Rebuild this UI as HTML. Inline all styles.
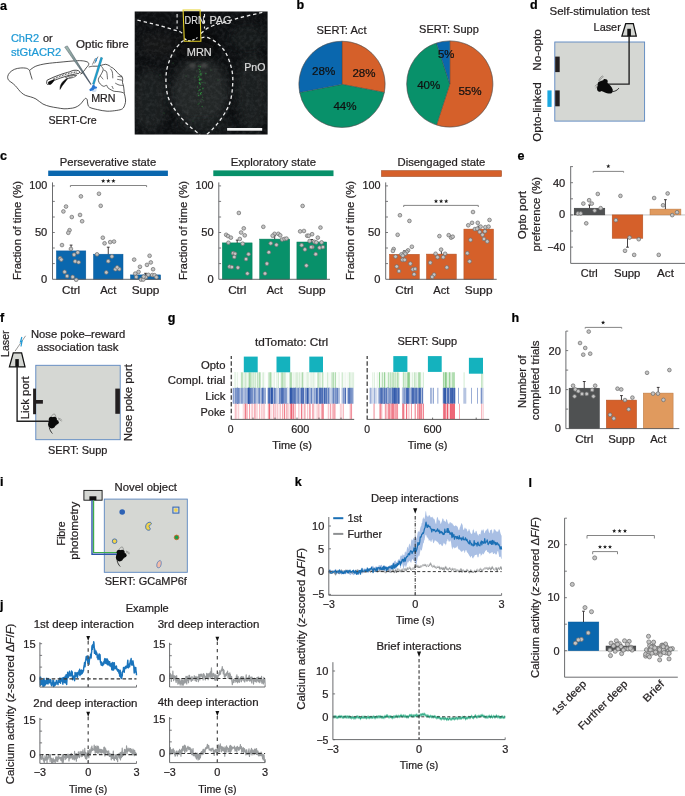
<!DOCTYPE html>
<html><head><meta charset="utf-8"><title>figure</title>
<style>html,body{margin:0;padding:0;background:#fff;overflow:hidden;}svg{display:block;}text{font-family:"Liberation Sans",sans-serif;}svg{-webkit-font-smoothing:antialiased;will-change:transform;}</style>
</head><body>
<svg width="685" height="796" viewBox="0 0 685 796">
<rect width="685" height="796" fill="#fff"/>
<text x="0.00" y="9.50" font-size="12.5" fill="#000" stroke="#000" stroke-width="0.22" font-weight="bold">a</text>
<text x="10.90" y="42.10" font-size="10.7" fill="#1f9ad6" stroke="#1f9ad6" stroke-width="0.22" textLength="28.2" lengthAdjust="spacingAndGlyphs">ChR2</text>
<text x="42.90" y="42.10" font-size="10.7" fill="#231f20" stroke="#231f20" stroke-width="0.22" textLength="9.7" lengthAdjust="spacingAndGlyphs">or</text>
<text x="10.90" y="55.70" font-size="10.7" fill="#1f9ad6" stroke="#1f9ad6" stroke-width="0.22" textLength="50.4" lengthAdjust="spacingAndGlyphs">stGtACR2</text>
<text x="76.00" y="48.40" font-size="10.7" fill="#231f20" stroke="#231f20" stroke-width="0.22" textLength="52.8" lengthAdjust="spacingAndGlyphs">Optic fibre</text>
<text x="48.40" y="124.00" font-size="10.7" fill="#231f20" stroke="#231f20" stroke-width="0.22" textLength="48.4" lengthAdjust="spacingAndGlyphs">SERT-Cre</text>
<path d="M29.60,70.30 C29.08,69.97 28.03,68.68 26.50,68.30 C24.97,67.92 22.40,67.83 20.40,68.00 C18.40,68.17 16.27,68.55 14.50,69.30 C12.73,70.05 10.93,71.30 9.80,72.50 C8.67,73.70 7.90,75.22 7.70,76.50 C7.50,77.78 7.88,79.15 8.60,80.20 C9.32,81.25 10.88,81.88 12.00,82.80 C13.12,83.72 14.22,84.58 15.30,85.70 C16.38,86.82 17.47,88.32 18.50,89.50 C19.53,90.68 20.33,91.82 21.50,92.80 C22.67,93.78 23.97,94.72 25.50,95.40 C27.03,96.08 28.95,96.30 30.70,96.90 C32.45,97.50 33.97,97.82 36.00,99.00 C38.03,100.18 40.57,102.75 42.90,104.00 C45.23,105.25 47.62,105.87 50.00,106.50 C52.38,107.13 54.87,107.42 57.20,107.80 C59.53,108.18 61.83,108.70 64.00,108.80 C66.17,108.90 68.37,108.62 70.20,108.40 C72.03,108.18 73.40,108.10 75.00,107.50 C76.60,106.90 78.47,105.88 79.80,104.80 C81.13,103.72 82.07,102.07 83.00,101.00 C83.93,99.93 84.70,98.63 85.40,98.40 C86.10,98.17 86.83,98.83 87.20,99.60 C87.57,100.37 87.22,101.73 87.60,103.00 C87.98,104.27 87.85,106.10 89.50,107.20 C91.15,108.30 94.57,108.93 97.50,109.60 C100.43,110.27 103.88,111.07 107.10,111.20 C110.32,111.33 114.25,110.80 116.80,110.40 C119.35,110.00 121.07,109.73 122.40,108.80 C123.73,107.87 124.27,106.27 124.80,104.80 C125.33,103.33 125.67,101.85 125.60,100.00 C125.53,98.15 124.68,95.55 124.40,93.70 C124.12,91.85 124.07,90.27 123.90,88.90 C123.73,87.53 123.63,86.55 123.40,85.50 C123.17,84.45 122.62,83.63 122.50,82.60 C122.38,81.57 122.78,80.33 122.70,79.30 C122.62,78.27 122.60,77.20 122.00,76.40 C121.40,75.60 120.23,75.55 119.10,74.50 C117.97,73.45 116.33,71.23 115.20,70.10 C114.07,68.97 113.02,68.18 112.30,67.70 C111.58,67.22 111.37,67.52 110.90,67.20 C110.43,66.88 110.38,66.28 109.50,65.80 C108.62,65.32 106.97,64.38 105.60,64.30 C104.23,64.22 102.65,64.98 101.30,65.30 C99.95,65.62 98.93,66.05 97.50,66.20 C96.07,66.35 94.17,66.07 92.70,66.20 C91.23,66.33 89.37,66.87 88.70,67.00" fill="none" stroke="#1a1a1a" stroke-width="0.75" />
<path d="M29.60,70.30 C30.63,69.62 33.07,67.30 35.80,66.20 C38.53,65.10 41.97,64.37 46.00,63.70 C50.03,63.03 55.12,62.68 60.00,62.20 C64.88,61.72 71.60,61.03 75.30,60.80 C79.00,60.57 80.25,60.63 82.20,60.80 C84.15,60.97 85.92,61.37 87.00,61.80 C88.08,62.23 88.48,62.80 88.70,63.40 C88.92,64.00 88.72,64.65 88.30,65.40 C87.88,66.15 86.95,66.95 86.20,67.90 C85.45,68.85 84.73,70.03 83.80,71.10 C82.87,72.17 81.13,73.77 80.60,74.30" fill="none" stroke="#1a1a1a" stroke-width="0.75" />
<path d="M29.60,70.30 C29.75,70.92 30.07,72.47 30.50,74.00 C30.93,75.53 31.92,78.58 32.20,79.50" fill="none" stroke="#1a1a1a" stroke-width="0.75" />
<path d="M101.30,66.30 C101.62,66.85 103.28,68.17 103.20,69.60 C103.12,71.03 101.52,73.53 100.80,74.90 C100.08,76.27 99.30,76.83 98.90,77.80 C98.50,78.77 98.17,79.65 98.40,80.70 C98.63,81.75 99.42,83.17 100.30,84.10 C101.18,85.03 102.65,86.10 103.70,86.30 C104.75,86.50 105.88,85.03 106.60,85.30 C107.32,85.57 107.12,87.07 108.00,87.90 C108.88,88.73 110.85,89.73 111.90,90.30 C112.95,90.87 113.27,91.08 114.30,91.30 C115.33,91.52 116.82,91.43 118.10,91.60 C119.38,91.77 121.03,92.03 122.00,92.30 C122.97,92.57 123.58,93.05 123.90,93.20" fill="none" stroke="#1a1a1a" stroke-width="0.7" />
<path d="M103.70,70.10 C104.18,70.42 105.97,70.47 106.60,72.00 C107.23,73.53 107.35,78.08 107.50,79.30" fill="none" stroke="#1a1a1a" stroke-width="0.65" />
<path d="M100.30,75.90 C100.78,76.47 102.72,78.73 103.20,79.30" fill="none" stroke="#1a1a1a" stroke-width="0.65" />
<path d="M110.40,68.70 C110.72,69.25 111.90,70.40 112.30,72.00 C112.70,73.60 112.72,77.25 112.80,78.30" fill="none" stroke="#1a1a1a" stroke-width="0.65" />
<path d="M117.60,76.40 C118.33,76.48 121.27,76.82 122.00,76.90" fill="none" stroke="#1a1a1a" stroke-width="0.65" />
<path d="M117.20,79.30 C118.00,79.45 121.20,80.05 122.00,80.20" fill="none" stroke="#1a1a1a" stroke-width="0.65" />
<path d="M115.20,83.10 C115.85,83.42 117.73,84.60 119.10,85.00 C120.47,85.40 122.68,85.42 123.40,85.50" fill="none" stroke="#1a1a1a" stroke-width="0.65" />
<path d="M111.90,86.00 C112.13,86.48 113.07,88.42 113.30,88.90" fill="none" stroke="#1a1a1a" stroke-width="0.65" />
<path d="M47.2,80.1 C52,77.8 56,76 60.4,74.6 C64,73.3 67,72.5 69.6,71.8 C71.5,71 72.8,70.4 73.9,70.3 C75.5,70.1 77.2,70.2 78.2,70.6 C79.3,71.1 79.9,71.8 79.7,72.3 C79.3,73 79,73.2 78.8,73.4 C74,74.3 70,75 66.5,76.1 C62,77.4 58,78.8 54.3,80.4 C52,81.5 50,83.2 48.1,84.4 C47.4,84.8 46.8,84.1 46.7,83 C46.6,81.8 46.8,80.6 47.2,80.1 Z" fill="#fff" stroke="#111" stroke-width="0.75" />
<path d="M53,79.2 C58,77 63,75.2 68,73.8 C71,73 73.5,72.3 77.5,71.9" fill="none" stroke="#333" stroke-width="1.3" stroke-dasharray="0.7 0.9"/>
<path d="M48.2,82 C49.5,81 52,79.9 55.2,79.2 C54,81 52.6,83 51.2,84.2 C50.2,84.9 49,84.9 48.5,84.2 C48.1,83.6 48,82.7 48.2,82 Z" fill="#0a0a0a" stroke="none" stroke-width="1" />
<path d="M60.0,89.4 C59.9,86 61.2,83.2 63.6,80.9 C65,79.6 66.6,78.6 68.2,78.0 C67.2,79.6 65.8,80.9 64.8,82.4 C63,84.4 61.4,86.8 60.0,89.4 Z" fill="#0a0a0a" stroke="#0a0a0a" stroke-width="0.5" />
<path d="M65.6,77.6 C68.5,76 72,75.3 76.6,75.5 C75.2,77 72,78 68.5,78.5 C67.2,78.6 66.1,78.3 65.6,77.6 Z" fill="#fff" stroke="#111" stroke-width="0.6" />
<path d="M68,77.3 C69.5,76.7 71.5,76.5 73.4,76.7 C71.8,77.4 70,77.8 68,77.3 Z" fill="#111" stroke="none" stroke-width="1" />
<path d="M79.7,72.3 C80.8,73.2 82,73.3 83.7,72.7" fill="none" stroke="#111" stroke-width="0.6" />
<text x="91.20" y="101.60" font-size="10.7" fill="#231f20" stroke="#231f20" stroke-width="0.22" textLength="24.4" lengthAdjust="spacingAndGlyphs">MRN</text>
<defs><linearGradient id="ng" x1="0" y1="0" x2="1" y2="1"><stop offset="0" stop-color="#a3bdb3"/><stop offset="0.55" stop-color="#6f8486"/><stop offset="1" stop-color="#2f3a50"/></linearGradient></defs>
<path d="M64.7,47.1 L67.3,45.9 L91.2,84.3 L90.7,84.5 Z" fill="url(#ng)" stroke="#3b4655" stroke-width="0.45" />
<path d="M100.8,57.3 L102.6,57.9 L94.2,84.5 L92.5,84.0 Z" fill="#1aa6d6" stroke="#0d5d80" stroke-width="0.4" />
<circle cx="94.00" cy="89.50" r="2.6" fill="#c8dcf3" stroke="none" stroke-width="0.7" opacity="0.8"/>
<path d="M89.3,89.6 L91.6,87.6 L92.6,85.0 L94.2,84.6 L95.0,86.2 L97.2,87.0 L96.6,88.6 L94.6,88.8 L93.4,90.2 L91.6,90.8 L90.0,91.2 Z" fill="#1f6fd0" stroke="none" stroke-width="1" opacity="0.95"/>
<path d="M95.5,58.2 L92.4,64.6 M98.0,56.6 L94.6,63.4" fill="none" stroke="#222" stroke-width="0.55" />
<path d="M96.9,57.8 L95.6,60.4 L96.6,60.0 L95.4,62.4" fill="none" stroke="#1e8fd6" stroke-width="0.9" />
<defs><filter id="noise" x="0" y="0" width="100%" height="100%"><feTurbulence type="fractalNoise" baseFrequency="0.28" numOctaves="3" seed="3"/><feColorMatrix type="matrix" values="0 0 0 0 0.8  0 0 0 0 0.85  0 0 0 0 0.9  0 0 0 0.75 -0.28"/></filter><filter id="blur3"><feGaussianBlur stdDeviation="4"/></filter><filter id="blur1"><feGaussianBlur stdDeviation="1.2"/></filter><clipPath id="mclip"><rect x="134.7" y="11.5" width="132.9" height="123"/></clipPath></defs>
<rect x="134.70" y="11.50" width="132.90" height="123.00" fill="#0d0f11" />
<g clip-path="url(#mclip)">
<ellipse cx="200" cy="92" rx="28" ry="34" fill="#26292a" opacity="0.9" filter="url(#blur3)"/>
<ellipse cx="150" cy="100" rx="18" ry="32" fill="#222527" opacity="0.7" filter="url(#blur3)"/>
<ellipse cx="252" cy="92" rx="16" ry="40" fill="#222527" opacity="0.7" filter="url(#blur3)"/>
<ellipse cx="160" cy="45" rx="22" ry="12" fill="#1a1d1f" opacity="0.6" filter="url(#blur3)"/>
<ellipse cx="248" cy="38" rx="18" ry="14" fill="#1d2022" opacity="0.6" filter="url(#blur3)"/>
<ellipse cx="205" cy="125" rx="30" ry="10" fill="#1f2224" opacity="0.6" filter="url(#blur3)"/>
<rect x="134.70" y="11.50" width="132.90" height="123.00" fill="#fff" filter="url(#noise)" opacity="0.22"/>
<ellipse cx="195" cy="42" rx="22" ry="9" fill="#070707" opacity="0.8" filter="url(#blur3)"/>
<ellipse cx="197" cy="50" rx="18" ry="9" fill="#080808" opacity="0.7" filter="url(#blur3)"/>
<path d="M183.2,10 L200.1,10 L200.9,41.3 L184.3,41.3 Z" fill="#030303" stroke="none" stroke-width="1" />
<ellipse cx="192" cy="65.5" rx="3.2" ry="2.6" fill="#4a4c4b" opacity="0.8" filter="url(#blur1)"/>
<ellipse cx="204" cy="65.5" rx="3.2" ry="2.6" fill="#4a4c4b" opacity="0.8" filter="url(#blur1)"/>
</g>
<circle cx="198.70" cy="68.90" r="0.5" fill="#36b046" stroke="none" stroke-width="0.7" opacity="0.48"/>
<circle cx="198.73" cy="95.47" r="0.71" fill="#36b046" stroke="none" stroke-width="0.7" opacity="0.68"/>
<circle cx="200.13" cy="74.49" r="0.46" fill="#36b046" stroke="none" stroke-width="0.7" opacity="0.70"/>
<circle cx="199.12" cy="103.19" r="0.7" fill="#36b046" stroke="none" stroke-width="0.7" opacity="0.31"/>
<circle cx="197.72" cy="86.35" r="0.48" fill="#36b046" stroke="none" stroke-width="0.7" opacity="0.66"/>
<circle cx="197.59" cy="77.41" r="0.44" fill="#36b046" stroke="none" stroke-width="0.7" opacity="0.44"/>
<circle cx="198.10" cy="104.16" r="0.72" fill="#36b046" stroke="none" stroke-width="0.7" opacity="0.34"/>
<circle cx="197.94" cy="93.40" r="0.57" fill="#36b046" stroke="none" stroke-width="0.7" opacity="0.41"/>
<circle cx="205.16" cy="82.97" r="0.61" fill="#36b046" stroke="none" stroke-width="0.7" opacity="0.35"/>
<circle cx="199.51" cy="80.57" r="0.51" fill="#36b046" stroke="none" stroke-width="0.7" opacity="0.66"/>
<circle cx="200.51" cy="86.21" r="0.41" fill="#36b046" stroke="none" stroke-width="0.7" opacity="0.62"/>
<circle cx="198.03" cy="99.83" r="0.48" fill="#36b046" stroke="none" stroke-width="0.7" opacity="0.48"/>
<circle cx="200.29" cy="71.67" r="0.48" fill="#36b046" stroke="none" stroke-width="0.7" opacity="0.74"/>
<circle cx="199.89" cy="83.75" r="0.69" fill="#36b046" stroke="none" stroke-width="0.7" opacity="0.67"/>
<circle cx="200.62" cy="70.30" r="0.39" fill="#36b046" stroke="none" stroke-width="0.7" opacity="0.69"/>
<circle cx="201.00" cy="73.64" r="0.49" fill="#36b046" stroke="none" stroke-width="0.7" opacity="0.72"/>
<circle cx="200.40" cy="89.73" r="0.48" fill="#36b046" stroke="none" stroke-width="0.7" opacity="0.66"/>
<circle cx="199.69" cy="72.71" r="0.63" fill="#36b046" stroke="none" stroke-width="0.7" opacity="0.30"/>
<circle cx="201.74" cy="82.63" r="0.44" fill="#36b046" stroke="none" stroke-width="0.7" opacity="0.57"/>
<circle cx="200.56" cy="93.23" r="0.66" fill="#36b046" stroke="none" stroke-width="0.7" opacity="0.72"/>
<circle cx="200.32" cy="66.75" r="0.7" fill="#36b046" stroke="none" stroke-width="0.7" opacity="0.53"/>
<circle cx="196.67" cy="70.98" r="0.37" fill="#36b046" stroke="none" stroke-width="0.7" opacity="0.54"/>
<circle cx="199.54" cy="69.55" r="0.59" fill="#36b046" stroke="none" stroke-width="0.7" opacity="0.63"/>
<circle cx="200.54" cy="93.76" r="0.57" fill="#36b046" stroke="none" stroke-width="0.7" opacity="0.60"/>
<circle cx="202.12" cy="99.54" r="0.53" fill="#36b046" stroke="none" stroke-width="0.7" opacity="0.42"/>
<circle cx="199.84" cy="71.35" r="0.63" fill="#36b046" stroke="none" stroke-width="0.7" opacity="0.41"/>
<circle cx="201.10" cy="73.17" r="0.53" fill="#36b046" stroke="none" stroke-width="0.7" opacity="0.42"/>
<circle cx="198.56" cy="75.99" r="0.43" fill="#36b046" stroke="none" stroke-width="0.7" opacity="0.45"/>
<circle cx="203.20" cy="82.66" r="0.37" fill="#36b046" stroke="none" stroke-width="0.7" opacity="0.40"/>
<circle cx="201.63" cy="92.59" r="0.59" fill="#36b046" stroke="none" stroke-width="0.7" opacity="0.71"/>
<circle cx="200.96" cy="94.49" r="0.6" fill="#36b046" stroke="none" stroke-width="0.7" opacity="0.53"/>
<circle cx="205.85" cy="73.48" r="0.73" fill="#36b046" stroke="none" stroke-width="0.7" opacity="0.47"/>
<circle cx="200.49" cy="101.62" r="0.46" fill="#36b046" stroke="none" stroke-width="0.7" opacity="0.40"/>
<circle cx="199.55" cy="74.87" r="0.72" fill="#36b046" stroke="none" stroke-width="0.7" opacity="0.36"/>
<circle cx="202.95" cy="88.24" r="0.72" fill="#36b046" stroke="none" stroke-width="0.7" opacity="0.61"/>
<circle cx="200.51" cy="73.48" r="0.38" fill="#36b046" stroke="none" stroke-width="0.7" opacity="0.54"/>
<circle cx="200.87" cy="79.41" r="0.48" fill="#36b046" stroke="none" stroke-width="0.7" opacity="0.49"/>
<circle cx="200.19" cy="83.78" r="0.38" fill="#36b046" stroke="none" stroke-width="0.7" opacity="0.47"/>
<circle cx="202.69" cy="97.19" r="0.67" fill="#36b046" stroke="none" stroke-width="0.7" opacity="0.42"/>
<circle cx="199.60" cy="78.22" r="0.66" fill="#36b046" stroke="none" stroke-width="0.7" opacity="0.51"/>
<circle cx="202.83" cy="82.23" r="0.49" fill="#36b046" stroke="none" stroke-width="0.7" opacity="0.67"/>
<circle cx="199.64" cy="89.87" r="0.61" fill="#36b046" stroke="none" stroke-width="0.7" opacity="0.39"/>
<circle cx="198.58" cy="90.64" r="0.69" fill="#36b046" stroke="none" stroke-width="0.7" opacity="0.41"/>
<circle cx="202.69" cy="88.88" r="0.68" fill="#36b046" stroke="none" stroke-width="0.7" opacity="0.31"/>
<circle cx="202.19" cy="106.49" r="0.74" fill="#36b046" stroke="none" stroke-width="0.7" opacity="0.46"/>
<circle cx="198.85" cy="66.10" r="0.67" fill="#36b046" stroke="none" stroke-width="0.7" opacity="0.60"/>
<circle cx="203.84" cy="100.23" r="0.38" fill="#36b046" stroke="none" stroke-width="0.7" opacity="0.56"/>
<circle cx="198.87" cy="76.85" r="0.63" fill="#36b046" stroke="none" stroke-width="0.7" opacity="0.75"/>
<circle cx="200.38" cy="84.29" r="0.63" fill="#36b046" stroke="none" stroke-width="0.7" opacity="0.53"/>
<circle cx="199.54" cy="68.07" r="0.38" fill="#36b046" stroke="none" stroke-width="0.7" opacity="0.44"/>
<circle cx="199.22" cy="79.70" r="0.67" fill="#36b046" stroke="none" stroke-width="0.7" opacity="0.73"/>
<circle cx="201.02" cy="73.91" r="0.5" fill="#36b046" stroke="none" stroke-width="0.7" opacity="0.63"/>
<circle cx="194.90" cy="77.10" r="0.7" fill="#36b046" stroke="none" stroke-width="0.7" opacity="0.36"/>
<circle cx="197.45" cy="87.55" r="0.43" fill="#36b046" stroke="none" stroke-width="0.7" opacity="0.49"/>
<circle cx="199.32" cy="82.53" r="0.61" fill="#36b046" stroke="none" stroke-width="0.7" opacity="0.56"/>
<circle cx="200.50" cy="79.50" r="1.1" fill="#36b046" stroke="none" stroke-width="0.7" opacity="0.6"/>
<circle cx="199.50" cy="83.00" r="0.8" fill="#36b046" stroke="none" stroke-width="0.7" opacity="0.6"/>
<circle cx="201.00" cy="75.00" r="0.7" fill="#36b046" stroke="none" stroke-width="0.7" opacity="0.6"/>
<circle cx="199.80" cy="90.00" r="0.7" fill="#36b046" stroke="none" stroke-width="0.7" opacity="0.6"/>
<circle cx="160.00" cy="75.00" r="0.4" fill="#3cc24e" stroke="none" stroke-width="0.7" opacity="0.7"/>
<circle cx="164.00" cy="113.00" r="0.4" fill="#3cc24e" stroke="none" stroke-width="0.7" opacity="0.7"/>
<circle cx="173.00" cy="63.00" r="0.4" fill="#3cc24e" stroke="none" stroke-width="0.7" opacity="0.7"/>
<circle cx="193.00" cy="121.00" r="0.4" fill="#3cc24e" stroke="none" stroke-width="0.7" opacity="0.7"/>
<circle cx="218.00" cy="80.00" r="0.4" fill="#3cc24e" stroke="none" stroke-width="0.7" opacity="0.7"/>
<circle cx="186.00" cy="76.00" r="0.4" fill="#3cc24e" stroke="none" stroke-width="0.7" opacity="0.7"/>
<circle cx="211.00" cy="70.00" r="0.4" fill="#3cc24e" stroke="none" stroke-width="0.7" opacity="0.7"/>
<path d="M183.80,40.60 C183.38,40.87 182.83,40.63 181.30,42.20 C179.77,43.77 176.48,47.15 174.60,50.00 C172.72,52.85 171.32,55.97 170.00,59.30 C168.68,62.63 167.37,66.00 166.70,70.00 C166.03,74.00 165.78,78.87 166.00,83.30 C166.22,87.73 166.78,92.62 168.00,96.60 C169.22,100.58 171.08,103.65 173.30,107.20 C175.52,110.75 178.42,114.57 181.30,117.90 C184.18,121.23 187.48,124.43 190.60,127.20 C193.72,129.97 198.43,133.28 200.00,134.50" fill="none" stroke="#ededed" stroke-width="1.3" stroke-dasharray="3.4 2.8" stroke-linecap="butt"/>
<path d="M201.20,37.80 C202.10,37.72 204.15,36.60 206.60,37.30 C209.05,38.00 213.02,39.88 215.90,42.00 C218.78,44.12 221.68,46.90 223.90,50.00 C226.12,53.10 227.77,56.62 229.20,60.60 C230.63,64.58 231.95,69.47 232.50,73.90 C233.05,78.33 232.83,82.75 232.50,87.20 C232.17,91.65 231.48,96.82 230.50,100.60 C229.52,104.38 228.37,106.58 226.60,109.90 C224.83,113.22 222.35,117.17 219.90,120.50 C217.45,123.83 214.12,127.57 211.90,129.90 C209.68,132.23 207.48,133.73 206.60,134.50" fill="none" stroke="#ededed" stroke-width="1.3" stroke-dasharray="3.4 2.8" stroke-linecap="butt"/>
<path d="M184.5,38.5 C186,40 188,41 190,40.8 C192.5,40.6 195,39 197.5,37.6" fill="none" stroke="#ededed" stroke-width="1.1" stroke-dasharray="2.6 1.6"/>
<path d="M137.4,20.2 C146,22 154,24 161.8,26.2 C168,28 174,30 179.7,31.5 C181.5,32.5 183,33.5 183.8,35" fill="none" stroke="#ededed" stroke-width="1.3" stroke-dasharray="3.4 2.8" stroke-linecap="butt"/>
<path d="M262.3,12.4 C254,14.5 244,16.5 235.8,18.8 C228,21 221,23 214.7,25.1 C209,27 205,29.5 202,32.5 C201,33.5 200.5,34.5 200.3,35.5" fill="none" stroke="#ededed" stroke-width="1.3" stroke-dasharray="3.4 2.8" stroke-linecap="butt"/>
<path d="M177.1,14 L177.1,29" fill="none" stroke="#ededed" stroke-width="1.1" stroke-dasharray="3.4 2.8" stroke-linecap="butt"/>
<path d="M204.5,14 L204.5,28.5" fill="none" stroke="#ededed" stroke-width="1.1" stroke-dasharray="3.4 2.8" stroke-linecap="butt"/>
<path d="M183.1,10.0 L200.1,10.0 L200.9,41.3 L184.3,41.3 Z" fill="none" stroke="#e6d22a" stroke-width="1.1" />
<text x="184.60" y="23.60" font-size="10.7" fill="#dcdcdc" stroke="#dcdcdc" stroke-width="0.22" textLength="20" lengthAdjust="spacingAndGlyphs">DRN</text>
<text x="209.40" y="23.60" font-size="10.7" fill="#dcdcdc" stroke="#dcdcdc" stroke-width="0.22" textLength="22.2" lengthAdjust="spacingAndGlyphs">PAG</text>
<text x="186.80" y="56.00" font-size="10.7" fill="#dcdcdc" stroke="#dcdcdc" stroke-width="0.22" textLength="25.0" lengthAdjust="spacingAndGlyphs">MRN</text>
<text x="244.30" y="70.60" font-size="10.7" fill="#dcdcdc" stroke="#dcdcdc" stroke-width="0.22" textLength="21.2" lengthAdjust="spacingAndGlyphs">PnO</text>
<rect x="227.10" y="128.00" width="35.10" height="2.70" fill="#f4f4f4" />
<text x="296.60" y="8.80" font-size="12.5" fill="#000" stroke="#000" stroke-width="0.22" font-weight="bold">b</text>
<path d="M342.0,84.35 L342.00,41.25 A43.1,43.1 0 0 1 384.34,92.43 Z" fill="#d5602a" stroke="#3a3a3a" stroke-width="0.35" />
<path d="M342.0,84.35 L384.34,92.43 A43.1,43.1 0 0 1 299.66,92.43 Z" fill="#08916a" stroke="#3a3a3a" stroke-width="0.35" />
<path d="M342.0,84.35 L299.66,92.43 A43.1,43.1 0 0 1 342.00,41.25 Z" fill="#0a67ae" stroke="#3a3a3a" stroke-width="0.35" />
<circle cx="342.00" cy="84.35" r="43.1" fill="none" stroke="#555" stroke-width="0.4" />
<path d="M449.8,84.0 L449.80,40.90 A43.1,43.1 0 1 1 436.48,124.99 Z" fill="#d5602a" stroke="#3a3a3a" stroke-width="0.35" />
<path d="M449.8,84.0 L436.48,124.99 A43.1,43.1 0 0 1 436.48,43.01 Z" fill="#08916a" stroke="#3a3a3a" stroke-width="0.35" />
<path d="M449.8,84.0 L436.48,43.01 A43.1,43.1 0 0 1 449.80,40.90 Z" fill="#0a67ae" stroke="#3a3a3a" stroke-width="0.35" />
<circle cx="449.80" cy="84.00" r="43.1" fill="none" stroke="#555" stroke-width="0.4" />
<text x="316.60" y="33.80" font-size="10.7" fill="#231f20" stroke="#231f20" stroke-width="0.22" textLength="49.9" lengthAdjust="spacingAndGlyphs">SERT: Act</text>
<text x="419.10" y="33.40" font-size="10.7" fill="#231f20" stroke="#231f20" stroke-width="0.22" textLength="59.7" lengthAdjust="spacingAndGlyphs">SERT: Supp</text>
<text x="312.00" y="75.30" font-size="11" fill="#111" stroke="#111" stroke-width="0.22" textLength="23.2" lengthAdjust="spacingAndGlyphs">28%</text>
<text x="352.40" y="77.10" font-size="11" fill="#111" stroke="#111" stroke-width="0.22" textLength="23.1" lengthAdjust="spacingAndGlyphs">28%</text>
<text x="333.40" y="109.50" font-size="11" fill="#111" stroke="#111" stroke-width="0.22" textLength="23.2" lengthAdjust="spacingAndGlyphs">44%</text>
<text x="438.00" y="58.40" font-size="11" fill="#111" stroke="#111" stroke-width="0.22" textLength="16.4" lengthAdjust="spacingAndGlyphs">5%</text>
<text x="417.20" y="89.20" font-size="11" fill="#111" stroke="#111" stroke-width="0.22" textLength="23.1" lengthAdjust="spacingAndGlyphs">40%</text>
<text x="458.40" y="95.30" font-size="11" fill="#111" stroke="#111" stroke-width="0.22" textLength="23.3" lengthAdjust="spacingAndGlyphs">55%</text>
<text x="529.90" y="8.50" font-size="12.5" fill="#000" stroke="#000" stroke-width="0.22" font-weight="bold">d</text>
<text x="549.50" y="14.80" font-size="10.7" fill="#231f20" stroke="#231f20" stroke-width="0.22" textLength="100.5" lengthAdjust="spacingAndGlyphs">Self-stimulation test</text>
<text x="593.60" y="30.70" font-size="10.7" fill="#231f20" stroke="#231f20" stroke-width="0.22" textLength="27.2" lengthAdjust="spacingAndGlyphs">Laser</text>
<rect x="554.80" y="42.00" width="89.80" height="79.10" fill="#d5d7d3" stroke="#5a86c0" stroke-width="0.9"/>
<rect x="555.20" y="56.60" width="4.50" height="15.50" fill="#231f20" />
<rect x="555.20" y="90.40" width="4.50" height="15.90" fill="#231f20" />
<rect x="547.40" y="90.40" width="4.20" height="16.50" fill="#1aa7e0" />
<path d="M625.7,23.7 L633.3,23.7 L636.3,36.1 L621.9,36.1 Z" fill="#d5d7d3" stroke="#111" stroke-width="1.25" />
<rect x="627.30" y="28.80" width="3.60" height="7.50" fill="#111" />
<path d="M629.1,36 L629.1,84.1 L602.8,84.1" fill="none" stroke="#222" stroke-width="1.4" />
<path d="M598.4,82 C600,81 602,80.6 603.2,80.2 C603.5,78.5 605.5,78.6 606.8,79.6 C608,80.5 607.8,82.2 607.4,83 C609.5,84.5 611.8,86.5 612.7,89.4 C613.2,91.5 612.2,93.3 610.4,93.5 C608.5,93.6 606,93.2 604.3,92.2 C603,91.6 602,91.2 601.6,91 C600.5,92.2 598.5,92 597.4,90.4 C596.8,89 597,87 597.7,85.8 C597.6,84.5 597.6,83.2 598.4,82 Z" fill="#0a0a0a" stroke="none" stroke-width="1" />
<path d="M612.3,91.6 C614.8,91.5 617.5,90.3 618.9,88.1" fill="none" stroke="#0a0a0a" stroke-width="0.8" />
<path d="M598.7,80.8 C599.3,78.5 600.8,76.6 602.8,75.8 M599.6,81 C600.4,79 601.8,77.4 603.6,76.7 M598,84.2 C596.8,84.5 595.6,85.3 594.8,86.4 M597.8,85.6 C596.9,86.3 596.2,87.3 595.9,88.4" fill="none" stroke="#333" stroke-width="0.4" />
<text x="540.60" y="70.80" font-size="10.7" fill="#231f20" stroke="#231f20" stroke-width="0.22" textLength="41.6" lengthAdjust="spacingAndGlyphs" transform="rotate(-90 540.60 70.80)">No-opto</text>
<text x="540.60" y="141.80" font-size="10.7" fill="#231f20" stroke="#231f20" stroke-width="0.22" textLength="59.4" lengthAdjust="spacingAndGlyphs" transform="rotate(-90 540.60 141.80)">Opto-linked</text>
<text x="0.00" y="159.50" font-size="12.5" fill="#000" stroke="#000" stroke-width="0.22" font-weight="bold">c</text>
<rect x="48.20" y="170.60" width="119.70" height="5.40" fill="#0a67ae" />
<text x="59.80" y="166.00" font-size="10.7" fill="#231f20" stroke="#231f20" stroke-width="0.22" textLength="96.39999999999999" lengthAdjust="spacingAndGlyphs">Perseverative state</text>
<rect x="56.40" y="250.90" width="29.40" height="28.40" fill="#0a67ae" stroke="#0a5a98" stroke-width="0.5"/>
<line x1="71.10" y1="250.90" x2="71.10" y2="245.10" stroke="#231f20" stroke-width="0.85" />
<line x1="69.70" y1="245.10" x2="72.50" y2="245.10" stroke="#231f20" stroke-width="0.85" />
<rect x="93.50" y="254.20" width="29.50" height="25.10" fill="#0a67ae" stroke="#0a5a98" stroke-width="0.5"/>
<line x1="108.25" y1="254.20" x2="108.25" y2="247.20" stroke="#231f20" stroke-width="0.85" />
<line x1="106.85" y1="247.20" x2="109.65" y2="247.20" stroke="#231f20" stroke-width="0.85" />
<rect x="130.50" y="274.90" width="30.10" height="4.40" fill="#0a67ae" stroke="#0a5a98" stroke-width="0.5"/>
<line x1="145.55" y1="274.90" x2="145.55" y2="273.30" stroke="#231f20" stroke-width="0.85" />
<line x1="144.15" y1="273.30" x2="146.95" y2="273.30" stroke="#231f20" stroke-width="0.85" />
<line x1="52.50" y1="182.40" x2="52.50" y2="279.30" stroke="#5a5b5d" stroke-width="0.9" />
<line x1="52.50" y1="185.90" x2="54.80" y2="185.90" stroke="#5a5b5d" stroke-width="0.8" />
<line x1="52.50" y1="201.40" x2="54.80" y2="201.40" stroke="#5a5b5d" stroke-width="0.8" />
<line x1="52.50" y1="217.00" x2="54.80" y2="217.00" stroke="#5a5b5d" stroke-width="0.8" />
<line x1="52.50" y1="232.50" x2="54.80" y2="232.50" stroke="#5a5b5d" stroke-width="0.8" />
<line x1="52.50" y1="248.00" x2="54.80" y2="248.00" stroke="#5a5b5d" stroke-width="0.8" />
<line x1="52.50" y1="263.60" x2="54.80" y2="263.60" stroke="#5a5b5d" stroke-width="0.8" />
<line x1="52.50" y1="279.30" x2="161.00" y2="279.30" stroke="#5a5b5d" stroke-width="0.9" />
<circle cx="80.91" cy="196.37" r="1.85" fill="#c4c4c4" stroke="#6b6b6b" stroke-width="0.7" />
<circle cx="66.02" cy="206.53" r="1.85" fill="#c4c4c4" stroke="#6b6b6b" stroke-width="0.7" />
<circle cx="63.40" cy="211.44" r="1.85" fill="#c4c4c4" stroke="#6b6b6b" stroke-width="0.7" />
<circle cx="71.80" cy="217.05" r="1.85" fill="#c4c4c4" stroke="#6b6b6b" stroke-width="0.7" />
<circle cx="80.04" cy="214.94" r="1.85" fill="#c4c4c4" stroke="#6b6b6b" stroke-width="0.7" />
<circle cx="82.14" cy="221.25" r="1.85" fill="#c4c4c4" stroke="#6b6b6b" stroke-width="0.7" />
<circle cx="69.53" cy="230.19" r="1.85" fill="#c4c4c4" stroke="#6b6b6b" stroke-width="0.7" />
<circle cx="68.30" cy="232.81" r="1.85" fill="#c4c4c4" stroke="#6b6b6b" stroke-width="0.7" />
<circle cx="61.99" cy="245.08" r="1.85" fill="#c4c4c4" stroke="#6b6b6b" stroke-width="0.7" />
<circle cx="70.93" cy="248.93" r="1.85" fill="#c4c4c4" stroke="#6b6b6b" stroke-width="0.7" />
<circle cx="77.76" cy="252.44" r="1.85" fill="#c4c4c4" stroke="#6b6b6b" stroke-width="0.7" />
<circle cx="74.08" cy="254.71" r="1.85" fill="#c4c4c4" stroke="#6b6b6b" stroke-width="0.7" />
<circle cx="60.07" cy="258.22" r="1.85" fill="#c4c4c4" stroke="#6b6b6b" stroke-width="0.7" />
<circle cx="61.29" cy="259.62" r="1.85" fill="#c4c4c4" stroke="#6b6b6b" stroke-width="0.7" />
<circle cx="75.13" cy="261.37" r="1.85" fill="#c4c4c4" stroke="#6b6b6b" stroke-width="0.7" />
<circle cx="78.64" cy="262.25" r="1.85" fill="#c4c4c4" stroke="#6b6b6b" stroke-width="0.7" />
<circle cx="64.62" cy="271.88" r="1.85" fill="#c4c4c4" stroke="#6b6b6b" stroke-width="0.7" />
<circle cx="67.07" cy="276.09" r="1.85" fill="#c4c4c4" stroke="#6b6b6b" stroke-width="0.7" />
<circle cx="72.68" cy="276.96" r="1.85" fill="#c4c4c4" stroke="#6b6b6b" stroke-width="0.7" />
<circle cx="76.18" cy="279.77" r="1.85" fill="#c4c4c4" stroke="#6b6b6b" stroke-width="0.7" />
<circle cx="98.96" cy="193.75" r="1.85" fill="#c4c4c4" stroke="#6b6b6b" stroke-width="0.7" />
<circle cx="100.71" cy="205.83" r="1.85" fill="#c4c4c4" stroke="#6b6b6b" stroke-width="0.7" />
<circle cx="102.81" cy="237.72" r="1.85" fill="#c4c4c4" stroke="#6b6b6b" stroke-width="0.7" />
<circle cx="104.57" cy="243.33" r="1.85" fill="#c4c4c4" stroke="#6b6b6b" stroke-width="0.7" />
<circle cx="110.17" cy="242.10" r="1.85" fill="#c4c4c4" stroke="#6b6b6b" stroke-width="0.7" />
<circle cx="114.03" cy="241.57" r="1.85" fill="#c4c4c4" stroke="#6b6b6b" stroke-width="0.7" />
<circle cx="97.03" cy="254.36" r="1.85" fill="#c4c4c4" stroke="#6b6b6b" stroke-width="0.7" />
<circle cx="111.92" cy="256.46" r="1.85" fill="#c4c4c4" stroke="#6b6b6b" stroke-width="0.7" />
<circle cx="108.24" cy="261.19" r="1.85" fill="#c4c4c4" stroke="#6b6b6b" stroke-width="0.7" />
<circle cx="115.43" cy="269.25" r="1.85" fill="#c4c4c4" stroke="#6b6b6b" stroke-width="0.7" />
<circle cx="119.28" cy="269.08" r="1.85" fill="#c4c4c4" stroke="#6b6b6b" stroke-width="0.7" />
<circle cx="117.18" cy="267.33" r="1.85" fill="#c4c4c4" stroke="#6b6b6b" stroke-width="0.7" />
<circle cx="106.32" cy="272.41" r="1.85" fill="#c4c4c4" stroke="#6b6b6b" stroke-width="0.7" />
<circle cx="134.17" cy="259.62" r="1.85" fill="#c4c4c4" stroke="#6b6b6b" stroke-width="0.7" />
<circle cx="149.59" cy="255.76" r="1.85" fill="#c4c4c4" stroke="#6b6b6b" stroke-width="0.7" />
<circle cx="150.82" cy="262.42" r="1.85" fill="#c4c4c4" stroke="#6b6b6b" stroke-width="0.7" />
<circle cx="146.96" cy="264.87" r="1.85" fill="#c4c4c4" stroke="#6b6b6b" stroke-width="0.7" />
<circle cx="139.95" cy="266.80" r="1.85" fill="#c4c4c4" stroke="#6b6b6b" stroke-width="0.7" />
<circle cx="153.09" cy="269.25" r="1.85" fill="#c4c4c4" stroke="#6b6b6b" stroke-width="0.7" />
<circle cx="138.55" cy="271.88" r="1.85" fill="#c4c4c4" stroke="#6b6b6b" stroke-width="0.7" />
<circle cx="135.22" cy="273.63" r="1.85" fill="#c4c4c4" stroke="#6b6b6b" stroke-width="0.7" />
<circle cx="136.28" cy="276.96" r="1.85" fill="#c4c4c4" stroke="#6b6b6b" stroke-width="0.7" />
<circle cx="141.01" cy="279.59" r="1.85" fill="#c4c4c4" stroke="#6b6b6b" stroke-width="0.7" />
<circle cx="143.28" cy="279.59" r="1.85" fill="#c4c4c4" stroke="#6b6b6b" stroke-width="0.7" />
<circle cx="145.74" cy="277.14" r="1.85" fill="#c4c4c4" stroke="#6b6b6b" stroke-width="0.7" />
<circle cx="148.36" cy="274.86" r="1.85" fill="#c4c4c4" stroke="#6b6b6b" stroke-width="0.7" />
<circle cx="152.22" cy="275.04" r="1.85" fill="#c4c4c4" stroke="#6b6b6b" stroke-width="0.7" />
<circle cx="154.50" cy="275.21" r="1.85" fill="#c4c4c4" stroke="#6b6b6b" stroke-width="0.7" />
<circle cx="156.42" cy="277.14" r="1.85" fill="#c4c4c4" stroke="#6b6b6b" stroke-width="0.7" />
<circle cx="143.63" cy="276.61" r="1.85" fill="#c4c4c4" stroke="#6b6b6b" stroke-width="0.7" />
<text x="47.30" y="189.00" font-size="10.5" fill="#231f20" stroke="#231f20" stroke-width="0.22" text-anchor="end" textLength="18.1" lengthAdjust="spacingAndGlyphs">100</text>
<text x="47.30" y="236.10" font-size="10.5" fill="#231f20" stroke="#231f20" stroke-width="0.22" text-anchor="end" textLength="12.4" lengthAdjust="spacingAndGlyphs">50</text>
<text x="47.30" y="283.00" font-size="10.5" fill="#231f20" stroke="#231f20" stroke-width="0.22" text-anchor="end" textLength="6.2" lengthAdjust="spacingAndGlyphs">0</text>
<text x="71.10" y="293.90" font-size="10.5" fill="#231f20" stroke="#231f20" stroke-width="0.22" text-anchor="middle" textLength="18.1" lengthAdjust="spacingAndGlyphs">Ctrl</text>
<text x="108.25" y="293.90" font-size="10.5" fill="#231f20" stroke="#231f20" stroke-width="0.22" text-anchor="middle" textLength="16.1" lengthAdjust="spacingAndGlyphs">Act</text>
<text x="145.55" y="293.90" font-size="10.5" fill="#231f20" stroke="#231f20" stroke-width="0.22" text-anchor="middle" textLength="27.7" lengthAdjust="spacingAndGlyphs">Supp</text>
<text x="21.00" y="280.10" font-size="10.5" fill="#231f20" stroke="#231f20" stroke-width="0.22" textLength="99.2" lengthAdjust="spacingAndGlyphs" transform="rotate(-90 21.00 280.10)">Fraction of time (%)</text>
<path d="M70.40,187.10 L70.40,185.50 L146.60,185.50 L146.60,187.10" fill="none" stroke="#777" stroke-width="0.9" />
<polygon points="103.20,178.70 103.77,180.22 105.39,180.29 104.12,181.30 104.55,182.86 103.20,181.97 101.85,182.86 102.28,181.30 101.01,180.29 102.63,180.22" fill="#1a1a1a"/>
<polygon points="108.30,178.70 108.87,180.22 110.49,180.29 109.22,181.30 109.65,182.86 108.30,181.97 106.95,182.86 107.38,181.30 106.11,180.29 107.73,180.22" fill="#1a1a1a"/>
<polygon points="113.40,178.70 113.97,180.22 115.59,180.29 114.32,181.30 114.75,182.86 113.40,181.97 112.05,182.86 112.48,181.30 111.21,180.29 112.83,180.22" fill="#1a1a1a"/>
<rect x="213.30" y="170.40" width="120.20" height="5.70" fill="#08916a" />
<text x="230.70" y="166.00" font-size="10.7" fill="#231f20" stroke="#231f20" stroke-width="0.22" textLength="85.30000000000001" lengthAdjust="spacingAndGlyphs">Exploratory state</text>
<rect x="222.30" y="242.90" width="29.80" height="36.40" fill="#08916a" stroke="#067a57" stroke-width="0.5"/>
<line x1="237.20" y1="242.90" x2="237.20" y2="240.10" stroke="#231f20" stroke-width="0.85" />
<line x1="235.80" y1="240.10" x2="238.60" y2="240.10" stroke="#231f20" stroke-width="0.85" />
<rect x="259.70" y="239.10" width="30.00" height="40.20" fill="#08916a" stroke="#067a57" stroke-width="0.5"/>
<line x1="274.70" y1="239.10" x2="274.70" y2="235.70" stroke="#231f20" stroke-width="0.85" />
<line x1="273.30" y1="235.70" x2="276.10" y2="235.70" stroke="#231f20" stroke-width="0.85" />
<rect x="296.90" y="242.00" width="29.80" height="37.30" fill="#08916a" stroke="#067a57" stroke-width="0.5"/>
<line x1="311.80" y1="242.00" x2="311.80" y2="239.50" stroke="#231f20" stroke-width="0.85" />
<line x1="310.40" y1="239.50" x2="313.20" y2="239.50" stroke="#231f20" stroke-width="0.85" />
<line x1="218.80" y1="182.40" x2="218.80" y2="279.30" stroke="#5a5b5d" stroke-width="0.9" />
<line x1="218.80" y1="185.90" x2="221.10" y2="185.90" stroke="#5a5b5d" stroke-width="0.8" />
<line x1="218.80" y1="201.40" x2="221.10" y2="201.40" stroke="#5a5b5d" stroke-width="0.8" />
<line x1="218.80" y1="217.00" x2="221.10" y2="217.00" stroke="#5a5b5d" stroke-width="0.8" />
<line x1="218.80" y1="232.50" x2="221.10" y2="232.50" stroke="#5a5b5d" stroke-width="0.8" />
<line x1="218.80" y1="248.00" x2="221.10" y2="248.00" stroke="#5a5b5d" stroke-width="0.8" />
<line x1="218.80" y1="263.60" x2="221.10" y2="263.60" stroke="#5a5b5d" stroke-width="0.8" />
<line x1="218.80" y1="279.30" x2="330.00" y2="279.30" stroke="#5a5b5d" stroke-width="0.9" />
<circle cx="238.85" cy="212.96" r="1.85" fill="#c4c4c4" stroke="#6b6b6b" stroke-width="0.7" />
<circle cx="243.78" cy="228.33" r="1.85" fill="#c4c4c4" stroke="#6b6b6b" stroke-width="0.7" />
<circle cx="241.13" cy="232.51" r="1.85" fill="#c4c4c4" stroke="#6b6b6b" stroke-width="0.7" />
<circle cx="244.73" cy="235.35" r="1.85" fill="#c4c4c4" stroke="#6b6b6b" stroke-width="0.7" />
<circle cx="226.13" cy="234.78" r="1.85" fill="#c4c4c4" stroke="#6b6b6b" stroke-width="0.7" />
<circle cx="228.03" cy="236.11" r="1.85" fill="#c4c4c4" stroke="#6b6b6b" stroke-width="0.7" />
<circle cx="230.88" cy="237.63" r="1.85" fill="#c4c4c4" stroke="#6b6b6b" stroke-width="0.7" />
<circle cx="239.80" cy="238.96" r="1.85" fill="#c4c4c4" stroke="#6b6b6b" stroke-width="0.7" />
<circle cx="228.41" cy="242.75" r="1.85" fill="#c4c4c4" stroke="#6b6b6b" stroke-width="0.7" />
<circle cx="242.64" cy="243.70" r="1.85" fill="#c4c4c4" stroke="#6b6b6b" stroke-width="0.7" />
<circle cx="233.15" cy="253.19" r="1.85" fill="#c4c4c4" stroke="#6b6b6b" stroke-width="0.7" />
<circle cx="235.05" cy="253.76" r="1.85" fill="#c4c4c4" stroke="#6b6b6b" stroke-width="0.7" />
<circle cx="234.29" cy="256.99" r="1.85" fill="#c4c4c4" stroke="#6b6b6b" stroke-width="0.7" />
<circle cx="248.53" cy="254.14" r="1.85" fill="#c4c4c4" stroke="#6b6b6b" stroke-width="0.7" />
<circle cx="246.06" cy="259.08" r="1.85" fill="#c4c4c4" stroke="#6b6b6b" stroke-width="0.7" />
<circle cx="229.55" cy="266.67" r="1.85" fill="#c4c4c4" stroke="#6b6b6b" stroke-width="0.7" />
<circle cx="231.83" cy="267.05" r="1.85" fill="#c4c4c4" stroke="#6b6b6b" stroke-width="0.7" />
<circle cx="237.90" cy="267.62" r="1.85" fill="#c4c4c4" stroke="#6b6b6b" stroke-width="0.7" />
<circle cx="247.39" cy="273.50" r="1.85" fill="#c4c4c4" stroke="#6b6b6b" stroke-width="0.7" />
<circle cx="263.33" cy="226.81" r="1.85" fill="#c4c4c4" stroke="#6b6b6b" stroke-width="0.7" />
<circle cx="274.53" cy="233.83" r="1.85" fill="#c4c4c4" stroke="#6b6b6b" stroke-width="0.7" />
<circle cx="278.32" cy="233.83" r="1.85" fill="#c4c4c4" stroke="#6b6b6b" stroke-width="0.7" />
<circle cx="280.22" cy="235.35" r="1.85" fill="#c4c4c4" stroke="#6b6b6b" stroke-width="0.7" />
<circle cx="272.63" cy="235.73" r="1.85" fill="#c4c4c4" stroke="#6b6b6b" stroke-width="0.7" />
<circle cx="282.12" cy="239.53" r="1.85" fill="#c4c4c4" stroke="#6b6b6b" stroke-width="0.7" />
<circle cx="284.59" cy="238.96" r="1.85" fill="#c4c4c4" stroke="#6b6b6b" stroke-width="0.7" />
<circle cx="286.49" cy="238.58" r="1.85" fill="#c4c4c4" stroke="#6b6b6b" stroke-width="0.7" />
<circle cx="270.73" cy="243.32" r="1.85" fill="#c4c4c4" stroke="#6b6b6b" stroke-width="0.7" />
<circle cx="276.43" cy="244.84" r="1.85" fill="#c4c4c4" stroke="#6b6b6b" stroke-width="0.7" />
<circle cx="268.83" cy="252.24" r="1.85" fill="#c4c4c4" stroke="#6b6b6b" stroke-width="0.7" />
<circle cx="266.94" cy="263.63" r="1.85" fill="#c4c4c4" stroke="#6b6b6b" stroke-width="0.7" />
<circle cx="265.04" cy="273.50" r="1.85" fill="#c4c4c4" stroke="#6b6b6b" stroke-width="0.7" />
<circle cx="302.62" cy="205.94" r="1.85" fill="#c4c4c4" stroke="#6b6b6b" stroke-width="0.7" />
<circle cx="320.46" cy="227.57" r="1.85" fill="#c4c4c4" stroke="#6b6b6b" stroke-width="0.7" />
<circle cx="300.15" cy="231.37" r="1.85" fill="#c4c4c4" stroke="#6b6b6b" stroke-width="0.7" />
<circle cx="303.95" cy="230.99" r="1.85" fill="#c4c4c4" stroke="#6b6b6b" stroke-width="0.7" />
<circle cx="312.11" cy="234.21" r="1.85" fill="#c4c4c4" stroke="#6b6b6b" stroke-width="0.7" />
<circle cx="307.17" cy="235.73" r="1.85" fill="#c4c4c4" stroke="#6b6b6b" stroke-width="0.7" />
<circle cx="308.69" cy="235.73" r="1.85" fill="#c4c4c4" stroke="#6b6b6b" stroke-width="0.7" />
<circle cx="317.80" cy="237.63" r="1.85" fill="#c4c4c4" stroke="#6b6b6b" stroke-width="0.7" />
<circle cx="309.64" cy="241.05" r="1.85" fill="#c4c4c4" stroke="#6b6b6b" stroke-width="0.7" />
<circle cx="314.38" cy="241.81" r="1.85" fill="#c4c4c4" stroke="#6b6b6b" stroke-width="0.7" />
<circle cx="316.28" cy="242.38" r="1.85" fill="#c4c4c4" stroke="#6b6b6b" stroke-width="0.7" />
<circle cx="321.60" cy="242.38" r="1.85" fill="#c4c4c4" stroke="#6b6b6b" stroke-width="0.7" />
<circle cx="301.67" cy="245.22" r="1.85" fill="#c4c4c4" stroke="#6b6b6b" stroke-width="0.7" />
<circle cx="312.49" cy="247.12" r="1.85" fill="#c4c4c4" stroke="#6b6b6b" stroke-width="0.7" />
<circle cx="311.16" cy="247.12" r="1.85" fill="#c4c4c4" stroke="#6b6b6b" stroke-width="0.7" />
<circle cx="319.51" cy="247.69" r="1.85" fill="#c4c4c4" stroke="#6b6b6b" stroke-width="0.7" />
<circle cx="322.92" cy="247.12" r="1.85" fill="#c4c4c4" stroke="#6b6b6b" stroke-width="0.7" />
<circle cx="304.89" cy="249.40" r="1.85" fill="#c4c4c4" stroke="#6b6b6b" stroke-width="0.7" />
<circle cx="315.71" cy="254.14" r="1.85" fill="#c4c4c4" stroke="#6b6b6b" stroke-width="0.7" />
<circle cx="306.41" cy="265.53" r="1.85" fill="#c4c4c4" stroke="#6b6b6b" stroke-width="0.7" />
<text x="213.60" y="189.00" font-size="10.5" fill="#231f20" stroke="#231f20" stroke-width="0.22" text-anchor="end" textLength="18.1" lengthAdjust="spacingAndGlyphs">100</text>
<text x="213.60" y="236.10" font-size="10.5" fill="#231f20" stroke="#231f20" stroke-width="0.22" text-anchor="end" textLength="12.4" lengthAdjust="spacingAndGlyphs">50</text>
<text x="213.60" y="283.00" font-size="10.5" fill="#231f20" stroke="#231f20" stroke-width="0.22" text-anchor="end" textLength="6.2" lengthAdjust="spacingAndGlyphs">0</text>
<text x="237.20" y="293.90" font-size="10.5" fill="#231f20" stroke="#231f20" stroke-width="0.22" text-anchor="middle" textLength="18.1" lengthAdjust="spacingAndGlyphs">Ctrl</text>
<text x="274.70" y="293.90" font-size="10.5" fill="#231f20" stroke="#231f20" stroke-width="0.22" text-anchor="middle" textLength="16.1" lengthAdjust="spacingAndGlyphs">Act</text>
<text x="311.80" y="293.90" font-size="10.5" fill="#231f20" stroke="#231f20" stroke-width="0.22" text-anchor="middle" textLength="27.7" lengthAdjust="spacingAndGlyphs">Supp</text>
<text x="187.20" y="280.10" font-size="10.5" fill="#231f20" stroke="#231f20" stroke-width="0.22" textLength="99.2" lengthAdjust="spacingAndGlyphs" transform="rotate(-90 187.20 280.10)">Fraction of time (%)</text>
<rect x="381.50" y="170.70" width="120.00" height="5.80" fill="#d5602a" stroke="#a04a22" stroke-width="0.6"/>
<text x="397.50" y="166.00" font-size="10.7" fill="#231f20" stroke="#231f20" stroke-width="0.22" textLength="87.89999999999998" lengthAdjust="spacingAndGlyphs">Disengaged state</text>
<rect x="389.50" y="254.30" width="29.80" height="25.00" fill="#d5602a" stroke="#b04f20" stroke-width="0.5"/>
<line x1="404.40" y1="254.30" x2="404.40" y2="250.90" stroke="#231f20" stroke-width="0.85" />
<line x1="403.00" y1="250.90" x2="405.80" y2="250.90" stroke="#231f20" stroke-width="0.85" />
<rect x="426.50" y="254.10" width="29.80" height="25.20" fill="#d5602a" stroke="#b04f20" stroke-width="0.5"/>
<line x1="441.40" y1="254.10" x2="441.40" y2="249.60" stroke="#231f20" stroke-width="0.85" />
<line x1="440.00" y1="249.60" x2="442.80" y2="249.60" stroke="#231f20" stroke-width="0.85" />
<rect x="463.90" y="229.10" width="29.60" height="50.20" fill="#d5602a" stroke="#b04f20" stroke-width="0.5"/>
<line x1="478.70" y1="229.10" x2="478.70" y2="226.20" stroke="#231f20" stroke-width="0.85" />
<line x1="477.30" y1="226.20" x2="480.10" y2="226.20" stroke="#231f20" stroke-width="0.85" />
<line x1="385.70" y1="182.40" x2="385.70" y2="279.30" stroke="#5a5b5d" stroke-width="0.9" />
<line x1="385.70" y1="185.90" x2="388.00" y2="185.90" stroke="#5a5b5d" stroke-width="0.8" />
<line x1="385.70" y1="201.40" x2="388.00" y2="201.40" stroke="#5a5b5d" stroke-width="0.8" />
<line x1="385.70" y1="217.00" x2="388.00" y2="217.00" stroke="#5a5b5d" stroke-width="0.8" />
<line x1="385.70" y1="232.50" x2="388.00" y2="232.50" stroke="#5a5b5d" stroke-width="0.8" />
<line x1="385.70" y1="248.00" x2="388.00" y2="248.00" stroke="#5a5b5d" stroke-width="0.8" />
<line x1="385.70" y1="263.60" x2="388.00" y2="263.60" stroke="#5a5b5d" stroke-width="0.8" />
<line x1="385.70" y1="279.30" x2="496.70" y2="279.30" stroke="#5a5b5d" stroke-width="0.9" />
<circle cx="399.93" cy="215.24" r="1.85" fill="#c4c4c4" stroke="#6b6b6b" stroke-width="0.7" />
<circle cx="409.42" cy="220.93" r="1.85" fill="#c4c4c4" stroke="#6b6b6b" stroke-width="0.7" />
<circle cx="397.65" cy="234.78" r="1.85" fill="#c4c4c4" stroke="#6b6b6b" stroke-width="0.7" />
<circle cx="411.88" cy="246.74" r="1.85" fill="#c4c4c4" stroke="#6b6b6b" stroke-width="0.7" />
<circle cx="393.66" cy="249.02" r="1.85" fill="#c4c4c4" stroke="#6b6b6b" stroke-width="0.7" />
<circle cx="392.91" cy="250.92" r="1.85" fill="#c4c4c4" stroke="#6b6b6b" stroke-width="0.7" />
<circle cx="408.09" cy="250.35" r="1.85" fill="#c4c4c4" stroke="#6b6b6b" stroke-width="0.7" />
<circle cx="406.57" cy="251.86" r="1.85" fill="#c4c4c4" stroke="#6b6b6b" stroke-width="0.7" />
<circle cx="404.29" cy="252.81" r="1.85" fill="#c4c4c4" stroke="#6b6b6b" stroke-width="0.7" />
<circle cx="401.45" cy="254.33" r="1.85" fill="#c4c4c4" stroke="#6b6b6b" stroke-width="0.7" />
<circle cx="405.24" cy="253.76" r="1.85" fill="#c4c4c4" stroke="#6b6b6b" stroke-width="0.7" />
<circle cx="402.77" cy="255.66" r="1.85" fill="#c4c4c4" stroke="#6b6b6b" stroke-width="0.7" />
<circle cx="395.56" cy="256.61" r="1.85" fill="#c4c4c4" stroke="#6b6b6b" stroke-width="0.7" />
<circle cx="402.40" cy="259.84" r="1.85" fill="#c4c4c4" stroke="#6b6b6b" stroke-width="0.7" />
<circle cx="404.67" cy="259.84" r="1.85" fill="#c4c4c4" stroke="#6b6b6b" stroke-width="0.7" />
<circle cx="410.37" cy="263.63" r="1.85" fill="#c4c4c4" stroke="#6b6b6b" stroke-width="0.7" />
<circle cx="396.70" cy="266.48" r="1.85" fill="#c4c4c4" stroke="#6b6b6b" stroke-width="0.7" />
<circle cx="398.98" cy="271.03" r="1.85" fill="#c4c4c4" stroke="#6b6b6b" stroke-width="0.7" />
<circle cx="412.83" cy="269.33" r="1.85" fill="#c4c4c4" stroke="#6b6b6b" stroke-width="0.7" />
<circle cx="415.11" cy="268.95" r="1.85" fill="#c4c4c4" stroke="#6b6b6b" stroke-width="0.7" />
<circle cx="414.16" cy="274.26" r="1.85" fill="#c4c4c4" stroke="#6b6b6b" stroke-width="0.7" />
<circle cx="439.40" cy="236.11" r="1.85" fill="#c4c4c4" stroke="#6b6b6b" stroke-width="0.7" />
<circle cx="448.70" cy="235.16" r="1.85" fill="#c4c4c4" stroke="#6b6b6b" stroke-width="0.7" />
<circle cx="451.17" cy="237.63" r="1.85" fill="#c4c4c4" stroke="#6b6b6b" stroke-width="0.7" />
<circle cx="452.69" cy="236.68" r="1.85" fill="#c4c4c4" stroke="#6b6b6b" stroke-width="0.7" />
<circle cx="441.11" cy="249.59" r="1.85" fill="#c4c4c4" stroke="#6b6b6b" stroke-width="0.7" />
<circle cx="435.61" cy="253.76" r="1.85" fill="#c4c4c4" stroke="#6b6b6b" stroke-width="0.7" />
<circle cx="445.10" cy="253.76" r="1.85" fill="#c4c4c4" stroke="#6b6b6b" stroke-width="0.7" />
<circle cx="437.51" cy="257.18" r="1.85" fill="#c4c4c4" stroke="#6b6b6b" stroke-width="0.7" />
<circle cx="443.20" cy="257.18" r="1.85" fill="#c4c4c4" stroke="#6b6b6b" stroke-width="0.7" />
<circle cx="430.29" cy="262.68" r="1.85" fill="#c4c4c4" stroke="#6b6b6b" stroke-width="0.7" />
<circle cx="446.81" cy="267.43" r="1.85" fill="#c4c4c4" stroke="#6b6b6b" stroke-width="0.7" />
<circle cx="434.09" cy="274.64" r="1.85" fill="#c4c4c4" stroke="#6b6b6b" stroke-width="0.7" />
<circle cx="432.19" cy="276.92" r="1.85" fill="#c4c4c4" stroke="#6b6b6b" stroke-width="0.7" />
<circle cx="473.00" cy="212.01" r="1.85" fill="#c4c4c4" stroke="#6b6b6b" stroke-width="0.7" />
<circle cx="489.51" cy="219.98" r="1.85" fill="#c4c4c4" stroke="#6b6b6b" stroke-width="0.7" />
<circle cx="468.25" cy="225.29" r="1.85" fill="#c4c4c4" stroke="#6b6b6b" stroke-width="0.7" />
<circle cx="472.05" cy="222.83" r="1.85" fill="#c4c4c4" stroke="#6b6b6b" stroke-width="0.7" />
<circle cx="477.74" cy="222.83" r="1.85" fill="#c4c4c4" stroke="#6b6b6b" stroke-width="0.7" />
<circle cx="480.59" cy="226.62" r="1.85" fill="#c4c4c4" stroke="#6b6b6b" stroke-width="0.7" />
<circle cx="485.33" cy="227.19" r="1.85" fill="#c4c4c4" stroke="#6b6b6b" stroke-width="0.7" />
<circle cx="488.56" cy="226.62" r="1.85" fill="#c4c4c4" stroke="#6b6b6b" stroke-width="0.7" />
<circle cx="474.89" cy="229.09" r="1.85" fill="#c4c4c4" stroke="#6b6b6b" stroke-width="0.7" />
<circle cx="477.17" cy="228.71" r="1.85" fill="#c4c4c4" stroke="#6b6b6b" stroke-width="0.7" />
<circle cx="479.64" cy="231.94" r="1.85" fill="#c4c4c4" stroke="#6b6b6b" stroke-width="0.7" />
<circle cx="482.49" cy="234.78" r="1.85" fill="#c4c4c4" stroke="#6b6b6b" stroke-width="0.7" />
<circle cx="484.95" cy="231.37" r="1.85" fill="#c4c4c4" stroke="#6b6b6b" stroke-width="0.7" />
<circle cx="470.53" cy="239.91" r="1.85" fill="#c4c4c4" stroke="#6b6b6b" stroke-width="0.7" />
<circle cx="484.00" cy="238.96" r="1.85" fill="#c4c4c4" stroke="#6b6b6b" stroke-width="0.7" />
<circle cx="487.23" cy="241.43" r="1.85" fill="#c4c4c4" stroke="#6b6b6b" stroke-width="0.7" />
<circle cx="467.30" cy="253.19" r="1.85" fill="#c4c4c4" stroke="#6b6b6b" stroke-width="0.7" />
<circle cx="469.58" cy="261.35" r="1.85" fill="#c4c4c4" stroke="#6b6b6b" stroke-width="0.7" />
<text x="380.50" y="189.00" font-size="10.5" fill="#231f20" stroke="#231f20" stroke-width="0.22" text-anchor="end" textLength="18.1" lengthAdjust="spacingAndGlyphs">100</text>
<text x="380.50" y="236.10" font-size="10.5" fill="#231f20" stroke="#231f20" stroke-width="0.22" text-anchor="end" textLength="12.4" lengthAdjust="spacingAndGlyphs">50</text>
<text x="380.50" y="283.00" font-size="10.5" fill="#231f20" stroke="#231f20" stroke-width="0.22" text-anchor="end" textLength="6.2" lengthAdjust="spacingAndGlyphs">0</text>
<text x="404.40" y="293.90" font-size="10.5" fill="#231f20" stroke="#231f20" stroke-width="0.22" text-anchor="middle" textLength="18.1" lengthAdjust="spacingAndGlyphs">Ctrl</text>
<text x="441.40" y="293.90" font-size="10.5" fill="#231f20" stroke="#231f20" stroke-width="0.22" text-anchor="middle" textLength="16.1" lengthAdjust="spacingAndGlyphs">Act</text>
<text x="478.70" y="293.90" font-size="10.5" fill="#231f20" stroke="#231f20" stroke-width="0.22" text-anchor="middle" textLength="27.7" lengthAdjust="spacingAndGlyphs">Supp</text>
<text x="354.00" y="280.10" font-size="10.5" fill="#231f20" stroke="#231f20" stroke-width="0.22" textLength="99.2" lengthAdjust="spacingAndGlyphs" transform="rotate(-90 354.00 280.10)">Fraction of time (%)</text>
<path d="M403.70,207.00 L403.70,205.40 L478.30,205.40 L478.30,207.00" fill="none" stroke="#777" stroke-width="0.9" />
<polygon points="436.00,198.90 436.57,200.42 438.19,200.49 436.92,201.50 437.35,203.06 436.00,202.17 434.65,203.06 435.08,201.50 433.81,200.49 435.43,200.42" fill="#1a1a1a"/>
<polygon points="441.10,198.90 441.67,200.42 443.29,200.49 442.02,201.50 442.45,203.06 441.10,202.17 439.75,203.06 440.18,201.50 438.91,200.49 440.53,200.42" fill="#1a1a1a"/>
<polygon points="446.20,198.90 446.77,200.42 448.39,200.49 447.12,201.50 447.55,203.06 446.20,202.17 444.85,203.06 445.28,201.50 444.01,200.49 445.63,200.42" fill="#1a1a1a"/>
<text x="517.60" y="160.20" font-size="12.5" fill="#000" stroke="#000" stroke-width="0.22" font-weight="bold">e</text>
<line x1="570.70" y1="214.90" x2="685.00" y2="214.90" stroke="#dcdcdc" stroke-width="1.6" />
<rect x="574.20" y="208.20" width="30.60" height="6.70" fill="#4f5152" stroke="#353738" stroke-width="0.5"/>
<rect x="612.20" y="214.90" width="30.60" height="23.40" fill="#d5602a" stroke="#b04f20" stroke-width="0.5"/>
<rect x="650.00" y="209.10" width="30.90" height="5.80" fill="#e09a5e" stroke="#b8763f" stroke-width="0.5"/>
<line x1="589.50" y1="208.20" x2="589.50" y2="205.00" stroke="#231f20" stroke-width="0.85" />
<line x1="588.10" y1="205.00" x2="590.90" y2="205.00" stroke="#231f20" stroke-width="0.85" />
<line x1="627.50" y1="238.30" x2="627.50" y2="247.20" stroke="#231f20" stroke-width="0.85" />
<line x1="626.10" y1="247.20" x2="628.90" y2="247.20" stroke="#231f20" stroke-width="0.85" />
<line x1="665.40" y1="209.10" x2="665.40" y2="199.70" stroke="#231f20" stroke-width="0.85" />
<line x1="664.00" y1="199.70" x2="666.80" y2="199.70" stroke="#231f20" stroke-width="0.85" />
<line x1="570.70" y1="166.20" x2="570.70" y2="263.40" stroke="#5a5b5d" stroke-width="0.9" />
<line x1="570.70" y1="166.60" x2="573.00" y2="166.60" stroke="#5a5b5d" stroke-width="0.8" />
<line x1="570.70" y1="182.70" x2="573.00" y2="182.70" stroke="#5a5b5d" stroke-width="0.8" />
<line x1="570.70" y1="198.80" x2="573.00" y2="198.80" stroke="#5a5b5d" stroke-width="0.8" />
<line x1="570.70" y1="214.90" x2="573.00" y2="214.90" stroke="#5a5b5d" stroke-width="0.8" />
<line x1="570.70" y1="231.00" x2="573.00" y2="231.00" stroke="#5a5b5d" stroke-width="0.8" />
<line x1="570.70" y1="247.10" x2="573.00" y2="247.10" stroke="#5a5b5d" stroke-width="0.8" />
<line x1="570.70" y1="263.40" x2="685.00" y2="263.40" stroke="#5a5b5d" stroke-width="0.9" />
<circle cx="597.79" cy="193.95" r="1.85" fill="#c4c4c4" stroke="#6b6b6b" stroke-width="0.7" />
<circle cx="589.12" cy="200.21" r="1.85" fill="#c4c4c4" stroke="#6b6b6b" stroke-width="0.7" />
<circle cx="583.34" cy="203.58" r="1.85" fill="#c4c4c4" stroke="#6b6b6b" stroke-width="0.7" />
<circle cx="591.77" cy="203.58" r="1.85" fill="#c4c4c4" stroke="#6b6b6b" stroke-width="0.7" />
<circle cx="600.68" cy="208.16" r="1.85" fill="#c4c4c4" stroke="#6b6b6b" stroke-width="0.7" />
<circle cx="594.66" cy="210.57" r="1.85" fill="#c4c4c4" stroke="#6b6b6b" stroke-width="0.7" />
<circle cx="577.80" cy="213.46" r="1.85" fill="#c4c4c4" stroke="#6b6b6b" stroke-width="0.7" />
<circle cx="580.69" cy="213.46" r="1.85" fill="#c4c4c4" stroke="#6b6b6b" stroke-width="0.7" />
<circle cx="586.23" cy="223.33" r="1.85" fill="#c4c4c4" stroke="#6b6b6b" stroke-width="0.7" />
<circle cx="620.43" cy="195.88" r="1.85" fill="#c4c4c4" stroke="#6b6b6b" stroke-width="0.7" />
<circle cx="615.86" cy="220.20" r="1.85" fill="#c4c4c4" stroke="#6b6b6b" stroke-width="0.7" />
<circle cx="629.59" cy="237.54" r="1.85" fill="#c4c4c4" stroke="#6b6b6b" stroke-width="0.7" />
<circle cx="638.74" cy="239.23" r="1.85" fill="#c4c4c4" stroke="#6b6b6b" stroke-width="0.7" />
<circle cx="625.01" cy="250.79" r="1.85" fill="#c4c4c4" stroke="#6b6b6b" stroke-width="0.7" />
<circle cx="634.16" cy="254.88" r="1.85" fill="#c4c4c4" stroke="#6b6b6b" stroke-width="0.7" />
<circle cx="654.15" cy="198.04" r="1.85" fill="#c4c4c4" stroke="#6b6b6b" stroke-width="0.7" />
<circle cx="667.64" cy="193.47" r="1.85" fill="#c4c4c4" stroke="#6b6b6b" stroke-width="0.7" />
<circle cx="663.06" cy="205.27" r="1.85" fill="#c4c4c4" stroke="#6b6b6b" stroke-width="0.7" />
<circle cx="677.03" cy="212.25" r="1.85" fill="#c4c4c4" stroke="#6b6b6b" stroke-width="0.7" />
<circle cx="672.22" cy="215.14" r="1.85" fill="#c4c4c4" stroke="#6b6b6b" stroke-width="0.7" />
<circle cx="658.73" cy="254.88" r="1.85" fill="#c4c4c4" stroke="#6b6b6b" stroke-width="0.7" />
<path d="M593.20,172.60 L593.20,171.40 L623.60,171.40 L623.60,172.60" fill="none" stroke="#777" stroke-width="0.9" />
<polygon points="608.30,164.10 608.84,165.55 610.39,165.62 609.18,166.59 609.59,168.08 608.30,167.22 607.01,168.08 607.42,166.59 606.21,165.62 607.76,165.55" fill="#1a1a1a"/>
<text x="565.30" y="186.60" font-size="10.5" fill="#231f20" stroke="#231f20" stroke-width="0.22" text-anchor="end" textLength="12.4" lengthAdjust="spacingAndGlyphs">40</text>
<text x="565.30" y="218.20" font-size="10.5" fill="#231f20" stroke="#231f20" stroke-width="0.22" text-anchor="end" textLength="6.2" lengthAdjust="spacingAndGlyphs">0</text>
<text x="565.30" y="250.80" font-size="10.5" fill="#231f20" stroke="#231f20" stroke-width="0.22" text-anchor="end" textLength="18.0" lengthAdjust="spacingAndGlyphs">−40</text>
<text x="589.30" y="276.80" font-size="10.5" fill="#231f20" stroke="#231f20" stroke-width="0.22" text-anchor="middle" textLength="16.9" lengthAdjust="spacingAndGlyphs">Ctrl</text>
<text x="627.20" y="276.80" font-size="10.5" fill="#231f20" stroke="#231f20" stroke-width="0.22" text-anchor="middle" textLength="26.5" lengthAdjust="spacingAndGlyphs">Supp</text>
<text x="665.50" y="276.80" font-size="10.5" fill="#231f20" stroke="#231f20" stroke-width="0.22" text-anchor="middle" textLength="16.8" lengthAdjust="spacingAndGlyphs">Act</text>
<text x="526.00" y="239.30" font-size="10.5" fill="#231f20" stroke="#231f20" stroke-width="0.22" textLength="48.3" lengthAdjust="spacingAndGlyphs" transform="rotate(-90 526.00 239.30)">Opto port</text>
<text x="540.40" y="251.60" font-size="10.5" fill="#231f20" stroke="#231f20" stroke-width="0.22" textLength="74.7" lengthAdjust="spacingAndGlyphs" transform="rotate(-90 540.40 251.60)">preference (%)</text>
<text x="0.00" y="322.30" font-size="12.5" fill="#000" stroke="#000" stroke-width="0.22" font-weight="bold">f</text>
<text x="30.90" y="338.10" font-size="10.7" fill="#231f20" stroke="#231f20" stroke-width="0.22" textLength="94.4" lengthAdjust="spacingAndGlyphs">Nose poke–reward</text>
<text x="37.00" y="350.80" font-size="10.7" fill="#231f20" stroke="#231f20" stroke-width="0.22" textLength="81.6" lengthAdjust="spacingAndGlyphs">association task</text>
<text x="9.20" y="356.90" font-size="10.5" fill="#231f20" stroke="#231f20" stroke-width="0.22" textLength="26.5" lengthAdjust="spacingAndGlyphs" transform="rotate(-90 9.20 356.90)">Laser</text>
<rect x="35.80" y="365.30" width="84.40" height="74.40" fill="#d5d7d3" stroke="#5a86c0" stroke-width="0.9"/>
<rect x="33.10" y="388.60" width="2.90" height="25.60" fill="#231f20" />
<rect x="35.50" y="400.00" width="7.40" height="3.70" fill="#231f20" />
<rect x="115.30" y="388.60" width="4.60" height="25.20" fill="#231f20" />
<path d="M13.3,352.8 L21.6,352.8 L25.0,366.8 L9.4,366.8 Z" fill="#d5d7d3" stroke="#111" stroke-width="1.25" />
<rect x="15.30" y="359.10" width="3.50" height="7.80" fill="#111" />
<path d="M17.1,366.5 L17.1,421.3 L52.1,421.3" fill="none" stroke="#222" stroke-width="1.4" />
<path d="M15.1,351.1 L25.6,335.8" fill="none" stroke="#444" stroke-width="0.55" />
<path d="M21.9,337.0 L20.5,341.8 L22.0,341.2 L21.0,346.5" fill="none" stroke="#1e9ad6" stroke-width="1.2" stroke-linejoin="miter"/>
<g transform="translate(0 0)" fill="#0a0a0a"><circle cx="51.3" cy="419.2" r="2.5"/><circle cx="54.3" cy="419.4" r="2.6"/><circle cx="56.6" cy="422.2" r="2.2"/><ellipse cx="51.8" cy="424.3" rx="3.7" ry="4.1"/><circle cx="54.6" cy="423.5" r="2.4"/><path d="M49.3,427.6 C49.8,430 51,432 52.4,433.5" fill="none" stroke="#0a0a0a" stroke-width="0.8"/><path d="M51,416.6 C52,415 53.3,414.1 54.5,413.9 C55.2,414.8 55.7,415.8 55.9,417 M58.2,418.0 C59.8,418.4 61.2,419.3 62.2,420.5 M58.2,418.9 C59.5,419.5 60.6,420.3 61.4,421.3" fill="none" stroke="#444" stroke-width="0.4"/></g>
<text x="29.50" y="419.30" font-size="10.5" fill="#231f20" stroke="#231f20" stroke-width="0.22" textLength="43.0" lengthAdjust="spacingAndGlyphs" transform="rotate(-90 29.50 419.30)">Lick port</text>
<text x="131.60" y="441.30" font-size="10.5" fill="#231f20" stroke="#231f20" stroke-width="0.22" textLength="77.2" lengthAdjust="spacingAndGlyphs" transform="rotate(-90 131.60 441.30)">Nose poke port</text>
<text x="48.00" y="454.40" font-size="10.7" fill="#231f20" stroke="#231f20" stroke-width="0.22" textLength="59.3" lengthAdjust="spacingAndGlyphs">SERT: Supp</text>
<text x="511.40" y="322.40" font-size="12.5" fill="#000" stroke="#000" stroke-width="0.22" font-weight="bold">h</text>
<rect x="569.10" y="388.20" width="30.30" height="40.40" fill="#4f5152" stroke="#353738" stroke-width="0.5"/>
<rect x="606.30" y="400.10" width="30.30" height="28.50" fill="#d5602a" stroke="#b04f20" stroke-width="0.5"/>
<rect x="643.30" y="393.10" width="29.80" height="35.50" fill="#e09a5e" stroke="#b8763f" stroke-width="0.5"/>
<line x1="584.25" y1="388.20" x2="584.25" y2="381.50" stroke="#231f20" stroke-width="0.85" />
<line x1="582.85" y1="381.50" x2="585.65" y2="381.50" stroke="#231f20" stroke-width="0.85" />
<line x1="621.45" y1="400.10" x2="621.45" y2="395.60" stroke="#231f20" stroke-width="0.85" />
<line x1="620.05" y1="395.60" x2="622.85" y2="395.60" stroke="#231f20" stroke-width="0.85" />
<line x1="658.20" y1="393.10" x2="658.20" y2="387.40" stroke="#231f20" stroke-width="0.85" />
<line x1="656.80" y1="387.40" x2="659.60" y2="387.40" stroke="#231f20" stroke-width="0.85" />
<line x1="565.90" y1="331.10" x2="565.90" y2="428.60" stroke="#5a5b5d" stroke-width="0.9" />
<line x1="565.90" y1="331.10" x2="568.20" y2="331.10" stroke="#5a5b5d" stroke-width="0.8" />
<line x1="565.90" y1="350.60" x2="568.20" y2="350.60" stroke="#5a5b5d" stroke-width="0.8" />
<line x1="565.90" y1="370.10" x2="568.20" y2="370.10" stroke="#5a5b5d" stroke-width="0.8" />
<line x1="565.90" y1="389.60" x2="568.20" y2="389.60" stroke="#5a5b5d" stroke-width="0.8" />
<line x1="565.90" y1="409.10" x2="568.20" y2="409.10" stroke="#5a5b5d" stroke-width="0.8" />
<line x1="565.90" y1="428.60" x2="679.30" y2="428.60" stroke="#5a5b5d" stroke-width="0.9" />
<circle cx="588.72" cy="331.59" r="1.85" fill="#c4c4c4" stroke="#6b6b6b" stroke-width="0.7" />
<circle cx="580.03" cy="343.01" r="1.85" fill="#c4c4c4" stroke="#6b6b6b" stroke-width="0.7" />
<circle cx="585.24" cy="347.97" r="1.85" fill="#c4c4c4" stroke="#6b6b6b" stroke-width="0.7" />
<circle cx="583.26" cy="354.68" r="1.85" fill="#c4c4c4" stroke="#6b6b6b" stroke-width="0.7" />
<circle cx="590.20" cy="353.68" r="1.85" fill="#c4c4c4" stroke="#6b6b6b" stroke-width="0.7" />
<circle cx="573.08" cy="385.70" r="1.85" fill="#c4c4c4" stroke="#6b6b6b" stroke-width="0.7" />
<circle cx="595.17" cy="385.70" r="1.85" fill="#c4c4c4" stroke="#6b6b6b" stroke-width="0.7" />
<circle cx="575.31" cy="389.42" r="1.85" fill="#c4c4c4" stroke="#6b6b6b" stroke-width="0.7" />
<circle cx="578.29" cy="391.16" r="1.85" fill="#c4c4c4" stroke="#6b6b6b" stroke-width="0.7" />
<circle cx="582.01" cy="393.89" r="1.85" fill="#c4c4c4" stroke="#6b6b6b" stroke-width="0.7" />
<circle cx="586.73" cy="393.89" r="1.85" fill="#c4c4c4" stroke="#6b6b6b" stroke-width="0.7" />
<circle cx="592.19" cy="389.92" r="1.85" fill="#c4c4c4" stroke="#6b6b6b" stroke-width="0.7" />
<circle cx="574.57" cy="396.37" r="1.85" fill="#c4c4c4" stroke="#6b6b6b" stroke-width="0.7" />
<circle cx="593.43" cy="396.37" r="1.85" fill="#c4c4c4" stroke="#6b6b6b" stroke-width="0.7" />
<circle cx="617.51" cy="388.68" r="1.85" fill="#c4c4c4" stroke="#6b6b6b" stroke-width="0.7" />
<circle cx="621.23" cy="389.42" r="1.85" fill="#c4c4c4" stroke="#6b6b6b" stroke-width="0.7" />
<circle cx="632.40" cy="397.61" r="1.85" fill="#c4c4c4" stroke="#6b6b6b" stroke-width="0.7" />
<circle cx="624.95" cy="400.10" r="1.85" fill="#c4c4c4" stroke="#6b6b6b" stroke-width="0.7" />
<circle cx="628.68" cy="409.28" r="1.85" fill="#c4c4c4" stroke="#6b6b6b" stroke-width="0.7" />
<circle cx="610.06" cy="414.74" r="1.85" fill="#c4c4c4" stroke="#6b6b6b" stroke-width="0.7" />
<circle cx="613.78" cy="418.46" r="1.85" fill="#c4c4c4" stroke="#6b6b6b" stroke-width="0.7" />
<circle cx="647.04" cy="372.79" r="1.85" fill="#c4c4c4" stroke="#6b6b6b" stroke-width="0.7" />
<circle cx="669.38" cy="370.06" r="1.85" fill="#c4c4c4" stroke="#6b6b6b" stroke-width="0.7" />
<circle cx="653.00" cy="393.64" r="1.85" fill="#c4c4c4" stroke="#6b6b6b" stroke-width="0.7" />
<circle cx="657.96" cy="393.64" r="1.85" fill="#c4c4c4" stroke="#6b6b6b" stroke-width="0.7" />
<circle cx="663.42" cy="399.85" r="1.85" fill="#c4c4c4" stroke="#6b6b6b" stroke-width="0.7" />
<path d="M585.20,328.60 L585.20,327.40 L621.70,327.40 L621.70,328.60" fill="none" stroke="#777" stroke-width="0.9" />
<polygon points="603.10,320.40 603.64,321.85 605.19,321.92 603.98,322.89 604.39,324.38 603.10,323.52 601.81,324.38 602.22,322.89 601.01,321.92 602.56,321.85" fill="#1a1a1a"/>
<text x="560.90" y="354.70" font-size="10.5" fill="#231f20" stroke="#231f20" stroke-width="0.22" text-anchor="end" textLength="12.4" lengthAdjust="spacingAndGlyphs">20</text>
<text x="560.90" y="393.60" font-size="10.5" fill="#231f20" stroke="#231f20" stroke-width="0.22" text-anchor="end" textLength="12.4" lengthAdjust="spacingAndGlyphs">10</text>
<text x="560.90" y="432.10" font-size="10.5" fill="#231f20" stroke="#231f20" stroke-width="0.22" text-anchor="end" textLength="6.2" lengthAdjust="spacingAndGlyphs">0</text>
<text x="584.25" y="442.80" font-size="10.5" fill="#231f20" stroke="#231f20" stroke-width="0.22" text-anchor="middle" textLength="17.9" lengthAdjust="spacingAndGlyphs">Ctrl</text>
<text x="621.45" y="442.80" font-size="10.5" fill="#231f20" stroke="#231f20" stroke-width="0.22" text-anchor="middle" textLength="26.6" lengthAdjust="spacingAndGlyphs">Supp</text>
<text x="658.20" y="442.80" font-size="10.5" fill="#231f20" stroke="#231f20" stroke-width="0.22" text-anchor="middle" textLength="16.1" lengthAdjust="spacingAndGlyphs">Act</text>
<text x="526.30" y="408.00" font-size="10.5" fill="#231f20" stroke="#231f20" stroke-width="0.22" textLength="52.6" lengthAdjust="spacingAndGlyphs" transform="rotate(-90 526.30 408.00)">Number of</text>
<text x="539.30" y="420.20" font-size="10.5" fill="#231f20" stroke="#231f20" stroke-width="0.22" textLength="79.7" lengthAdjust="spacingAndGlyphs" transform="rotate(-90 539.30 420.20)">completed trials</text>
<text x="167.80" y="321.50" font-size="12.5" fill="#000" stroke="#000" stroke-width="0.22" font-weight="bold">g</text>
<rect x="232.50" y="387.80" width="33.00" height="15.90" fill="#2d55a9" opacity="0.36"/>
<rect x="236.74" y="387.80" width="1.14" height="15.90" fill="#2d55a9" opacity="0.40"/>
<rect x="248.98" y="387.80" width="1.39" height="15.90" fill="#2d55a9" opacity="0.41"/>
<rect x="252.35" y="387.80" width="0.44" height="15.90" fill="#2d55a9" opacity="0.40"/>
<rect x="233.45" y="387.80" width="0.78" height="15.90" fill="#2d55a9" opacity="0.53"/>
<rect x="237.38" y="387.80" width="1.40" height="15.90" fill="#2d55a9" opacity="0.65"/>
<rect x="263.13" y="387.80" width="0.77" height="15.90" fill="#2d55a9" opacity="0.31"/>
<rect x="234.82" y="387.80" width="0.58" height="15.90" fill="#2d55a9" opacity="0.80"/>
<rect x="236.78" y="387.80" width="0.91" height="15.90" fill="#2d55a9" opacity="0.65"/>
<rect x="263.79" y="387.80" width="0.46" height="15.90" fill="#2d55a9" opacity="0.32"/>
<rect x="253.02" y="387.80" width="1.33" height="15.90" fill="#2d55a9" opacity="0.59"/>
<rect x="244.68" y="387.80" width="0.74" height="15.90" fill="#2d55a9" opacity="0.46"/>
<rect x="249.38" y="387.80" width="0.50" height="15.90" fill="#2d55a9" opacity="0.39"/>
<rect x="254.37" y="387.80" width="0.43" height="15.90" fill="#2d55a9" opacity="0.72"/>
<rect x="241.59" y="387.80" width="0.91" height="15.90" fill="#2d55a9" opacity="0.36"/>
<rect x="237.05" y="387.80" width="1.21" height="15.90" fill="#2d55a9" opacity="0.40"/>
<rect x="258.51" y="387.80" width="0.47" height="15.90" fill="#2d55a9" opacity="0.60"/>
<rect x="254.62" y="387.80" width="1.39" height="15.90" fill="#2d55a9" opacity="0.31"/>
<rect x="249.41" y="387.80" width="1.29" height="15.90" fill="#2d55a9" opacity="0.40"/>
<rect x="259.45" y="387.80" width="0.50" height="15.90" fill="#2d55a9" opacity="0.31"/>
<rect x="250.62" y="387.80" width="0.72" height="15.90" fill="#2d55a9" opacity="0.66"/>
<rect x="264.87" y="387.80" width="0.94" height="15.90" fill="#2d55a9" opacity="0.73"/>
<rect x="239.25" y="387.80" width="0.64" height="15.90" fill="#2d55a9" opacity="0.46"/>
<rect x="250.77" y="387.80" width="0.68" height="15.90" fill="#2d55a9" opacity="0.79"/>
<rect x="248.46" y="387.80" width="1.44" height="15.90" fill="#2d55a9" opacity="0.47"/>
<rect x="244.16" y="387.80" width="0.88" height="15.90" fill="#2d55a9" opacity="0.46"/>
<rect x="252.02" y="387.80" width="1.22" height="15.90" fill="#2d55a9" opacity="0.32"/>
<rect x="240.26" y="387.80" width="0.47" height="15.90" fill="#2d55a9" opacity="0.50"/>
<rect x="258.97" y="387.80" width="0.67" height="15.90" fill="#2d55a9" opacity="0.72"/>
<rect x="261.12" y="387.80" width="1.22" height="15.90" fill="#2d55a9" opacity="0.57"/>
<rect x="236.75" y="387.80" width="1.13" height="15.90" fill="#2d55a9" opacity="0.65"/>
<rect x="247.91" y="387.80" width="1.26" height="15.90" fill="#2d55a9" opacity="0.76"/>
<rect x="241.65" y="387.80" width="0.56" height="15.90" fill="#2d55a9" opacity="0.61"/>
<rect x="235.24" y="387.80" width="0.56" height="15.90" fill="#2d55a9" opacity="0.52"/>
<rect x="262.07" y="387.80" width="1.26" height="15.90" fill="#2d55a9" opacity="0.75"/>
<rect x="246.69" y="387.80" width="1.24" height="15.90" fill="#2d55a9" opacity="0.32"/>
<rect x="237.37" y="387.80" width="0.80" height="15.90" fill="#2d55a9" opacity="0.38"/>
<rect x="265.46" y="387.80" width="0.34" height="15.90" fill="#fff" opacity="0.81"/>
<rect x="237.25" y="387.80" width="0.42" height="15.90" fill="#fff" opacity="0.52"/>
<rect x="240.56" y="387.80" width="0.36" height="15.90" fill="#fff" opacity="0.78"/>
<rect x="244.29" y="387.80" width="0.62" height="15.90" fill="#fff" opacity="0.66"/>
<rect x="234.51" y="387.80" width="0.62" height="15.90" fill="#fff" opacity="0.68"/>
<rect x="261.22" y="387.80" width="0.37" height="15.90" fill="#fff" opacity="0.66"/>
<rect x="253.50" y="387.80" width="0.50" height="15.90" fill="#fff" opacity="0.96"/>
<rect x="237.77" y="387.80" width="0.36" height="15.90" fill="#fff" opacity="0.54"/>
<rect x="248.94" y="387.80" width="0.58" height="15.90" fill="#fff" opacity="0.98"/>
<rect x="232.50" y="372.30" width="33.00" height="15.50" fill="#6cbf6c" opacity="0.07"/>
<rect x="262.44" y="372.30" width="1.68" height="15.50" fill="#6cbf6c" opacity="0.18"/>
<rect x="255.61" y="372.30" width="1.29" height="15.50" fill="#6cbf6c" opacity="0.23"/>
<rect x="234.70" y="372.30" width="1.23" height="15.50" fill="#6cbf6c" opacity="0.15"/>
<rect x="259.11" y="372.30" width="1.97" height="15.50" fill="#6cbf6c" opacity="0.12"/>
<rect x="255.05" y="372.30" width="0.92" height="15.50" fill="#6cbf6c" opacity="0.21"/>
<rect x="237.25" y="372.30" width="0.45" height="15.50" fill="#6cbf6c" opacity="0.13"/>
<rect x="247.84" y="372.30" width="1.68" height="15.50" fill="#6cbf6c" opacity="0.26"/>
<rect x="234.13" y="372.30" width="1.42" height="15.50" fill="#6cbf6c" opacity="0.28"/>
<rect x="258.96" y="372.30" width="1.61" height="15.50" fill="#6cbf6c" opacity="0.16"/>
<rect x="256.21" y="372.30" width="1.43" height="15.50" fill="#6cbf6c" opacity="0.17"/>
<rect x="259.05" y="372.30" width="1.60" height="15.50" fill="#6cbf6c" opacity="0.18"/>
<rect x="257.59" y="372.30" width="0.65" height="15.50" fill="#6cbf6c" opacity="0.28"/>
<rect x="241.32" y="372.30" width="1.50" height="15.50" fill="#6cbf6c" opacity="0.25"/>
<rect x="258.56" y="372.30" width="1.30" height="15.50" fill="#6cbf6c" opacity="0.26"/>
<rect x="240.72" y="372.30" width="1.12" height="15.50" fill="#6cbf6c" opacity="0.21"/>
<rect x="237.05" y="372.30" width="0.50" height="15.50" fill="#6cbf6c" opacity="0.21"/>
<rect x="245.38" y="372.30" width="1.70" height="15.50" fill="#6cbf6c" opacity="0.24"/>
<rect x="248.93" y="372.30" width="1.69" height="15.50" fill="#6cbf6c" opacity="0.20"/>
<rect x="241.93" y="372.30" width="1.81" height="15.50" fill="#6cbf6c" opacity="0.12"/>
<rect x="252.49" y="372.30" width="1.80" height="15.50" fill="#6cbf6c" opacity="0.17"/>
<rect x="252.38" y="372.30" width="0.55" height="15.50" fill="#6cbf6c" opacity="0.22"/>
<rect x="240.41" y="372.30" width="1.13" height="15.50" fill="#6cbf6c" opacity="0.19"/>
<rect x="253.04" y="372.30" width="1.76" height="15.50" fill="#6cbf6c" opacity="0.13"/>
<rect x="244.29" y="372.30" width="1.39" height="15.50" fill="#6cbf6c" opacity="0.18"/>
<rect x="256.74" y="372.30" width="1.25" height="15.50" fill="#6cbf6c" opacity="0.20"/>
<rect x="242.08" y="372.30" width="0.61" height="15.50" fill="#6cbf6c" opacity="0.20"/>
<rect x="260.95" y="372.30" width="1.00" height="15.50" fill="#fff" opacity="0.64"/>
<rect x="238.15" y="372.30" width="0.68" height="15.50" fill="#fff" opacity="0.93"/>
<rect x="232.88" y="372.30" width="1.24" height="15.50" fill="#fff" opacity="0.72"/>
<rect x="234.73" y="372.30" width="0.85" height="15.50" fill="#fff" opacity="0.87"/>
<rect x="247.67" y="372.30" width="1.47" height="15.50" fill="#fff" opacity="0.54"/>
<rect x="264.66" y="372.30" width="0.57" height="15.50" fill="#fff" opacity="0.68"/>
<rect x="233.96" y="372.30" width="0.96" height="15.50" fill="#fff" opacity="0.54"/>
<rect x="265.20" y="372.30" width="0.46" height="15.50" fill="#fff" opacity="0.61"/>
<rect x="250.19" y="372.30" width="0.82" height="15.50" fill="#fff" opacity="0.87"/>
<rect x="236.46" y="372.30" width="1.07" height="15.50" fill="#fff" opacity="0.51"/>
<rect x="246.31" y="372.30" width="0.45" height="15.50" fill="#fff" opacity="0.73"/>
<rect x="239.34" y="372.30" width="1.36" height="15.50" fill="#fff" opacity="0.96"/>
<rect x="256.07" y="372.30" width="0.80" height="15.50" fill="#fff" opacity="0.94"/>
<rect x="263.16" y="403.70" width="0.42" height="15.30" fill="#ea4d60" opacity="0.37"/>
<rect x="245.92" y="403.70" width="0.41" height="15.30" fill="#ea4d60" opacity="0.53"/>
<rect x="257.12" y="403.70" width="0.64" height="15.30" fill="#ea4d60" opacity="0.32"/>
<rect x="244.56" y="403.70" width="0.42" height="15.30" fill="#ea4d60" opacity="0.41"/>
<rect x="237.57" y="403.70" width="0.58" height="15.30" fill="#ea4d60" opacity="0.24"/>
<rect x="251.48" y="403.70" width="0.32" height="15.30" fill="#ea4d60" opacity="0.34"/>
<rect x="235.35" y="403.70" width="0.71" height="15.30" fill="#ea4d60" opacity="0.38"/>
<rect x="254.39" y="403.70" width="0.93" height="15.30" fill="#ea4d60" opacity="0.52"/>
<rect x="259.20" y="403.70" width="0.96" height="15.30" fill="#ea4d60" opacity="0.48"/>
<rect x="262.71" y="403.70" width="0.63" height="15.30" fill="#ea4d60" opacity="0.38"/>
<rect x="247.28" y="403.70" width="0.58" height="15.30" fill="#ea4d60" opacity="0.34"/>
<rect x="236.37" y="403.70" width="0.33" height="15.30" fill="#ea4d60" opacity="0.48"/>
<rect x="262.28" y="403.70" width="0.47" height="15.30" fill="#ea4d60" opacity="0.21"/>
<rect x="261.22" y="403.70" width="0.63" height="15.30" fill="#ea4d60" opacity="0.45"/>
<rect x="264.43" y="403.70" width="0.61" height="15.30" fill="#ea4d60" opacity="0.33"/>
<rect x="252.10" y="403.70" width="0.76" height="15.30" fill="#ea4d60" opacity="0.26"/>
<rect x="254.72" y="403.70" width="0.31" height="15.30" fill="#ea4d60" opacity="0.41"/>
<rect x="244.82" y="403.70" width="0.67" height="15.30" fill="#ea4d60" opacity="0.50"/>
<rect x="238.54" y="403.70" width="0.59" height="15.30" fill="#ea4d60" opacity="0.48"/>
<rect x="242.13" y="403.70" width="0.31" height="15.30" fill="#ea4d60" opacity="0.21"/>
<rect x="256.28" y="403.70" width="0.72" height="15.30" fill="#ea4d60" opacity="0.28"/>
<rect x="243.22" y="403.70" width="0.35" height="15.30" fill="#ea4d60" opacity="0.24"/>
<rect x="255.32" y="403.70" width="0.56" height="15.30" fill="#ea4d60" opacity="0.32"/>
<rect x="249.07" y="403.70" width="0.69" height="15.30" fill="#ea4d60" opacity="0.51"/>
<rect x="247.32" y="403.70" width="0.56" height="15.30" fill="#ea4d60" opacity="0.26"/>
<rect x="264.43" y="403.70" width="0.70" height="15.30" fill="#ea4d60" opacity="0.20"/>
<rect x="245.20" y="403.70" width="2.07" height="15.30" fill="#ea4d60" opacity="0.16"/>
<rect x="242.97" y="403.70" width="1.40" height="15.30" fill="#ea4d60" opacity="0.13"/>
<rect x="245.28" y="403.70" width="1.55" height="15.30" fill="#ea4d60" opacity="0.08"/>
<rect x="234.18" y="403.70" width="2.31" height="15.30" fill="#ea4d60" opacity="0.13"/>
<rect x="250.79" y="403.70" width="2.40" height="15.30" fill="#ea4d60" opacity="0.14"/>
<rect x="253.10" y="403.70" width="2.36" height="15.30" fill="#ea4d60" opacity="0.07"/>
<rect x="267.50" y="387.80" width="16.00" height="15.90" fill="#2d55a9" opacity="0.36"/>
<rect x="267.75" y="387.80" width="0.43" height="15.90" fill="#2d55a9" opacity="0.42"/>
<rect x="270.68" y="387.80" width="0.42" height="15.90" fill="#2d55a9" opacity="0.71"/>
<rect x="274.09" y="387.80" width="0.53" height="15.90" fill="#2d55a9" opacity="0.79"/>
<rect x="278.50" y="387.80" width="0.63" height="15.90" fill="#2d55a9" opacity="0.45"/>
<rect x="274.52" y="387.80" width="1.04" height="15.90" fill="#2d55a9" opacity="0.45"/>
<rect x="275.71" y="387.80" width="0.82" height="15.90" fill="#2d55a9" opacity="0.35"/>
<rect x="279.68" y="387.80" width="0.83" height="15.90" fill="#2d55a9" opacity="0.31"/>
<rect x="268.63" y="387.80" width="0.65" height="15.90" fill="#2d55a9" opacity="0.75"/>
<rect x="278.35" y="387.80" width="0.71" height="15.90" fill="#2d55a9" opacity="0.44"/>
<rect x="268.28" y="387.80" width="1.15" height="15.90" fill="#2d55a9" opacity="0.74"/>
<rect x="271.48" y="387.80" width="0.73" height="15.90" fill="#2d55a9" opacity="0.49"/>
<rect x="279.06" y="387.80" width="1.19" height="15.90" fill="#2d55a9" opacity="0.70"/>
<rect x="278.43" y="387.80" width="1.08" height="15.90" fill="#2d55a9" opacity="0.39"/>
<rect x="273.98" y="387.80" width="0.60" height="15.90" fill="#2d55a9" opacity="0.68"/>
<rect x="272.21" y="387.80" width="1.18" height="15.90" fill="#2d55a9" opacity="0.75"/>
<rect x="280.75" y="387.80" width="1.26" height="15.90" fill="#2d55a9" opacity="0.51"/>
<rect x="271.90" y="387.80" width="0.55" height="15.90" fill="#2d55a9" opacity="0.75"/>
<rect x="278.63" y="387.80" width="0.47" height="15.90" fill="#fff" opacity="0.79"/>
<rect x="276.72" y="387.80" width="0.54" height="15.90" fill="#fff" opacity="0.85"/>
<rect x="278.41" y="387.80" width="0.77" height="15.90" fill="#fff" opacity="0.92"/>
<rect x="273.66" y="387.80" width="0.49" height="15.90" fill="#fff" opacity="0.69"/>
<rect x="267.50" y="372.30" width="16.00" height="15.50" fill="#6cbf6c" opacity="0.07"/>
<rect x="282.33" y="372.30" width="1.73" height="15.50" fill="#6cbf6c" opacity="0.21"/>
<rect x="273.81" y="372.30" width="1.94" height="15.50" fill="#6cbf6c" opacity="0.14"/>
<rect x="280.30" y="372.30" width="1.24" height="15.50" fill="#6cbf6c" opacity="0.16"/>
<rect x="268.98" y="372.30" width="1.43" height="15.50" fill="#6cbf6c" opacity="0.22"/>
<rect x="274.72" y="372.30" width="1.22" height="15.50" fill="#6cbf6c" opacity="0.16"/>
<rect x="275.76" y="372.30" width="1.21" height="15.50" fill="#6cbf6c" opacity="0.17"/>
<rect x="280.44" y="372.30" width="1.83" height="15.50" fill="#6cbf6c" opacity="0.19"/>
<rect x="281.54" y="372.30" width="1.16" height="15.50" fill="#6cbf6c" opacity="0.15"/>
<rect x="269.94" y="372.30" width="0.81" height="15.50" fill="#6cbf6c" opacity="0.29"/>
<rect x="277.37" y="372.30" width="0.90" height="15.50" fill="#6cbf6c" opacity="0.27"/>
<rect x="277.57" y="372.30" width="1.35" height="15.50" fill="#6cbf6c" opacity="0.30"/>
<rect x="269.92" y="372.30" width="0.66" height="15.50" fill="#6cbf6c" opacity="0.29"/>
<rect x="279.86" y="372.30" width="0.65" height="15.50" fill="#fff" opacity="0.51"/>
<rect x="276.59" y="372.30" width="1.14" height="15.50" fill="#fff" opacity="0.74"/>
<rect x="278.84" y="372.30" width="1.40" height="15.50" fill="#fff" opacity="0.63"/>
<rect x="279.06" y="372.30" width="1.30" height="15.50" fill="#fff" opacity="0.99"/>
<rect x="274.67" y="372.30" width="1.39" height="15.50" fill="#fff" opacity="0.98"/>
<rect x="277.65" y="372.30" width="0.57" height="15.50" fill="#fff" opacity="0.58"/>
<rect x="271.15" y="403.70" width="0.67" height="15.30" fill="#ea4d60" opacity="0.23"/>
<rect x="273.28" y="403.70" width="0.50" height="15.30" fill="#ea4d60" opacity="0.28"/>
<rect x="269.35" y="403.70" width="0.52" height="15.30" fill="#ea4d60" opacity="0.31"/>
<rect x="269.91" y="403.70" width="0.70" height="15.30" fill="#ea4d60" opacity="0.32"/>
<rect x="267.80" y="403.70" width="0.53" height="15.30" fill="#ea4d60" opacity="0.49"/>
<rect x="282.43" y="403.70" width="0.31" height="15.30" fill="#ea4d60" opacity="0.20"/>
<rect x="273.28" y="403.70" width="0.34" height="15.30" fill="#ea4d60" opacity="0.50"/>
<rect x="277.52" y="403.70" width="0.74" height="15.30" fill="#ea4d60" opacity="0.45"/>
<rect x="274.77" y="403.70" width="0.97" height="15.30" fill="#ea4d60" opacity="0.28"/>
<rect x="279.39" y="403.70" width="0.94" height="15.30" fill="#ea4d60" opacity="0.28"/>
<rect x="280.40" y="403.70" width="0.66" height="15.30" fill="#ea4d60" opacity="0.44"/>
<rect x="273.63" y="403.70" width="0.86" height="15.30" fill="#ea4d60" opacity="0.29"/>
<rect x="275.13" y="403.70" width="2.47" height="15.30" fill="#ea4d60" opacity="0.15"/>
<rect x="268.23" y="403.70" width="1.79" height="15.30" fill="#ea4d60" opacity="0.14"/>
<rect x="272.11" y="403.70" width="2.33" height="15.30" fill="#ea4d60" opacity="0.09"/>
<rect x="284.50" y="387.80" width="15.00" height="15.90" fill="#2d55a9" opacity="0.36"/>
<rect x="299.21" y="387.80" width="0.88" height="15.90" fill="#2d55a9" opacity="0.74"/>
<rect x="291.23" y="387.80" width="0.75" height="15.90" fill="#2d55a9" opacity="0.61"/>
<rect x="286.88" y="387.80" width="1.33" height="15.90" fill="#2d55a9" opacity="0.66"/>
<rect x="292.45" y="387.80" width="1.08" height="15.90" fill="#2d55a9" opacity="0.79"/>
<rect x="293.40" y="387.80" width="0.50" height="15.90" fill="#2d55a9" opacity="0.35"/>
<rect x="294.89" y="387.80" width="1.01" height="15.90" fill="#2d55a9" opacity="0.78"/>
<rect x="294.56" y="387.80" width="1.16" height="15.90" fill="#2d55a9" opacity="0.45"/>
<rect x="285.12" y="387.80" width="0.52" height="15.90" fill="#2d55a9" opacity="0.52"/>
<rect x="294.09" y="387.80" width="0.93" height="15.90" fill="#2d55a9" opacity="0.53"/>
<rect x="298.32" y="387.80" width="1.08" height="15.90" fill="#2d55a9" opacity="0.44"/>
<rect x="294.55" y="387.80" width="1.37" height="15.90" fill="#2d55a9" opacity="0.44"/>
<rect x="299.13" y="387.80" width="0.52" height="15.90" fill="#2d55a9" opacity="0.47"/>
<rect x="292.17" y="387.80" width="1.43" height="15.90" fill="#2d55a9" opacity="0.38"/>
<rect x="296.65" y="387.80" width="0.71" height="15.90" fill="#2d55a9" opacity="0.76"/>
<rect x="286.60" y="387.80" width="0.78" height="15.90" fill="#2d55a9" opacity="0.72"/>
<rect x="297.93" y="387.80" width="0.45" height="15.90" fill="#2d55a9" opacity="0.74"/>
<rect x="288.06" y="387.80" width="0.78" height="15.90" fill="#fff" opacity="0.88"/>
<rect x="287.21" y="387.80" width="0.76" height="15.90" fill="#fff" opacity="0.99"/>
<rect x="295.63" y="387.80" width="0.58" height="15.90" fill="#fff" opacity="0.57"/>
<rect x="299.34" y="387.80" width="0.72" height="15.90" fill="#fff" opacity="0.70"/>
<rect x="284.50" y="372.30" width="15.00" height="15.50" fill="#6cbf6c" opacity="0.07"/>
<rect x="289.19" y="372.30" width="1.34" height="15.50" fill="#6cbf6c" opacity="0.12"/>
<rect x="292.01" y="372.30" width="0.50" height="15.50" fill="#6cbf6c" opacity="0.25"/>
<rect x="285.02" y="372.30" width="0.72" height="15.50" fill="#6cbf6c" opacity="0.26"/>
<rect x="284.78" y="372.30" width="1.14" height="15.50" fill="#6cbf6c" opacity="0.10"/>
<rect x="288.46" y="372.30" width="1.30" height="15.50" fill="#6cbf6c" opacity="0.19"/>
<rect x="293.44" y="372.30" width="0.52" height="15.50" fill="#6cbf6c" opacity="0.15"/>
<rect x="295.74" y="372.30" width="0.89" height="15.50" fill="#6cbf6c" opacity="0.17"/>
<rect x="298.86" y="372.30" width="1.53" height="15.50" fill="#6cbf6c" opacity="0.13"/>
<rect x="296.77" y="372.30" width="1.11" height="15.50" fill="#6cbf6c" opacity="0.22"/>
<rect x="298.62" y="372.30" width="1.91" height="15.50" fill="#6cbf6c" opacity="0.12"/>
<rect x="294.05" y="372.30" width="0.53" height="15.50" fill="#6cbf6c" opacity="0.14"/>
<rect x="295.51" y="372.30" width="0.75" height="15.50" fill="#6cbf6c" opacity="0.13"/>
<rect x="285.64" y="372.30" width="0.58" height="15.50" fill="#fff" opacity="0.55"/>
<rect x="287.64" y="372.30" width="0.69" height="15.50" fill="#fff" opacity="0.59"/>
<rect x="287.85" y="372.30" width="0.93" height="15.50" fill="#fff" opacity="0.94"/>
<rect x="291.69" y="372.30" width="1.19" height="15.50" fill="#fff" opacity="0.60"/>
<rect x="294.22" y="372.30" width="0.44" height="15.50" fill="#fff" opacity="0.53"/>
<rect x="289.96" y="372.30" width="0.88" height="15.50" fill="#fff" opacity="0.68"/>
<rect x="294.74" y="403.70" width="0.98" height="15.30" fill="#ea4d60" opacity="0.41"/>
<rect x="285.76" y="403.70" width="0.83" height="15.30" fill="#ea4d60" opacity="0.44"/>
<rect x="288.32" y="403.70" width="0.39" height="15.30" fill="#ea4d60" opacity="0.41"/>
<rect x="294.79" y="403.70" width="0.51" height="15.30" fill="#ea4d60" opacity="0.33"/>
<rect x="293.02" y="403.70" width="0.41" height="15.30" fill="#ea4d60" opacity="0.20"/>
<rect x="292.25" y="403.70" width="0.90" height="15.30" fill="#ea4d60" opacity="0.45"/>
<rect x="298.02" y="403.70" width="0.83" height="15.30" fill="#ea4d60" opacity="0.30"/>
<rect x="286.20" y="403.70" width="0.59" height="15.30" fill="#ea4d60" opacity="0.26"/>
<rect x="287.43" y="403.70" width="0.72" height="15.30" fill="#ea4d60" opacity="0.49"/>
<rect x="292.98" y="403.70" width="0.85" height="15.30" fill="#ea4d60" opacity="0.53"/>
<rect x="292.98" y="403.70" width="0.48" height="15.30" fill="#ea4d60" opacity="0.45"/>
<rect x="299.20" y="403.70" width="0.39" height="15.30" fill="#ea4d60" opacity="0.39"/>
<rect x="286.15" y="403.70" width="1.39" height="15.30" fill="#ea4d60" opacity="0.09"/>
<rect x="292.61" y="403.70" width="2.01" height="15.30" fill="#ea4d60" opacity="0.11"/>
<rect x="292.63" y="403.70" width="1.49" height="15.30" fill="#ea4d60" opacity="0.07"/>
<rect x="301.00" y="387.80" width="21.50" height="15.90" fill="#2d55a9" opacity="0.36"/>
<rect x="307.07" y="387.80" width="0.69" height="15.90" fill="#2d55a9" opacity="0.72"/>
<rect x="319.21" y="387.80" width="0.44" height="15.90" fill="#2d55a9" opacity="0.43"/>
<rect x="321.90" y="387.80" width="0.58" height="15.90" fill="#2d55a9" opacity="0.52"/>
<rect x="309.02" y="387.80" width="0.79" height="15.90" fill="#2d55a9" opacity="0.50"/>
<rect x="319.72" y="387.80" width="1.34" height="15.90" fill="#2d55a9" opacity="0.59"/>
<rect x="319.78" y="387.80" width="1.07" height="15.90" fill="#2d55a9" opacity="0.50"/>
<rect x="305.69" y="387.80" width="1.29" height="15.90" fill="#2d55a9" opacity="0.55"/>
<rect x="306.89" y="387.80" width="1.22" height="15.90" fill="#2d55a9" opacity="0.76"/>
<rect x="315.96" y="387.80" width="1.07" height="15.90" fill="#2d55a9" opacity="0.52"/>
<rect x="307.58" y="387.80" width="0.69" height="15.90" fill="#2d55a9" opacity="0.76"/>
<rect x="321.54" y="387.80" width="1.24" height="15.90" fill="#2d55a9" opacity="0.70"/>
<rect x="308.85" y="387.80" width="0.64" height="15.90" fill="#2d55a9" opacity="0.52"/>
<rect x="316.70" y="387.80" width="1.37" height="15.90" fill="#2d55a9" opacity="0.42"/>
<rect x="316.21" y="387.80" width="1.30" height="15.90" fill="#2d55a9" opacity="0.57"/>
<rect x="305.59" y="387.80" width="0.64" height="15.90" fill="#2d55a9" opacity="0.49"/>
<rect x="319.62" y="387.80" width="0.48" height="15.90" fill="#2d55a9" opacity="0.64"/>
<rect x="308.07" y="387.80" width="1.20" height="15.90" fill="#2d55a9" opacity="0.31"/>
<rect x="303.37" y="387.80" width="0.73" height="15.90" fill="#2d55a9" opacity="0.68"/>
<rect x="302.08" y="387.80" width="0.62" height="15.90" fill="#2d55a9" opacity="0.57"/>
<rect x="310.71" y="387.80" width="1.29" height="15.90" fill="#2d55a9" opacity="0.58"/>
<rect x="314.61" y="387.80" width="0.53" height="15.90" fill="#2d55a9" opacity="0.75"/>
<rect x="306.83" y="387.80" width="1.22" height="15.90" fill="#2d55a9" opacity="0.58"/>
<rect x="319.10" y="387.80" width="0.77" height="15.90" fill="#2d55a9" opacity="0.59"/>
<rect x="309.42" y="387.80" width="0.62" height="15.90" fill="#fff" opacity="0.79"/>
<rect x="303.55" y="387.80" width="0.60" height="15.90" fill="#fff" opacity="0.91"/>
<rect x="303.63" y="387.80" width="0.35" height="15.90" fill="#fff" opacity="0.69"/>
<rect x="301.97" y="387.80" width="0.34" height="15.90" fill="#fff" opacity="0.71"/>
<rect x="304.66" y="387.80" width="0.34" height="15.90" fill="#fff" opacity="0.53"/>
<rect x="306.28" y="387.80" width="0.35" height="15.90" fill="#fff" opacity="0.69"/>
<rect x="301.00" y="372.30" width="21.50" height="15.50" fill="#6cbf6c" opacity="0.07"/>
<rect x="317.41" y="372.30" width="1.27" height="15.50" fill="#6cbf6c" opacity="0.21"/>
<rect x="307.06" y="372.30" width="1.86" height="15.50" fill="#6cbf6c" opacity="0.22"/>
<rect x="316.95" y="372.30" width="1.99" height="15.50" fill="#6cbf6c" opacity="0.15"/>
<rect x="306.02" y="372.30" width="1.46" height="15.50" fill="#6cbf6c" opacity="0.22"/>
<rect x="307.18" y="372.30" width="1.22" height="15.50" fill="#6cbf6c" opacity="0.23"/>
<rect x="311.14" y="372.30" width="1.28" height="15.50" fill="#6cbf6c" opacity="0.17"/>
<rect x="302.61" y="372.30" width="1.43" height="15.50" fill="#6cbf6c" opacity="0.12"/>
<rect x="310.65" y="372.30" width="1.17" height="15.50" fill="#6cbf6c" opacity="0.19"/>
<rect x="313.55" y="372.30" width="0.74" height="15.50" fill="#6cbf6c" opacity="0.21"/>
<rect x="318.73" y="372.30" width="1.47" height="15.50" fill="#6cbf6c" opacity="0.13"/>
<rect x="302.21" y="372.30" width="0.88" height="15.50" fill="#6cbf6c" opacity="0.11"/>
<rect x="318.20" y="372.30" width="1.36" height="15.50" fill="#6cbf6c" opacity="0.12"/>
<rect x="313.25" y="372.30" width="0.77" height="15.50" fill="#6cbf6c" opacity="0.19"/>
<rect x="313.43" y="372.30" width="1.12" height="15.50" fill="#6cbf6c" opacity="0.11"/>
<rect x="302.10" y="372.30" width="1.92" height="15.50" fill="#6cbf6c" opacity="0.15"/>
<rect x="319.92" y="372.30" width="1.38" height="15.50" fill="#6cbf6c" opacity="0.14"/>
<rect x="306.96" y="372.30" width="1.35" height="15.50" fill="#6cbf6c" opacity="0.17"/>
<rect x="307.85" y="372.30" width="0.76" height="15.50" fill="#fff" opacity="0.80"/>
<rect x="311.20" y="372.30" width="0.86" height="15.50" fill="#fff" opacity="0.66"/>
<rect x="313.61" y="372.30" width="0.51" height="15.50" fill="#fff" opacity="0.80"/>
<rect x="313.86" y="372.30" width="0.52" height="15.50" fill="#fff" opacity="0.76"/>
<rect x="315.80" y="372.30" width="1.16" height="15.50" fill="#fff" opacity="0.81"/>
<rect x="306.77" y="372.30" width="0.58" height="15.50" fill="#fff" opacity="0.68"/>
<rect x="302.97" y="372.30" width="1.44" height="15.50" fill="#fff" opacity="0.55"/>
<rect x="306.45" y="372.30" width="1.15" height="15.50" fill="#fff" opacity="0.72"/>
<rect x="314.19" y="403.70" width="0.31" height="15.30" fill="#ea4d60" opacity="0.43"/>
<rect x="309.46" y="403.70" width="0.58" height="15.30" fill="#ea4d60" opacity="0.24"/>
<rect x="303.66" y="403.70" width="0.74" height="15.30" fill="#ea4d60" opacity="0.36"/>
<rect x="313.09" y="403.70" width="0.51" height="15.30" fill="#ea4d60" opacity="0.29"/>
<rect x="301.13" y="403.70" width="0.66" height="15.30" fill="#ea4d60" opacity="0.29"/>
<rect x="319.58" y="403.70" width="0.58" height="15.30" fill="#ea4d60" opacity="0.53"/>
<rect x="318.17" y="403.70" width="0.63" height="15.30" fill="#ea4d60" opacity="0.29"/>
<rect x="309.04" y="403.70" width="0.66" height="15.30" fill="#ea4d60" opacity="0.52"/>
<rect x="312.55" y="403.70" width="0.91" height="15.30" fill="#ea4d60" opacity="0.44"/>
<rect x="312.34" y="403.70" width="0.93" height="15.30" fill="#ea4d60" opacity="0.46"/>
<rect x="322.06" y="403.70" width="0.78" height="15.30" fill="#ea4d60" opacity="0.35"/>
<rect x="301.94" y="403.70" width="0.40" height="15.30" fill="#ea4d60" opacity="0.46"/>
<rect x="307.40" y="403.70" width="0.74" height="15.30" fill="#ea4d60" opacity="0.54"/>
<rect x="309.75" y="403.70" width="0.52" height="15.30" fill="#ea4d60" opacity="0.51"/>
<rect x="317.93" y="403.70" width="0.45" height="15.30" fill="#ea4d60" opacity="0.53"/>
<rect x="316.70" y="403.70" width="1.00" height="15.30" fill="#ea4d60" opacity="0.22"/>
<rect x="310.10" y="403.70" width="0.53" height="15.30" fill="#ea4d60" opacity="0.55"/>
<rect x="321.82" y="403.70" width="1.22" height="15.30" fill="#ea4d60" opacity="0.15"/>
<rect x="315.42" y="403.70" width="2.17" height="15.30" fill="#ea4d60" opacity="0.10"/>
<rect x="303.89" y="403.70" width="2.09" height="15.30" fill="#ea4d60" opacity="0.15"/>
<rect x="301.14" y="403.70" width="1.31" height="15.30" fill="#ea4d60" opacity="0.15"/>
<rect x="324.00" y="387.80" width="16.00" height="15.90" fill="#2d55a9" opacity="0.36"/>
<rect x="328.31" y="387.80" width="1.00" height="15.90" fill="#2d55a9" opacity="0.47"/>
<rect x="329.26" y="387.80" width="0.60" height="15.90" fill="#2d55a9" opacity="0.73"/>
<rect x="324.72" y="387.80" width="0.85" height="15.90" fill="#2d55a9" opacity="0.63"/>
<rect x="326.56" y="387.80" width="0.48" height="15.90" fill="#2d55a9" opacity="0.48"/>
<rect x="332.81" y="387.80" width="0.51" height="15.90" fill="#2d55a9" opacity="0.48"/>
<rect x="324.38" y="387.80" width="1.21" height="15.90" fill="#2d55a9" opacity="0.47"/>
<rect x="332.73" y="387.80" width="1.15" height="15.90" fill="#2d55a9" opacity="0.36"/>
<rect x="326.72" y="387.80" width="0.82" height="15.90" fill="#2d55a9" opacity="0.51"/>
<rect x="335.98" y="387.80" width="0.96" height="15.90" fill="#2d55a9" opacity="0.41"/>
<rect x="326.05" y="387.80" width="1.17" height="15.90" fill="#2d55a9" opacity="0.74"/>
<rect x="327.31" y="387.80" width="1.29" height="15.90" fill="#2d55a9" opacity="0.32"/>
<rect x="328.30" y="387.80" width="0.94" height="15.90" fill="#2d55a9" opacity="0.47"/>
<rect x="333.32" y="387.80" width="1.03" height="15.90" fill="#2d55a9" opacity="0.34"/>
<rect x="336.94" y="387.80" width="1.20" height="15.90" fill="#2d55a9" opacity="0.51"/>
<rect x="336.05" y="387.80" width="1.44" height="15.90" fill="#2d55a9" opacity="0.31"/>
<rect x="335.86" y="387.80" width="0.86" height="15.90" fill="#2d55a9" opacity="0.54"/>
<rect x="334.91" y="387.80" width="1.31" height="15.90" fill="#2d55a9" opacity="0.68"/>
<rect x="326.91" y="387.80" width="0.43" height="15.90" fill="#fff" opacity="0.97"/>
<rect x="328.92" y="387.80" width="0.72" height="15.90" fill="#fff" opacity="0.68"/>
<rect x="335.77" y="387.80" width="0.57" height="15.90" fill="#fff" opacity="0.96"/>
<rect x="330.72" y="387.80" width="0.41" height="15.90" fill="#fff" opacity="0.95"/>
<rect x="324.00" y="372.30" width="16.00" height="15.50" fill="#6cbf6c" opacity="0.07"/>
<rect x="338.15" y="372.30" width="1.69" height="15.50" fill="#6cbf6c" opacity="0.24"/>
<rect x="335.62" y="372.30" width="0.54" height="15.50" fill="#6cbf6c" opacity="0.25"/>
<rect x="334.98" y="372.30" width="0.86" height="15.50" fill="#6cbf6c" opacity="0.12"/>
<rect x="334.96" y="372.30" width="0.59" height="15.50" fill="#6cbf6c" opacity="0.16"/>
<rect x="332.71" y="372.30" width="1.24" height="15.50" fill="#6cbf6c" opacity="0.17"/>
<rect x="333.32" y="372.30" width="0.73" height="15.50" fill="#6cbf6c" opacity="0.25"/>
<rect x="327.16" y="372.30" width="1.00" height="15.50" fill="#6cbf6c" opacity="0.27"/>
<rect x="333.00" y="372.30" width="0.79" height="15.50" fill="#6cbf6c" opacity="0.24"/>
<rect x="334.77" y="372.30" width="0.97" height="15.50" fill="#6cbf6c" opacity="0.27"/>
<rect x="331.77" y="372.30" width="1.43" height="15.50" fill="#6cbf6c" opacity="0.24"/>
<rect x="334.87" y="372.30" width="0.55" height="15.50" fill="#6cbf6c" opacity="0.25"/>
<rect x="331.33" y="372.30" width="0.97" height="15.50" fill="#6cbf6c" opacity="0.25"/>
<rect x="337.52" y="372.30" width="0.88" height="15.50" fill="#fff" opacity="0.92"/>
<rect x="325.96" y="372.30" width="0.43" height="15.50" fill="#fff" opacity="0.53"/>
<rect x="324.25" y="372.30" width="1.04" height="15.50" fill="#fff" opacity="0.76"/>
<rect x="336.13" y="372.30" width="1.31" height="15.50" fill="#fff" opacity="0.62"/>
<rect x="339.50" y="372.30" width="0.91" height="15.50" fill="#fff" opacity="0.99"/>
<rect x="338.41" y="372.30" width="0.73" height="15.50" fill="#fff" opacity="0.70"/>
<rect x="333.72" y="403.70" width="0.90" height="15.30" fill="#ea4d60" opacity="0.40"/>
<rect x="339.92" y="403.70" width="0.57" height="15.30" fill="#ea4d60" opacity="0.54"/>
<rect x="326.92" y="403.70" width="0.42" height="15.30" fill="#ea4d60" opacity="0.22"/>
<rect x="335.06" y="403.70" width="0.94" height="15.30" fill="#ea4d60" opacity="0.29"/>
<rect x="330.63" y="403.70" width="0.41" height="15.30" fill="#ea4d60" opacity="0.33"/>
<rect x="330.41" y="403.70" width="0.54" height="15.30" fill="#ea4d60" opacity="0.32"/>
<rect x="328.11" y="403.70" width="0.90" height="15.30" fill="#ea4d60" opacity="0.30"/>
<rect x="331.45" y="403.70" width="0.39" height="15.30" fill="#ea4d60" opacity="0.28"/>
<rect x="333.20" y="403.70" width="0.96" height="15.30" fill="#ea4d60" opacity="0.35"/>
<rect x="330.28" y="403.70" width="0.55" height="15.30" fill="#ea4d60" opacity="0.47"/>
<rect x="332.09" y="403.70" width="0.95" height="15.30" fill="#ea4d60" opacity="0.38"/>
<rect x="334.18" y="403.70" width="0.87" height="15.30" fill="#ea4d60" opacity="0.29"/>
<rect x="329.61" y="403.70" width="1.27" height="15.30" fill="#ea4d60" opacity="0.08"/>
<rect x="333.22" y="403.70" width="1.25" height="15.30" fill="#ea4d60" opacity="0.14"/>
<rect x="327.78" y="403.70" width="2.15" height="15.30" fill="#ea4d60" opacity="0.07"/>
<rect x="341.50" y="387.80" width="4.50" height="15.90" fill="#2d55a9" opacity="0.36"/>
<rect x="343.07" y="387.80" width="1.20" height="15.90" fill="#2d55a9" opacity="0.42"/>
<rect x="344.75" y="387.80" width="1.26" height="15.90" fill="#2d55a9" opacity="0.71"/>
<rect x="345.37" y="387.80" width="0.85" height="15.90" fill="#2d55a9" opacity="0.42"/>
<rect x="344.02" y="387.80" width="0.44" height="15.90" fill="#2d55a9" opacity="0.61"/>
<rect x="344.35" y="387.80" width="0.30" height="15.90" fill="#fff" opacity="0.76"/>
<rect x="341.50" y="372.30" width="4.50" height="15.50" fill="#6cbf6c" opacity="0.07"/>
<rect x="345.72" y="372.30" width="0.49" height="15.50" fill="#6cbf6c" opacity="0.19"/>
<rect x="341.63" y="372.30" width="1.02" height="15.50" fill="#6cbf6c" opacity="0.27"/>
<rect x="342.12" y="372.30" width="0.51" height="15.50" fill="#6cbf6c" opacity="0.14"/>
<rect x="345.72" y="372.30" width="0.42" height="15.50" fill="#fff" opacity="0.63"/>
<rect x="343.27" y="403.70" width="0.72" height="15.30" fill="#ea4d60" opacity="0.42"/>
<rect x="341.50" y="403.70" width="0.73" height="15.30" fill="#ea4d60" opacity="0.43"/>
<rect x="342.79" y="403.70" width="0.73" height="15.30" fill="#ea4d60" opacity="0.21"/>
<rect x="347.00" y="387.80" width="6.00" height="15.90" fill="#2d55a9" opacity="0.36"/>
<rect x="350.93" y="387.80" width="0.71" height="15.90" fill="#2d55a9" opacity="0.38"/>
<rect x="350.50" y="387.80" width="1.28" height="15.90" fill="#2d55a9" opacity="0.68"/>
<rect x="348.31" y="387.80" width="1.34" height="15.90" fill="#2d55a9" opacity="0.64"/>
<rect x="349.52" y="387.80" width="0.86" height="15.90" fill="#2d55a9" opacity="0.54"/>
<rect x="348.43" y="387.80" width="1.01" height="15.90" fill="#2d55a9" opacity="0.60"/>
<rect x="352.21" y="387.80" width="1.44" height="15.90" fill="#2d55a9" opacity="0.43"/>
<rect x="351.61" y="387.80" width="0.31" height="15.90" fill="#fff" opacity="0.60"/>
<rect x="347.00" y="372.30" width="6.00" height="15.50" fill="#6cbf6c" opacity="0.07"/>
<rect x="352.67" y="372.30" width="1.45" height="15.50" fill="#6cbf6c" opacity="0.20"/>
<rect x="348.51" y="372.30" width="1.52" height="15.50" fill="#6cbf6c" opacity="0.30"/>
<rect x="350.07" y="372.30" width="1.91" height="15.50" fill="#6cbf6c" opacity="0.14"/>
<rect x="352.50" y="372.30" width="0.62" height="15.50" fill="#6cbf6c" opacity="0.16"/>
<rect x="347.87" y="372.30" width="1.32" height="15.50" fill="#fff" opacity="0.57"/>
<rect x="351.58" y="372.30" width="0.48" height="15.50" fill="#fff" opacity="0.66"/>
<rect x="351.12" y="403.70" width="0.94" height="15.30" fill="#ea4d60" opacity="0.51"/>
<rect x="351.62" y="403.70" width="0.38" height="15.30" fill="#ea4d60" opacity="0.45"/>
<rect x="349.76" y="403.70" width="0.84" height="15.30" fill="#ea4d60" opacity="0.52"/>
<rect x="350.83" y="403.70" width="0.59" height="15.30" fill="#ea4d60" opacity="0.25"/>
<rect x="349.84" y="403.70" width="1.43" height="15.30" fill="#ea4d60" opacity="0.10"/>
<rect x="249.01" y="387.80" width="0.64" height="15.90" fill="#2d55a9" opacity="0.62"/>
<rect x="248.26" y="387.80" width="0.90" height="15.90" fill="#2d55a9" opacity="0.90"/>
<rect x="248.40" y="387.80" width="1.15" height="15.90" fill="#2d55a9" opacity="0.88"/>
<rect x="248.26" y="387.80" width="1.12" height="15.90" fill="#2d55a9" opacity="0.87"/>
<rect x="249.98" y="372.30" width="1.62" height="15.50" fill="#6cbf6c" opacity="0.44"/>
<rect x="248.57" y="372.30" width="1.46" height="15.50" fill="#6cbf6c" opacity="0.41"/>
<rect x="245.39" y="403.70" width="0.59" height="15.30" fill="#ea4d60" opacity="0.56"/>
<rect x="245.18" y="403.70" width="0.51" height="15.30" fill="#ea4d60" opacity="0.67"/>
<rect x="249.62" y="403.70" width="0.42" height="15.30" fill="#ea4d60" opacity="0.73"/>
<rect x="269.19" y="387.80" width="0.92" height="15.90" fill="#2d55a9" opacity="0.82"/>
<rect x="270.98" y="387.80" width="1.36" height="15.90" fill="#2d55a9" opacity="0.85"/>
<rect x="271.64" y="387.80" width="0.75" height="15.90" fill="#2d55a9" opacity="0.60"/>
<rect x="270.76" y="387.80" width="1.38" height="15.90" fill="#2d55a9" opacity="0.82"/>
<rect x="268.25" y="372.30" width="1.27" height="15.50" fill="#6cbf6c" opacity="0.31"/>
<rect x="270.20" y="372.30" width="1.65" height="15.50" fill="#6cbf6c" opacity="0.30"/>
<rect x="268.58" y="403.70" width="1.11" height="15.30" fill="#ea4d60" opacity="0.68"/>
<rect x="269.24" y="403.70" width="0.50" height="15.30" fill="#ea4d60" opacity="0.59"/>
<rect x="269.35" y="403.70" width="0.48" height="15.30" fill="#ea4d60" opacity="0.70"/>
<rect x="284.42" y="387.80" width="0.79" height="15.90" fill="#2d55a9" opacity="0.86"/>
<rect x="281.37" y="387.80" width="1.48" height="15.90" fill="#2d55a9" opacity="0.70"/>
<rect x="283.00" y="387.80" width="1.04" height="15.90" fill="#2d55a9" opacity="0.71"/>
<rect x="281.98" y="387.80" width="0.56" height="15.90" fill="#2d55a9" opacity="0.81"/>
<rect x="281.62" y="372.30" width="1.47" height="15.50" fill="#6cbf6c" opacity="0.28"/>
<rect x="283.75" y="372.30" width="1.28" height="15.50" fill="#6cbf6c" opacity="0.29"/>
<rect x="284.05" y="403.70" width="0.92" height="15.30" fill="#ea4d60" opacity="0.65"/>
<rect x="282.14" y="403.70" width="0.57" height="15.30" fill="#ea4d60" opacity="0.74"/>
<rect x="283.76" y="403.70" width="0.68" height="15.30" fill="#ea4d60" opacity="0.72"/>
<rect x="290.19" y="387.80" width="1.26" height="15.90" fill="#2d55a9" opacity="0.76"/>
<rect x="290.12" y="387.80" width="1.24" height="15.90" fill="#2d55a9" opacity="0.84"/>
<rect x="290.78" y="387.80" width="1.45" height="15.90" fill="#2d55a9" opacity="0.74"/>
<rect x="289.85" y="387.80" width="0.85" height="15.90" fill="#2d55a9" opacity="0.95"/>
<rect x="290.29" y="372.30" width="1.41" height="15.50" fill="#6cbf6c" opacity="0.30"/>
<rect x="290.05" y="372.30" width="1.75" height="15.50" fill="#6cbf6c" opacity="0.40"/>
<rect x="290.62" y="403.70" width="1.14" height="15.30" fill="#ea4d60" opacity="0.73"/>
<rect x="289.73" y="403.70" width="1.13" height="15.30" fill="#ea4d60" opacity="0.48"/>
<rect x="291.02" y="403.70" width="0.99" height="15.30" fill="#ea4d60" opacity="0.75"/>
<rect x="302.38" y="387.80" width="0.53" height="15.90" fill="#2d55a9" opacity="0.93"/>
<rect x="300.40" y="387.80" width="1.33" height="15.90" fill="#2d55a9" opacity="0.82"/>
<rect x="302.71" y="387.80" width="1.25" height="15.90" fill="#2d55a9" opacity="0.84"/>
<rect x="301.21" y="387.80" width="0.96" height="15.90" fill="#2d55a9" opacity="0.64"/>
<rect x="301.44" y="372.30" width="1.26" height="15.50" fill="#6cbf6c" opacity="0.31"/>
<rect x="302.53" y="372.30" width="0.67" height="15.50" fill="#6cbf6c" opacity="0.32"/>
<rect x="300.93" y="403.70" width="0.72" height="15.30" fill="#ea4d60" opacity="0.64"/>
<rect x="304.65" y="403.70" width="0.60" height="15.30" fill="#ea4d60" opacity="0.62"/>
<rect x="301.10" y="403.70" width="0.84" height="15.30" fill="#ea4d60" opacity="0.47"/>
<rect x="323.84" y="387.80" width="0.67" height="15.90" fill="#2d55a9" opacity="0.85"/>
<rect x="322.61" y="387.80" width="0.98" height="15.90" fill="#2d55a9" opacity="0.69"/>
<rect x="321.44" y="387.80" width="0.88" height="15.90" fill="#2d55a9" opacity="0.77"/>
<rect x="323.95" y="387.80" width="0.87" height="15.90" fill="#2d55a9" opacity="0.69"/>
<rect x="322.25" y="372.30" width="1.39" height="15.50" fill="#6cbf6c" opacity="0.29"/>
<rect x="322.31" y="372.30" width="0.56" height="15.50" fill="#6cbf6c" opacity="0.42"/>
<rect x="321.21" y="403.70" width="1.18" height="15.30" fill="#ea4d60" opacity="0.52"/>
<rect x="322.89" y="403.70" width="1.11" height="15.30" fill="#ea4d60" opacity="0.50"/>
<rect x="322.65" y="403.70" width="0.54" height="15.30" fill="#ea4d60" opacity="0.68"/>
<rect x="369.20" y="387.80" width="8.20" height="15.90" fill="#2d55a9" opacity="0.20"/>
<rect x="370.56" y="387.80" width="0.70" height="15.90" fill="#2d55a9" opacity="0.43"/>
<rect x="374.01" y="387.80" width="0.78" height="15.90" fill="#2d55a9" opacity="0.30"/>
<rect x="374.74" y="387.80" width="0.34" height="15.90" fill="#2d55a9" opacity="0.49"/>
<rect x="370.23" y="387.80" width="0.43" height="15.90" fill="#2d55a9" opacity="0.42"/>
<rect x="376.91" y="372.30" width="0.34" height="15.50" fill="#6cbf6c" opacity="0.47"/>
<rect x="373.86" y="372.30" width="0.53" height="15.50" fill="#6cbf6c" opacity="0.53"/>
<rect x="372.28" y="372.30" width="0.44" height="15.50" fill="#6cbf6c" opacity="0.37"/>
<rect x="373.57" y="403.70" width="0.57" height="15.30" fill="#ea4d60" opacity="0.56"/>
<rect x="373.98" y="403.70" width="0.34" height="15.30" fill="#ea4d60" opacity="0.66"/>
<rect x="373.88" y="403.70" width="0.44" height="15.30" fill="#ea4d60" opacity="0.41"/>
<rect x="378.40" y="387.80" width="20.40" height="15.90" fill="#2d55a9" opacity="0.62"/>
<rect x="398.39" y="387.80" width="1.34" height="15.90" fill="#2d55a9" opacity="0.69"/>
<rect x="397.70" y="387.80" width="0.78" height="15.90" fill="#2d55a9" opacity="0.91"/>
<rect x="383.76" y="387.80" width="1.20" height="15.90" fill="#2d55a9" opacity="0.85"/>
<rect x="395.39" y="387.80" width="1.31" height="15.90" fill="#2d55a9" opacity="0.83"/>
<rect x="387.68" y="387.80" width="0.71" height="15.90" fill="#2d55a9" opacity="0.93"/>
<rect x="392.14" y="387.80" width="0.43" height="15.90" fill="#2d55a9" opacity="0.90"/>
<rect x="391.73" y="387.80" width="0.82" height="15.90" fill="#2d55a9" opacity="0.65"/>
<rect x="393.33" y="387.80" width="0.87" height="15.90" fill="#2d55a9" opacity="0.68"/>
<rect x="387.39" y="387.80" width="1.26" height="15.90" fill="#2d55a9" opacity="0.86"/>
<rect x="381.39" y="387.80" width="1.15" height="15.90" fill="#2d55a9" opacity="0.60"/>
<rect x="394.81" y="387.80" width="0.84" height="15.90" fill="#2d55a9" opacity="0.53"/>
<rect x="387.38" y="387.80" width="1.14" height="15.90" fill="#2d55a9" opacity="0.52"/>
<rect x="387.42" y="387.80" width="0.80" height="15.90" fill="#2d55a9" opacity="0.57"/>
<rect x="393.89" y="387.80" width="1.25" height="15.90" fill="#2d55a9" opacity="0.91"/>
<rect x="392.38" y="387.80" width="0.69" height="15.90" fill="#2d55a9" opacity="0.89"/>
<rect x="398.58" y="387.80" width="0.58" height="15.90" fill="#2d55a9" opacity="0.82"/>
<rect x="386.31" y="387.80" width="0.65" height="15.90" fill="#2d55a9" opacity="0.70"/>
<rect x="391.35" y="387.80" width="1.01" height="15.90" fill="#2d55a9" opacity="0.66"/>
<rect x="380.11" y="387.80" width="0.60" height="15.90" fill="#2d55a9" opacity="0.76"/>
<rect x="380.70" y="387.80" width="1.19" height="15.90" fill="#2d55a9" opacity="0.95"/>
<rect x="383.60" y="387.80" width="0.72" height="15.90" fill="#2d55a9" opacity="0.62"/>
<rect x="384.11" y="387.80" width="0.48" height="15.90" fill="#2d55a9" opacity="0.59"/>
<rect x="387.50" y="387.80" width="0.43" height="15.90" fill="#2d55a9" opacity="0.61"/>
<rect x="383.07" y="387.80" width="1.13" height="15.90" fill="#2d55a9" opacity="0.55"/>
<rect x="391.59" y="387.80" width="0.53" height="15.90" fill="#fff" opacity="0.95"/>
<rect x="384.42" y="387.80" width="0.30" height="15.90" fill="#fff" opacity="0.54"/>
<rect x="383.07" y="387.80" width="0.53" height="15.90" fill="#fff" opacity="0.66"/>
<rect x="388.27" y="387.80" width="0.40" height="15.90" fill="#fff" opacity="0.99"/>
<rect x="387.30" y="387.80" width="0.42" height="15.90" fill="#fff" opacity="0.96"/>
<rect x="387.51" y="387.80" width="0.55" height="15.90" fill="#fff" opacity="0.52"/>
<rect x="380.80" y="387.80" width="0.41" height="15.90" fill="#fff" opacity="0.54"/>
<rect x="378.40" y="372.30" width="20.40" height="15.50" fill="#6cbf6c" opacity="0.08"/>
<rect x="389.37" y="372.30" width="0.54" height="15.50" fill="#6cbf6c" opacity="0.27"/>
<rect x="396.93" y="372.30" width="1.24" height="15.50" fill="#6cbf6c" opacity="0.39"/>
<rect x="379.47" y="372.30" width="0.49" height="15.50" fill="#6cbf6c" opacity="0.33"/>
<rect x="378.97" y="372.30" width="0.61" height="15.50" fill="#6cbf6c" opacity="0.56"/>
<rect x="379.00" y="372.30" width="0.82" height="15.50" fill="#6cbf6c" opacity="0.57"/>
<rect x="383.97" y="372.30" width="0.82" height="15.50" fill="#6cbf6c" opacity="0.58"/>
<rect x="381.79" y="372.30" width="1.31" height="15.50" fill="#6cbf6c" opacity="0.43"/>
<rect x="398.15" y="372.30" width="1.16" height="15.50" fill="#6cbf6c" opacity="0.31"/>
<rect x="394.21" y="372.30" width="0.43" height="15.50" fill="#6cbf6c" opacity="0.44"/>
<rect x="397.56" y="372.30" width="0.36" height="15.50" fill="#6cbf6c" opacity="0.39"/>
<rect x="390.23" y="372.30" width="0.98" height="15.50" fill="#6cbf6c" opacity="0.51"/>
<rect x="395.15" y="372.30" width="1.29" height="15.50" fill="#6cbf6c" opacity="0.28"/>
<rect x="392.86" y="372.30" width="1.25" height="15.50" fill="#6cbf6c" opacity="0.40"/>
<rect x="384.36" y="372.30" width="0.99" height="15.50" fill="#6cbf6c" opacity="0.38"/>
<rect x="391.71" y="372.30" width="1.23" height="15.50" fill="#6cbf6c" opacity="0.32"/>
<rect x="384.30" y="372.30" width="0.31" height="15.50" fill="#6cbf6c" opacity="0.53"/>
<rect x="387.87" y="372.30" width="1.03" height="15.50" fill="#6cbf6c" opacity="0.49"/>
<rect x="395.18" y="372.30" width="0.44" height="15.50" fill="#6cbf6c" opacity="0.28"/>
<rect x="391.16" y="403.70" width="0.42" height="15.30" fill="#ea4d60" opacity="0.76"/>
<rect x="393.64" y="403.70" width="0.88" height="15.30" fill="#ea4d60" opacity="0.48"/>
<rect x="391.89" y="403.70" width="0.35" height="15.30" fill="#ea4d60" opacity="0.76"/>
<rect x="390.56" y="403.70" width="0.67" height="15.30" fill="#ea4d60" opacity="0.81"/>
<rect x="391.76" y="403.70" width="0.42" height="15.30" fill="#ea4d60" opacity="0.67"/>
<rect x="381.42" y="403.70" width="0.78" height="15.30" fill="#ea4d60" opacity="0.62"/>
<rect x="387.59" y="403.70" width="0.54" height="15.30" fill="#ea4d60" opacity="0.46"/>
<rect x="385.12" y="403.70" width="0.78" height="15.30" fill="#ea4d60" opacity="0.65"/>
<rect x="393.42" y="403.70" width="0.53" height="15.30" fill="#ea4d60" opacity="0.74"/>
<rect x="388.96" y="403.70" width="0.81" height="15.30" fill="#ea4d60" opacity="0.84"/>
<rect x="393.09" y="403.70" width="0.51" height="15.30" fill="#ea4d60" opacity="0.72"/>
<rect x="392.57" y="403.70" width="0.53" height="15.30" fill="#ea4d60" opacity="0.83"/>
<rect x="396.87" y="403.70" width="0.78" height="15.30" fill="#ea4d60" opacity="0.75"/>
<rect x="395.87" y="403.70" width="0.79" height="15.30" fill="#ea4d60" opacity="0.68"/>
<rect x="379.45" y="403.70" width="0.64" height="15.30" fill="#ea4d60" opacity="0.52"/>
<rect x="392.02" y="403.70" width="0.72" height="15.30" fill="#ea4d60" opacity="0.58"/>
<rect x="386.02" y="403.70" width="0.64" height="15.30" fill="#ea4d60" opacity="0.45"/>
<rect x="380.46" y="403.70" width="0.54" height="15.30" fill="#ea4d60" opacity="0.73"/>
<rect x="388.16" y="403.70" width="0.68" height="15.30" fill="#ea4d60" opacity="0.70"/>
<rect x="395.60" y="403.70" width="0.45" height="15.30" fill="#ea4d60" opacity="0.74"/>
<rect x="394.65" y="403.70" width="0.70" height="15.30" fill="#ea4d60" opacity="0.72"/>
<rect x="380.56" y="403.70" width="0.53" height="15.30" fill="#ea4d60" opacity="0.52"/>
<rect x="389.75" y="403.70" width="0.60" height="15.30" fill="#ea4d60" opacity="0.23"/>
<rect x="379.46" y="403.70" width="1.48" height="15.30" fill="#ea4d60" opacity="0.22"/>
<rect x="397.09" y="403.70" width="1.07" height="15.30" fill="#ea4d60" opacity="0.24"/>
<rect x="385.59" y="403.70" width="0.83" height="15.30" fill="#ea4d60" opacity="0.17"/>
<rect x="384.17" y="403.70" width="0.67" height="15.30" fill="#ea4d60" opacity="0.16"/>
<rect x="387.59" y="403.70" width="1.43" height="15.30" fill="#ea4d60" opacity="0.20"/>
<rect x="401.90" y="387.80" width="21.50" height="15.90" fill="#2d55a9" opacity="0.50"/>
<rect x="413.63" y="387.80" width="0.80" height="15.90" fill="#2d55a9" opacity="0.92"/>
<rect x="413.42" y="387.80" width="0.51" height="15.90" fill="#2d55a9" opacity="0.94"/>
<rect x="415.55" y="387.80" width="1.05" height="15.90" fill="#2d55a9" opacity="0.78"/>
<rect x="415.01" y="387.80" width="0.40" height="15.90" fill="#2d55a9" opacity="0.78"/>
<rect x="411.63" y="387.80" width="1.22" height="15.90" fill="#2d55a9" opacity="0.68"/>
<rect x="412.88" y="387.80" width="0.47" height="15.90" fill="#2d55a9" opacity="0.56"/>
<rect x="404.08" y="387.80" width="0.48" height="15.90" fill="#2d55a9" opacity="0.69"/>
<rect x="411.43" y="387.80" width="1.22" height="15.90" fill="#2d55a9" opacity="0.53"/>
<rect x="416.41" y="387.80" width="0.81" height="15.90" fill="#2d55a9" opacity="0.68"/>
<rect x="406.70" y="387.80" width="0.80" height="15.90" fill="#2d55a9" opacity="0.74"/>
<rect x="407.85" y="387.80" width="0.94" height="15.90" fill="#2d55a9" opacity="0.59"/>
<rect x="419.20" y="387.80" width="1.19" height="15.90" fill="#2d55a9" opacity="0.73"/>
<rect x="404.82" y="387.80" width="0.75" height="15.90" fill="#2d55a9" opacity="0.93"/>
<rect x="406.10" y="387.80" width="1.11" height="15.90" fill="#2d55a9" opacity="0.57"/>
<rect x="419.50" y="387.80" width="1.37" height="15.90" fill="#2d55a9" opacity="0.76"/>
<rect x="404.50" y="387.80" width="0.74" height="15.90" fill="#2d55a9" opacity="0.61"/>
<rect x="408.36" y="387.80" width="0.47" height="15.90" fill="#2d55a9" opacity="0.61"/>
<rect x="421.47" y="387.80" width="0.69" height="15.90" fill="#2d55a9" opacity="0.65"/>
<rect x="410.78" y="387.80" width="1.39" height="15.90" fill="#2d55a9" opacity="0.77"/>
<rect x="419.48" y="387.80" width="0.59" height="15.90" fill="#2d55a9" opacity="0.67"/>
<rect x="418.34" y="387.80" width="0.83" height="15.90" fill="#2d55a9" opacity="0.54"/>
<rect x="402.33" y="387.80" width="0.87" height="15.90" fill="#2d55a9" opacity="0.73"/>
<rect x="406.62" y="387.80" width="1.31" height="15.90" fill="#2d55a9" opacity="0.69"/>
<rect x="421.51" y="387.80" width="1.09" height="15.90" fill="#2d55a9" opacity="0.81"/>
<rect x="408.81" y="387.80" width="0.57" height="15.90" fill="#2d55a9" opacity="0.76"/>
<rect x="411.55" y="387.80" width="0.33" height="15.90" fill="#fff" opacity="0.98"/>
<rect x="405.40" y="387.80" width="0.56" height="15.90" fill="#fff" opacity="0.70"/>
<rect x="402.41" y="387.80" width="0.64" height="15.90" fill="#fff" opacity="0.85"/>
<rect x="423.31" y="387.80" width="0.47" height="15.90" fill="#fff" opacity="0.86"/>
<rect x="403.85" y="387.80" width="0.60" height="15.90" fill="#fff" opacity="0.59"/>
<rect x="420.96" y="387.80" width="0.59" height="15.90" fill="#fff" opacity="0.96"/>
<rect x="409.78" y="387.80" width="0.58" height="15.90" fill="#fff" opacity="0.90"/>
<rect x="401.90" y="372.30" width="21.50" height="15.50" fill="#6cbf6c" opacity="0.08"/>
<rect x="423.18" y="372.30" width="0.75" height="15.50" fill="#6cbf6c" opacity="0.33"/>
<rect x="419.02" y="372.30" width="0.37" height="15.50" fill="#6cbf6c" opacity="0.54"/>
<rect x="412.00" y="372.30" width="0.45" height="15.50" fill="#6cbf6c" opacity="0.31"/>
<rect x="413.99" y="372.30" width="1.09" height="15.50" fill="#6cbf6c" opacity="0.34"/>
<rect x="418.39" y="372.30" width="0.86" height="15.50" fill="#6cbf6c" opacity="0.33"/>
<rect x="415.50" y="372.30" width="0.92" height="15.50" fill="#6cbf6c" opacity="0.33"/>
<rect x="403.42" y="372.30" width="0.80" height="15.50" fill="#6cbf6c" opacity="0.20"/>
<rect x="403.19" y="372.30" width="0.32" height="15.50" fill="#6cbf6c" opacity="0.40"/>
<rect x="407.76" y="372.30" width="1.20" height="15.50" fill="#6cbf6c" opacity="0.60"/>
<rect x="419.49" y="372.30" width="1.18" height="15.50" fill="#6cbf6c" opacity="0.41"/>
<rect x="406.66" y="372.30" width="1.01" height="15.50" fill="#6cbf6c" opacity="0.47"/>
<rect x="408.76" y="372.30" width="1.10" height="15.50" fill="#6cbf6c" opacity="0.60"/>
<rect x="419.60" y="372.30" width="0.68" height="15.50" fill="#6cbf6c" opacity="0.38"/>
<rect x="404.67" y="372.30" width="1.16" height="15.50" fill="#6cbf6c" opacity="0.29"/>
<rect x="407.92" y="372.30" width="0.41" height="15.50" fill="#6cbf6c" opacity="0.56"/>
<rect x="407.41" y="372.30" width="0.32" height="15.50" fill="#6cbf6c" opacity="0.56"/>
<rect x="402.92" y="372.30" width="1.31" height="15.50" fill="#6cbf6c" opacity="0.27"/>
<rect x="417.87" y="372.30" width="1.13" height="15.50" fill="#6cbf6c" opacity="0.32"/>
<rect x="408.79" y="372.30" width="0.60" height="15.50" fill="#6cbf6c" opacity="0.59"/>
<rect x="420.97" y="403.70" width="0.44" height="15.30" fill="#ea4d60" opacity="0.68"/>
<rect x="418.33" y="403.70" width="0.41" height="15.30" fill="#ea4d60" opacity="0.85"/>
<rect x="411.28" y="403.70" width="0.39" height="15.30" fill="#ea4d60" opacity="0.66"/>
<rect x="423.10" y="403.70" width="0.67" height="15.30" fill="#ea4d60" opacity="0.65"/>
<rect x="414.17" y="403.70" width="0.43" height="15.30" fill="#ea4d60" opacity="0.58"/>
<rect x="422.97" y="403.70" width="0.86" height="15.30" fill="#ea4d60" opacity="0.51"/>
<rect x="417.41" y="403.70" width="0.31" height="15.30" fill="#ea4d60" opacity="0.86"/>
<rect x="402.91" y="403.70" width="0.83" height="15.30" fill="#ea4d60" opacity="0.76"/>
<rect x="419.06" y="403.70" width="0.58" height="15.30" fill="#ea4d60" opacity="0.88"/>
<rect x="419.92" y="403.70" width="0.55" height="15.30" fill="#ea4d60" opacity="0.46"/>
<rect x="420.84" y="403.70" width="0.56" height="15.30" fill="#ea4d60" opacity="0.69"/>
<rect x="415.27" y="403.70" width="0.63" height="15.30" fill="#ea4d60" opacity="0.85"/>
<rect x="402.71" y="403.70" width="0.34" height="15.30" fill="#ea4d60" opacity="0.83"/>
<rect x="420.55" y="403.70" width="0.61" height="15.30" fill="#ea4d60" opacity="0.78"/>
<rect x="410.97" y="403.70" width="0.55" height="15.30" fill="#ea4d60" opacity="0.58"/>
<rect x="406.13" y="403.70" width="0.50" height="15.30" fill="#ea4d60" opacity="0.57"/>
<rect x="406.38" y="403.70" width="0.57" height="15.30" fill="#ea4d60" opacity="0.72"/>
<rect x="406.23" y="403.70" width="0.80" height="15.30" fill="#ea4d60" opacity="0.53"/>
<rect x="419.44" y="403.70" width="0.57" height="15.30" fill="#ea4d60" opacity="0.69"/>
<rect x="403.46" y="403.70" width="0.79" height="15.30" fill="#ea4d60" opacity="0.77"/>
<rect x="421.64" y="403.70" width="0.67" height="15.30" fill="#ea4d60" opacity="0.75"/>
<rect x="402.26" y="403.70" width="0.57" height="15.30" fill="#ea4d60" opacity="0.81"/>
<rect x="417.44" y="403.70" width="0.80" height="15.30" fill="#ea4d60" opacity="0.70"/>
<rect x="404.42" y="403.70" width="0.85" height="15.30" fill="#ea4d60" opacity="0.16"/>
<rect x="411.06" y="403.70" width="0.88" height="15.30" fill="#ea4d60" opacity="0.13"/>
<rect x="407.59" y="403.70" width="1.07" height="15.30" fill="#ea4d60" opacity="0.16"/>
<rect x="406.02" y="403.70" width="1.44" height="15.30" fill="#ea4d60" opacity="0.19"/>
<rect x="408.28" y="403.70" width="1.48" height="15.30" fill="#ea4d60" opacity="0.23"/>
<rect x="419.52" y="403.70" width="0.99" height="15.30" fill="#ea4d60" opacity="0.10"/>
<rect x="430.50" y="387.80" width="0.60" height="15.90" fill="#2d55a9" opacity="0.85"/>
<rect x="431.60" y="387.80" width="0.60" height="15.90" fill="#2d55a9" opacity="0.85"/>
<rect x="433.10" y="387.80" width="0.60" height="15.90" fill="#2d55a9" opacity="0.85"/>
<rect x="437.60" y="387.80" width="0.60" height="15.90" fill="#2d55a9" opacity="0.85"/>
<rect x="442.80" y="387.80" width="12.20" height="15.90" fill="#2d55a9" opacity="0.80"/>
<rect x="445.40" y="387.80" width="0.52" height="15.90" fill="#2d55a9" opacity="0.63"/>
<rect x="444.26" y="387.80" width="0.67" height="15.90" fill="#2d55a9" opacity="0.85"/>
<rect x="451.80" y="387.80" width="0.77" height="15.90" fill="#2d55a9" opacity="0.92"/>
<rect x="444.48" y="387.80" width="1.20" height="15.90" fill="#2d55a9" opacity="0.83"/>
<rect x="450.67" y="387.80" width="0.68" height="15.90" fill="#2d55a9" opacity="0.92"/>
<rect x="446.73" y="387.80" width="0.47" height="15.90" fill="#2d55a9" opacity="0.90"/>
<rect x="448.66" y="387.80" width="1.11" height="15.90" fill="#2d55a9" opacity="0.91"/>
<rect x="452.03" y="387.80" width="0.48" height="15.90" fill="#2d55a9" opacity="0.83"/>
<rect x="446.44" y="387.80" width="1.04" height="15.90" fill="#2d55a9" opacity="0.76"/>
<rect x="444.90" y="387.80" width="1.08" height="15.90" fill="#2d55a9" opacity="0.67"/>
<rect x="446.31" y="387.80" width="0.82" height="15.90" fill="#2d55a9" opacity="0.82"/>
<rect x="454.31" y="387.80" width="1.03" height="15.90" fill="#2d55a9" opacity="0.76"/>
<rect x="449.54" y="387.80" width="0.61" height="15.90" fill="#2d55a9" opacity="0.88"/>
<rect x="446.30" y="387.80" width="0.49" height="15.90" fill="#2d55a9" opacity="0.75"/>
<rect x="446.64" y="387.80" width="0.47" height="15.90" fill="#fff" opacity="0.84"/>
<rect x="449.26" y="387.80" width="0.50" height="15.90" fill="#fff" opacity="0.98"/>
<rect x="446.28" y="387.80" width="0.44" height="15.90" fill="#fff" opacity="0.79"/>
<rect x="442.80" y="372.30" width="12.20" height="15.50" fill="#6cbf6c" opacity="0.22"/>
<rect x="443.04" y="372.30" width="0.43" height="15.50" fill="#6cbf6c" opacity="0.45"/>
<rect x="445.14" y="372.30" width="0.66" height="15.50" fill="#6cbf6c" opacity="0.57"/>
<rect x="445.84" y="372.30" width="0.81" height="15.50" fill="#6cbf6c" opacity="0.51"/>
<rect x="445.38" y="372.30" width="0.61" height="15.50" fill="#6cbf6c" opacity="0.38"/>
<rect x="449.13" y="372.30" width="1.07" height="15.50" fill="#6cbf6c" opacity="0.47"/>
<rect x="445.23" y="372.30" width="1.12" height="15.50" fill="#6cbf6c" opacity="0.34"/>
<rect x="449.75" y="372.30" width="0.40" height="15.50" fill="#6cbf6c" opacity="0.49"/>
<rect x="452.88" y="372.30" width="0.41" height="15.50" fill="#6cbf6c" opacity="0.28"/>
<rect x="443.69" y="372.30" width="0.65" height="15.50" fill="#6cbf6c" opacity="0.49"/>
<rect x="445.76" y="372.30" width="0.62" height="15.50" fill="#6cbf6c" opacity="0.51"/>
<rect x="448.86" y="372.30" width="0.71" height="15.50" fill="#6cbf6c" opacity="0.35"/>
<rect x="443.36" y="372.30" width="0.78" height="15.50" fill="#6cbf6c" opacity="0.46"/>
<rect x="452.00" y="372.30" width="3.00" height="15.50" fill="#6cbf6c" opacity="0.35"/>
<rect x="443.88" y="403.70" width="0.56" height="15.30" fill="#ea4d60" opacity="0.75"/>
<rect x="447.06" y="403.70" width="0.63" height="15.30" fill="#ea4d60" opacity="0.62"/>
<rect x="444.01" y="403.70" width="0.43" height="15.30" fill="#ea4d60" opacity="0.66"/>
<rect x="449.77" y="403.70" width="0.71" height="15.30" fill="#ea4d60" opacity="0.55"/>
<rect x="446.63" y="403.70" width="0.68" height="15.30" fill="#ea4d60" opacity="0.51"/>
<rect x="444.28" y="403.70" width="0.41" height="15.30" fill="#ea4d60" opacity="0.77"/>
<rect x="443.11" y="403.70" width="0.78" height="15.30" fill="#ea4d60" opacity="0.81"/>
<rect x="444.34" y="403.70" width="0.71" height="15.30" fill="#ea4d60" opacity="0.60"/>
<rect x="445.09" y="403.70" width="0.89" height="15.30" fill="#ea4d60" opacity="0.74"/>
<rect x="446.93" y="403.70" width="0.85" height="15.30" fill="#ea4d60" opacity="0.87"/>
<rect x="447.58" y="403.70" width="0.44" height="15.30" fill="#ea4d60" opacity="0.89"/>
<rect x="447.92" y="403.70" width="0.35" height="15.30" fill="#ea4d60" opacity="0.75"/>
<rect x="442.80" y="403.70" width="7.20" height="15.30" fill="#ea4d60" opacity="0.12"/>
<rect x="450.00" y="403.70" width="5.00" height="15.30" fill="#ea4d60" opacity="0.85"/>
<rect x="458.20" y="387.80" width="0.60" height="15.90" fill="#2d55a9" opacity="0.8"/>
<rect x="459.40" y="403.70" width="0.60" height="15.30" fill="#ea4d60" opacity="0.8"/>
<rect x="463.30" y="387.80" width="3.00" height="15.90" fill="#2d55a9" opacity="0.35"/>
<rect x="463.80" y="372.30" width="0.50" height="15.50" fill="#6cbf6c" opacity="0.6"/>
<rect x="471.30" y="387.80" width="0.60" height="15.90" fill="#2d55a9" opacity="0.8"/>
<rect x="477.40" y="387.80" width="0.60" height="15.90" fill="#2d55a9" opacity="0.8"/>
<rect x="480.60" y="387.80" width="3.00" height="15.90" fill="#2d55a9" opacity="0.30"/>
<rect x="481.37" y="387.80" width="0.47" height="15.90" fill="#2d55a9" opacity="0.56"/>
<rect x="480.88" y="387.80" width="0.54" height="15.90" fill="#2d55a9" opacity="0.64"/>
<rect x="481.20" y="372.30" width="2.40" height="15.50" fill="#6cbf6c" opacity="0.15"/>
<rect x="481.85" y="372.30" width="0.44" height="15.50" fill="#6cbf6c" opacity="0.53"/>
<rect x="481.23" y="372.30" width="0.46" height="15.50" fill="#6cbf6c" opacity="0.48"/>
<rect x="481.30" y="403.70" width="0.50" height="15.30" fill="#ea4d60" opacity="0.8"/>
<rect x="482.80" y="403.70" width="0.50" height="15.30" fill="#ea4d60" opacity="0.7"/>
<rect x="243.80" y="356.60" width="13.90" height="15.70" fill="#14b2be" />
<rect x="276.50" y="356.60" width="13.70" height="15.70" fill="#14b2be" />
<rect x="309.30" y="356.60" width="13.70" height="15.70" fill="#14b2be" />
<rect x="393.30" y="356.10" width="14.10" height="15.80" fill="#14b2be" />
<rect x="427.90" y="356.10" width="13.80" height="15.80" fill="#14b2be" />
<rect x="468.90" y="357.80" width="14.10" height="15.90" fill="#14b2be" />
<line x1="231.30" y1="355.90" x2="231.30" y2="419.30" stroke="#505050" stroke-width="1.4" stroke-dasharray="4.5 2.3" stroke-dashoffset="1.5"/>
<line x1="367.20" y1="355.90" x2="367.20" y2="419.30" stroke="#505050" stroke-width="1.4" stroke-dasharray="4.5 2.3" stroke-dashoffset="1.5"/>
<line x1="230.80" y1="419.40" x2="354.20" y2="419.40" stroke="#4a4a4a" stroke-width="0.9" />
<line x1="366.70" y1="419.40" x2="489.20" y2="419.40" stroke="#4a4a4a" stroke-width="0.9" />
<line x1="253.00" y1="419.40" x2="253.00" y2="417.60" stroke="#4a4a4a" stroke-width="0.8" />
<line x1="275.00" y1="419.40" x2="275.00" y2="417.60" stroke="#4a4a4a" stroke-width="0.8" />
<line x1="297.00" y1="419.40" x2="297.00" y2="417.60" stroke="#4a4a4a" stroke-width="0.8" />
<line x1="319.00" y1="419.40" x2="319.00" y2="417.60" stroke="#4a4a4a" stroke-width="0.8" />
<line x1="341.00" y1="419.40" x2="341.00" y2="417.60" stroke="#4a4a4a" stroke-width="0.8" />
<line x1="432.60" y1="419.40" x2="432.60" y2="417.60" stroke="#4a4a4a" stroke-width="0.8" />
<line x1="476.20" y1="419.40" x2="476.20" y2="417.60" stroke="#4a4a4a" stroke-width="0.8" />
<text x="225.40" y="369.30" font-size="10.5" fill="#231f20" stroke="#231f20" stroke-width="0.22" text-anchor="end" textLength="24.4" lengthAdjust="spacingAndGlyphs">Opto</text>
<text x="225.40" y="384.00" font-size="10.5" fill="#231f20" stroke="#231f20" stroke-width="0.22" text-anchor="end" textLength="57.6" lengthAdjust="spacingAndGlyphs">Compl. trial</text>
<text x="225.40" y="400.00" font-size="10.5" fill="#231f20" stroke="#231f20" stroke-width="0.22" text-anchor="end" textLength="20.2" lengthAdjust="spacingAndGlyphs">Lick</text>
<text x="225.40" y="415.80" font-size="10.5" fill="#231f20" stroke="#231f20" stroke-width="0.22" text-anchor="end" textLength="24.8" lengthAdjust="spacingAndGlyphs">Poke</text>
<text x="254.90" y="345.80" font-size="10.7" fill="#231f20" stroke="#231f20" stroke-width="0.22" textLength="73.3" lengthAdjust="spacingAndGlyphs">tdTomato: Ctrl</text>
<text x="397.40" y="345.30" font-size="10.7" fill="#231f20" stroke="#231f20" stroke-width="0.22" textLength="59.7" lengthAdjust="spacingAndGlyphs">SERT: Supp</text>
<text x="230.60" y="432.70" font-size="10.5" fill="#231f20" stroke="#231f20" stroke-width="0.22" text-anchor="middle" textLength="5.8" lengthAdjust="spacingAndGlyphs">0</text>
<text x="300.30" y="432.70" font-size="10.5" fill="#231f20" stroke="#231f20" stroke-width="0.22" text-anchor="middle" textLength="18.2" lengthAdjust="spacingAndGlyphs">600</text>
<text x="367.20" y="432.70" font-size="10.5" fill="#231f20" stroke="#231f20" stroke-width="0.22" text-anchor="middle" textLength="5.8" lengthAdjust="spacingAndGlyphs">0</text>
<text x="432.60" y="432.70" font-size="10.5" fill="#231f20" stroke="#231f20" stroke-width="0.22" text-anchor="middle" textLength="18.2" lengthAdjust="spacingAndGlyphs">600</text>
<text x="272.20" y="449.10" font-size="10.5" fill="#231f20" stroke="#231f20" stroke-width="0.22" textLength="39.8" lengthAdjust="spacingAndGlyphs">Time (s)</text>
<text x="407.70" y="449.10" font-size="10.5" fill="#231f20" stroke="#231f20" stroke-width="0.22" textLength="39.8" lengthAdjust="spacingAndGlyphs">Time (s)</text>
<text x="0.00" y="486.00" font-size="12.5" fill="#000" stroke="#000" stroke-width="0.22" font-weight="bold">i</text>
<text x="114.60" y="491.20" font-size="10.7" fill="#231f20" stroke="#231f20" stroke-width="0.22" textLength="62.4" lengthAdjust="spacingAndGlyphs">Novel object</text>
<text x="104.70" y="585.40" font-size="10.7" fill="#231f20" stroke="#231f20" stroke-width="0.22" textLength="82.2" lengthAdjust="spacingAndGlyphs">SERT: GCaMP6f</text>
<text x="65.00" y="545.50" font-size="10.5" fill="#231f20" stroke="#231f20" stroke-width="0.22" textLength="24.0" lengthAdjust="spacingAndGlyphs" transform="rotate(-90 65.00 545.50)">Fibre</text>
<text x="78.00" y="559.80" font-size="10.5" fill="#231f20" stroke="#231f20" stroke-width="0.22" textLength="58.1" lengthAdjust="spacingAndGlyphs" transform="rotate(-90 78.00 559.80)">photometry</text>
<rect x="104.30" y="499.10" width="83.00" height="73.20" fill="#d5d7d3" stroke="#5a86c0" stroke-width="0.9"/>
<rect x="83.90" y="490.40" width="18.20" height="9.80" fill="#d5d7d3" stroke="#111" stroke-width="0.9"/>
<rect x="89.40" y="496.30" width="7.00" height="3.90" fill="#111" />
<path d="M92.0,500.2 L92.0,554.2 L121.0,554.2" fill="none" stroke="#2d55a9" stroke-width="1.4" />
<path d="M93.6,500.2 L93.6,552.5 L121.0,552.5" fill="none" stroke="#3fae49" stroke-width="1.2" />
<circle cx="122.20" cy="512.00" r="2.8" fill="#2d62b5" stroke="none" stroke-width="0.7" />
<rect x="172.40" y="506.60" width="7.00" height="7.00" fill="#2d62b5" />
<rect x="173.40" y="507.60" width="5.00" height="5.00" fill="#d5d7d3" />
<circle cx="175.90" cy="510.10" r="1.8" fill="#f1d34b" stroke="none" stroke-width="0.7" />
<path d="M145.9,528.4 C145.0,524.8 147.0,522.2 150.2,522.2 C151.6,522.8 151.8,524.2 150.6,524.8 C149.0,525.0 148.6,526.4 149.6,527.6 C150.6,528.6 150.6,529.8 149.2,530.2 C147.6,530.4 146.4,529.6 145.9,528.4 Z" fill="#f1d34b" stroke="#2d62b5" stroke-width="0.8" />
<circle cx="114.60" cy="541.20" r="2.3" fill="#f1d34b" stroke="#2d62b5" stroke-width="0.8" />
<circle cx="176.60" cy="537.40" r="2.3" fill="#15a04a" stroke="#d5602a" stroke-width="0.9" />
<path d="M157.0,567.0 C156.2,564.2 157.4,561.0 160.2,560.4 C161.8,561.4 161.4,564.6 160.4,566.6 C159.6,568.0 157.6,568.2 157.0,567.0 Z" fill="#f3bda8" stroke="#2d62b5" stroke-width="0.6" />
<g transform="translate(67.8 133.0)" fill="#0a0a0a"><circle cx="51.3" cy="419.2" r="2.5"/><circle cx="54.3" cy="419.4" r="2.6"/><circle cx="56.6" cy="422.2" r="2.2"/><ellipse cx="51.8" cy="424.3" rx="3.7" ry="4.1"/><circle cx="54.6" cy="423.5" r="2.4"/><path d="M49.3,427.6 C49.8,430 51,432 52.4,433.5" fill="none" stroke="#0a0a0a" stroke-width="0.8"/><path d="M51,416.6 C52,415 53.3,414.1 54.5,413.9 C55.2,414.8 55.7,415.8 55.9,417 M58.2,418.0 C59.8,418.4 61.2,419.3 62.2,420.5 M58.2,418.9 C59.5,419.5 60.6,420.3 61.4,421.3" fill="none" stroke="#444" stroke-width="0.4"/></g>
<text x="0.00" y="609.40" font-size="12.5" fill="#000" stroke="#000" stroke-width="0.22" font-weight="bold">j</text>
<text x="125.70" y="611.50" font-size="10.7" fill="#231f20" stroke="#231f20" stroke-width="0.22" textLength="43.1" lengthAdjust="spacingAndGlyphs">Example</text>
<text x="33.70" y="628.40" font-size="10.7" fill="#231f20" stroke="#231f20" stroke-width="0.22" textLength="100.2" lengthAdjust="spacingAndGlyphs">1st deep interaction</text>
<polyline points="39.90,679.83 40.15,677.32 40.41,685.21 40.66,677.26 40.92,681.50 41.17,683.44 41.43,683.62 41.68,684.45 41.94,682.62 42.19,680.33 42.45,681.09 42.70,681.14 42.96,686.40 43.21,686.40 43.47,679.53 43.72,681.08 43.98,678.42 44.23,680.87 44.49,685.95 44.74,680.37 45.00,681.74 45.25,682.53 45.51,684.78 45.76,682.68 46.02,682.86 46.27,680.26 46.53,681.88 46.78,678.30 47.04,683.64 47.29,680.56 47.55,680.32 47.80,683.34 48.06,683.91 48.31,678.60 48.57,679.59 48.82,681.10 49.08,679.97 49.33,682.64 49.59,680.67 49.84,682.82 50.10,681.13 50.35,679.44 50.61,682.72 50.86,680.10 51.11,684.68 51.37,683.11 51.62,685.80 51.88,683.02 52.13,682.77 52.39,683.59 52.64,683.92 52.90,680.33 53.15,680.31 53.41,686.40 53.66,680.84 53.92,686.40 54.17,685.14 54.43,683.74 54.68,683.00 54.94,685.62 55.19,684.78 55.45,682.83 55.70,684.55 55.96,684.34 56.21,681.20 56.47,680.50 56.72,682.74 56.98,682.47 57.23,682.48 57.49,683.41 57.74,683.46 58.00,684.60 58.25,680.56 58.51,682.18 58.76,682.21 59.02,681.33 59.27,680.46 59.53,678.29 59.78,682.16 60.04,682.37 60.29,680.87 60.55,683.22 60.80,678.17 61.06,678.89 61.31,679.34 61.56,681.15 61.82,679.05 62.07,678.23 62.33,679.36 62.58,681.01 62.84,684.13 63.09,677.80 63.35,680.67 63.60,681.64 63.86,677.41 64.11,678.53 64.37,682.47 64.62,679.21 64.88,679.44 65.13,676.31 65.39,682.90 65.64,679.20 65.90,678.44 66.15,674.63 66.41,680.31 66.66,684.47 66.92,680.52 67.17,676.36 67.43,674.77 67.68,672.31 67.94,675.12 68.19,677.63 68.45,673.37 68.70,675.16 68.96,675.30 69.21,674.48 69.47,671.24 69.72,676.02 69.98,676.00 70.23,673.46 70.49,673.47 70.74,675.43 71.00,675.79 71.25,673.06 71.51,671.02 71.76,672.69 72.02,672.97 72.27,671.86 72.52,679.65 72.78,678.73 73.03,677.06 73.29,678.41 73.54,678.14 73.80,675.87 74.05,679.22 74.31,677.08 74.56,680.65 74.82,677.97 75.07,672.37 75.33,676.62 75.58,674.42 75.84,673.35 76.09,675.98 76.35,673.31 76.60,673.99 76.86,672.69 77.11,675.63 77.37,677.35 77.62,676.19 77.88,674.93 78.13,672.21 78.39,673.77 78.64,674.08 78.90,673.47 79.15,670.39 79.41,674.22 79.66,669.24 79.92,675.56 80.17,673.98 80.43,670.50 80.68,671.19 80.94,674.32 81.19,672.48 81.45,673.79 81.70,670.04 81.96,670.68 82.21,673.52 82.47,670.83 82.72,672.52 82.97,671.74 83.23,670.62 83.48,671.01 83.74,667.61 83.99,666.45 84.25,665.45 84.50,662.77 84.76,664.91 85.01,666.66 85.27,663.32 85.52,660.74 85.78,660.19 86.03,657.93 86.29,656.43 86.54,657.63 86.80,656.98 87.05,659.86 87.31,655.95 87.56,659.81 87.82,662.55 88.07,663.45 88.33,662.08 88.58,657.18 88.84,658.72 89.09,664.21 89.35,660.24 89.60,659.05 89.86,657.18 90.11,656.65 90.37,657.76 90.62,654.11 90.88,655.18 91.13,657.93 91.39,653.16 91.64,651.91 91.90,646.88 92.15,645.53 92.41,649.34 92.66,645.37 92.92,644.46 93.17,646.92 93.43,647.25 93.68,641.62 93.93,642.94 94.19,646.50 94.44,653.30 94.70,648.88 94.95,652.02 95.21,653.18 95.46,652.25 95.72,654.52 95.97,650.96 96.23,652.64 96.48,654.36 96.74,652.79 96.99,653.91 97.25,657.78 97.50,654.96 97.76,656.08 98.01,659.54 98.27,657.50 98.52,655.48 98.78,658.43 99.03,654.19 99.29,654.01 99.54,659.20 99.80,657.69 100.05,654.83 100.31,660.77 100.56,662.60 100.82,661.99 101.07,664.72 101.33,665.16 101.58,662.02 101.84,663.98 102.09,662.94 102.35,662.87 102.60,665.56 102.86,663.92 103.11,663.79 103.37,664.41 103.62,664.50 103.88,661.49 104.13,662.25 104.38,660.84 104.64,658.96 104.89,658.62 105.15,663.29 105.40,662.66 105.66,661.45 105.91,660.76 106.17,659.06 106.42,663.70 106.68,662.67 106.93,661.27 107.19,659.17 107.44,659.02 107.70,664.80 107.95,663.14 108.21,664.73 108.46,661.05 108.72,662.19 108.97,664.27 109.23,665.06 109.48,663.14 109.74,661.74 109.99,665.94 110.25,664.99 110.50,664.07 110.76,664.39 111.01,663.73 111.27,666.96 111.52,666.11 111.78,669.73 112.03,664.78 112.29,662.50 112.54,669.91 112.80,666.68 113.05,663.19 113.31,665.72 113.56,669.92 113.82,662.85 114.07,669.01 114.33,662.79 114.58,667.73 114.84,668.39 115.09,667.04 115.34,667.53 115.60,666.44 115.85,667.04 116.11,668.93 116.36,665.86 116.62,667.66 116.87,669.06 117.13,669.75 117.38,670.64 117.64,670.94 117.89,669.55 118.15,670.34 118.40,671.70 118.66,669.76 118.91,673.09 119.17,671.81 119.42,671.16 119.68,676.12 119.93,674.48 120.19,670.30 120.44,676.78 120.70,672.19 120.95,677.71 121.21,674.63 121.46,678.41 121.72,677.59 121.97,676.34 122.23,676.06 122.48,671.72 122.74,671.45 122.99,670.67 123.25,671.57 123.50,667.50 123.76,668.24 124.01,669.30 124.27,672.21 124.52,667.84 124.78,667.62 125.03,668.61 125.29,666.86 125.54,666.42 125.79,668.62 126.05,666.29 126.30,666.49 126.56,666.27 126.81,667.49 127.07,667.47 127.32,665.80 127.58,662.42 127.83,660.16 128.09,666.33 128.34,667.80 128.60,666.00 128.85,667.02 129.11,665.91 129.36,663.88 129.62,666.81 129.87,663.11 130.13,662.55 130.38,660.73 130.64,659.89 130.89,661.68 131.15,658.57 131.40,664.91 131.66,662.97 131.91,663.08 132.17,662.35 132.42,661.46 132.68,665.09 132.93,660.79 133.19,662.29 133.44,664.92 133.70,665.12 133.95,668.95 134.21,672.96 134.46,667.83 134.72,667.36 134.97,668.04 135.23,671.99 135.48,671.51 135.74,667.38 135.99,670.81 136.25,672.10 136.50,675.29" fill="none" stroke="#1a74bc" stroke-width="1.45" stroke-linejoin="round" />
<line x1="39.90" y1="678.80" x2="136.50" y2="678.80" stroke="#333" stroke-width="1.2" stroke-dasharray="3.6 2.3"/>
<line x1="88.20" y1="641.10" x2="88.20" y2="687.10" stroke="#555" stroke-width="1.3" stroke-dasharray="3.4 3.8"/>
<path d="M86.30,636.10 L90.10,636.10 L88.20,641.00 Z" fill="#111" stroke="none" stroke-width="1" />
<line x1="39.90" y1="642.20" x2="39.90" y2="687.10" stroke="#5a5b5d" stroke-width="0.9" />
<line x1="39.90" y1="643.70" x2="42.10" y2="643.70" stroke="#5a5b5d" stroke-width="0.8" />
<line x1="39.90" y1="655.40" x2="42.10" y2="655.40" stroke="#5a5b5d" stroke-width="0.8" />
<line x1="39.90" y1="667.10" x2="42.10" y2="667.10" stroke="#5a5b5d" stroke-width="0.8" />
<line x1="39.90" y1="678.80" x2="42.10" y2="678.80" stroke="#5a5b5d" stroke-width="0.8" />
<line x1="39.90" y1="687.10" x2="136.50" y2="687.10" stroke="#5a5b5d" stroke-width="0.9" />
<line x1="136.50" y1="687.10" x2="136.50" y2="684.90" stroke="#5a5b5d" stroke-width="0.8" />
<line x1="88.20" y1="687.10" x2="88.20" y2="684.90" stroke="#5a5b5d" stroke-width="0.8" />
<text x="35.60" y="647.80" font-size="10.5" fill="#231f20" stroke="#231f20" stroke-width="0.22" text-anchor="end" textLength="12.3" lengthAdjust="spacingAndGlyphs">15</text>
<text x="35.60" y="682.40" font-size="10.5" fill="#231f20" stroke="#231f20" stroke-width="0.22" text-anchor="end" textLength="6.2" lengthAdjust="spacingAndGlyphs">0</text>
<text x="33.30" y="706.60" font-size="10.7" fill="#231f20" stroke="#231f20" stroke-width="0.22" textLength="104.2" lengthAdjust="spacingAndGlyphs">2nd deep interaction</text>
<polyline points="39.90,755.60 40.15,754.55 40.41,755.75 40.66,758.30 40.92,756.94 41.17,759.48 41.43,758.37 41.68,756.58 41.94,759.04 42.19,758.50 42.45,755.10 42.70,758.56 42.96,756.69 43.21,759.03 43.47,760.88 43.72,758.58 43.98,759.43 44.23,762.70 44.49,761.39 44.74,759.85 45.00,755.97 45.25,760.36 45.51,759.32 45.76,757.94 46.02,758.65 46.27,759.97 46.53,755.70 46.78,756.45 47.04,762.70 47.29,757.25 47.55,758.12 47.80,757.21 48.06,759.07 48.31,757.53 48.57,755.22 48.82,755.68 49.08,755.51 49.33,757.05 49.59,757.33 49.84,757.29 50.10,761.60 50.35,754.50 50.61,758.76 50.86,758.58 51.11,759.01 51.37,758.27 51.62,762.70 51.88,758.78 52.13,761.91 52.39,761.33 52.64,762.70 52.90,762.70 53.15,758.03 53.41,760.29 53.66,759.48 53.92,759.62 54.17,761.70 54.43,760.75 54.68,761.91 54.94,759.92 55.19,762.70 55.45,760.10 55.70,757.37 55.96,756.75 56.21,756.84 56.47,758.15 56.72,761.26 56.98,757.20 57.23,757.97 57.49,758.45 57.74,761.51 58.00,758.10 58.25,755.91 58.51,757.27 58.76,759.26 59.02,757.59 59.27,758.68 59.53,758.26 59.78,756.82 60.04,757.82 60.29,758.34 60.55,757.64 60.80,760.12 61.06,760.45 61.31,757.29 61.56,759.51 61.82,757.04 62.07,762.03 62.33,755.61 62.58,758.28 62.84,754.53 63.09,762.70 63.35,761.46 63.60,754.94 63.86,757.51 64.11,757.15 64.37,757.48 64.62,757.36 64.88,756.52 65.13,759.71 65.39,757.90 65.64,754.77 65.90,757.07 66.15,758.71 66.41,757.16 66.66,755.12 66.92,757.68 67.17,757.59 67.43,756.14 67.68,755.35 67.94,754.01 68.19,757.35 68.45,756.31 68.70,754.82 68.96,760.97 69.21,756.65 69.47,755.95 69.72,757.06 69.98,758.64 70.23,755.59 70.49,754.18 70.74,756.94 71.00,757.74 71.25,757.14 71.51,753.39 71.76,754.01 72.02,756.50 72.27,758.86 72.52,759.19 72.78,757.17 73.03,757.13 73.29,755.87 73.54,758.78 73.80,756.63 74.05,755.22 74.31,759.85 74.56,751.45 74.82,755.03 75.07,755.10 75.33,758.92 75.58,758.30 75.84,753.97 76.09,754.21 76.35,761.17 76.60,753.59 76.86,754.45 77.11,754.64 77.37,758.26 77.62,755.35 77.88,757.13 78.13,754.64 78.39,751.92 78.64,754.41 78.90,753.59 79.15,756.35 79.41,757.56 79.66,755.04 79.92,752.55 80.17,751.31 80.43,754.20 80.68,753.21 80.94,754.25 81.19,756.70 81.45,752.57 81.70,751.69 81.96,752.96 82.21,752.41 82.47,756.10 82.72,752.43 82.97,749.89 83.23,753.10 83.48,752.05 83.74,752.62 83.99,755.41 84.25,753.62 84.50,756.04 84.76,748.42 85.01,754.39 85.27,757.37 85.52,758.56 85.78,752.43 86.03,754.53 86.29,755.24 86.54,759.20 86.80,757.28 87.05,758.31 87.31,753.10 87.56,756.17 87.82,750.66 88.07,753.29 88.33,754.71 88.58,750.87 88.84,757.77 89.09,754.76 89.35,753.51 89.60,750.06 89.86,749.70 90.11,750.88 90.37,755.03 90.62,752.06 90.88,752.92 91.13,747.79 91.39,751.23 91.64,748.93 91.90,746.14 92.15,750.08 92.41,748.33 92.66,750.49 92.92,749.46 93.17,749.34 93.43,749.28 93.68,749.04 93.93,749.89 94.19,745.00 94.44,750.18 94.70,748.17 94.95,749.19 95.21,753.21 95.46,746.44 95.72,748.13 95.97,751.64 96.23,750.41 96.48,752.40 96.74,748.52 96.99,745.95 97.25,746.80 97.50,752.23 97.76,753.26 98.01,748.64 98.27,746.32 98.52,749.89 98.78,747.91 99.03,753.20 99.29,750.61 99.54,749.57 99.80,751.45 100.05,751.11 100.31,749.24 100.56,752.05 100.82,752.88 101.07,749.26 101.33,750.37 101.58,753.04 101.84,750.07 102.09,752.22 102.35,749.74 102.60,751.16 102.86,751.80 103.11,752.87 103.37,750.86 103.62,751.44 103.88,747.39 104.13,751.53 104.38,754.34 104.64,747.17 104.89,755.90 105.15,748.15 105.40,753.51 105.66,748.81 105.91,752.18 106.17,750.70 106.42,751.83 106.68,752.18 106.93,750.93 107.19,753.59 107.44,751.44 107.70,754.94 107.95,754.41 108.21,754.14 108.46,753.48 108.72,750.92 108.97,755.46 109.23,755.72 109.48,756.48 109.74,755.17 109.99,753.34 110.25,756.31 110.50,755.56 110.76,756.39 111.01,755.17 111.27,759.81 111.52,754.51 111.78,754.02 112.03,757.94 112.29,756.53 112.54,758.51 112.80,754.68 113.05,755.67 113.31,751.09 113.56,757.85 113.82,759.47 114.07,758.84 114.33,760.47 114.58,757.31 114.84,757.04 115.09,755.68 115.34,756.71 115.60,758.38 115.85,754.71 116.11,756.16 116.36,755.56 116.62,759.73 116.87,758.96 117.13,758.49 117.38,757.90 117.64,761.62 117.89,754.40 118.15,757.32 118.40,755.03 118.66,755.12 118.91,753.53 119.17,755.41 119.42,755.76 119.68,758.06 119.93,756.17 120.19,752.60 120.44,759.82 120.70,757.39 120.95,755.12 121.21,752.09 121.46,757.62 121.72,756.05 121.97,754.57 122.23,748.14 122.48,756.32 122.74,754.62 122.99,752.52 123.25,755.38 123.50,752.88 123.76,752.62 124.01,754.05 124.27,752.35 124.52,749.25 124.78,752.43 125.03,753.39 125.29,753.87 125.54,751.61 125.79,749.70 126.05,751.44 126.30,750.96 126.56,745.90 126.81,752.98 127.07,753.52 127.32,750.54 127.58,751.45 127.83,749.66 128.09,748.13 128.34,749.87 128.60,750.91 128.85,749.28 129.11,749.23 129.36,750.32 129.62,751.22 129.87,748.47 130.13,750.18 130.38,752.28 130.64,748.67 130.89,751.44 131.15,751.72 131.40,749.45 131.66,752.72 131.91,751.68 132.17,753.62 132.42,755.01 132.68,751.41 132.93,748.99 133.19,754.36 133.44,750.30 133.70,750.74 133.95,750.06 134.21,755.73 134.46,755.09 134.72,750.48 134.97,754.13 135.23,754.10 135.48,752.66 135.74,752.93 135.99,755.44 136.25,754.79 136.50,753.07" fill="none" stroke="#999c9e" stroke-width="1.2" stroke-linejoin="round" />
<line x1="39.90" y1="754.60" x2="136.50" y2="754.60" stroke="#333" stroke-width="1.2" stroke-dasharray="3.6 2.3"/>
<line x1="88.20" y1="716.80" x2="88.20" y2="763.40" stroke="#555" stroke-width="1.3" stroke-dasharray="3.4 3.8"/>
<path d="M86.30,711.80 L90.10,711.80 L88.20,716.70 Z" fill="#111" stroke="none" stroke-width="1" />
<line x1="39.90" y1="717.90" x2="39.90" y2="763.40" stroke="#5a5b5d" stroke-width="0.9" />
<line x1="39.90" y1="719.40" x2="42.10" y2="719.40" stroke="#5a5b5d" stroke-width="0.8" />
<line x1="39.90" y1="731.13" x2="42.10" y2="731.13" stroke="#5a5b5d" stroke-width="0.8" />
<line x1="39.90" y1="742.87" x2="42.10" y2="742.87" stroke="#5a5b5d" stroke-width="0.8" />
<line x1="39.90" y1="754.60" x2="42.10" y2="754.60" stroke="#5a5b5d" stroke-width="0.8" />
<line x1="39.90" y1="763.40" x2="136.50" y2="763.40" stroke="#5a5b5d" stroke-width="0.9" />
<line x1="136.50" y1="763.40" x2="136.50" y2="761.20" stroke="#5a5b5d" stroke-width="0.8" />
<line x1="88.20" y1="763.40" x2="88.20" y2="761.20" stroke="#5a5b5d" stroke-width="0.8" />
<text x="35.60" y="723.50" font-size="10.5" fill="#231f20" stroke="#231f20" stroke-width="0.22" text-anchor="end" textLength="12.3" lengthAdjust="spacingAndGlyphs">15</text>
<text x="35.60" y="758.20" font-size="10.5" fill="#231f20" stroke="#231f20" stroke-width="0.22" text-anchor="end" textLength="6.2" lengthAdjust="spacingAndGlyphs">0</text>
<text x="39.90" y="776.20" font-size="10.5" fill="#231f20" stroke="#231f20" stroke-width="0.22" text-anchor="middle" textLength="12.3" lengthAdjust="spacingAndGlyphs">−3</text>
<text x="88.20" y="776.20" font-size="10.5" fill="#231f20" stroke="#231f20" stroke-width="0.22" text-anchor="middle" textLength="6.1" lengthAdjust="spacingAndGlyphs">0</text>
<text x="136.50" y="776.20" font-size="10.5" fill="#231f20" stroke="#231f20" stroke-width="0.22" text-anchor="middle" textLength="6.1" lengthAdjust="spacingAndGlyphs">3</text>
<text x="88.20" y="792.60" font-size="10.5" fill="#231f20" stroke="#231f20" stroke-width="0.22" text-anchor="middle" textLength="38.4" lengthAdjust="spacingAndGlyphs">Time (s)</text>
<text x="157.70" y="628.30" font-size="10.7" fill="#231f20" stroke="#231f20" stroke-width="0.22" textLength="101.69999999999999" lengthAdjust="spacingAndGlyphs">3rd deep interaction</text>
<polyline points="169.60,675.03 169.85,677.21 170.10,673.24 170.36,674.26 170.61,676.80 170.86,677.42 171.11,674.54 171.36,681.51 171.62,676.50 171.87,678.07 172.12,678.38 172.37,675.33 172.62,676.66 172.88,671.16 173.13,678.00 173.38,676.95 173.63,680.71 173.88,675.92 174.14,679.34 174.39,677.82 174.64,675.77 174.89,676.17 175.14,677.74 175.40,676.29 175.65,679.98 175.90,681.14 176.15,682.50 176.40,678.41 176.66,675.69 176.91,680.54 177.16,680.02 177.41,680.85 177.66,679.38 177.92,684.27 178.17,678.95 178.42,678.65 178.67,682.42 178.92,683.25 179.18,683.15 179.43,680.38 179.68,678.72 179.93,683.88 180.18,685.17 180.44,681.96 180.69,681.79 180.94,680.83 181.19,683.58 181.44,680.54 181.69,679.67 181.95,685.16 182.20,682.30 182.45,680.32 182.70,679.89 182.95,682.47 183.21,685.21 183.46,682.71 183.71,683.91 183.96,681.95 184.21,678.66 184.47,681.94 184.72,680.36 184.97,682.89 185.22,678.39 185.47,681.46 185.73,682.25 185.98,676.23 186.23,679.31 186.48,678.55 186.73,683.98 186.99,676.91 187.24,676.26 187.49,680.00 187.74,680.28 187.99,680.80 188.25,677.35 188.50,682.71 188.75,678.77 189.00,675.29 189.25,679.05 189.51,675.23 189.76,679.16 190.01,679.78 190.26,677.23 190.51,679.19 190.77,678.78 191.02,679.75 191.27,681.34 191.52,679.44 191.77,677.30 192.03,676.48 192.28,678.78 192.53,677.95 192.78,680.42 193.03,678.82 193.29,678.72 193.54,678.63 193.79,678.18 194.04,677.54 194.29,675.72 194.55,676.59 194.80,677.07 195.05,680.58 195.30,679.69 195.55,677.90 195.81,677.74 196.06,676.41 196.31,681.46 196.56,677.45 196.81,677.52 197.07,678.42 197.32,679.30 197.57,677.18 197.82,677.92 198.07,676.59 198.33,681.61 198.58,679.31 198.83,674.30 199.08,676.91 199.33,678.91 199.59,677.94 199.84,679.89 200.09,674.29 200.34,674.23 200.59,675.30 200.85,674.60 201.10,676.06 201.35,674.28 201.60,675.63 201.85,673.99 202.11,676.87 202.36,676.96 202.61,677.88 202.86,677.65 203.11,679.86 203.37,673.89 203.62,673.70 203.87,675.02 204.12,674.43 204.37,675.96 204.63,675.38 204.88,679.08 205.13,676.44 205.38,679.93 205.63,677.59 205.88,676.74 206.14,676.76 206.39,678.24 206.64,673.42 206.89,673.98 207.14,677.02 207.40,678.40 207.65,676.86 207.90,673.92 208.15,679.66 208.40,674.10 208.66,675.96 208.91,676.46 209.16,673.54 209.41,675.52 209.66,676.17 209.92,672.83 210.17,678.47 210.42,671.85 210.67,676.74 210.92,676.61 211.18,671.58 211.43,667.94 211.68,672.08 211.93,676.18 212.18,678.80 212.44,673.76 212.69,674.27 212.94,675.63 213.19,674.87 213.44,676.15 213.70,673.23 213.95,675.29 214.20,675.71 214.45,679.92 214.70,675.11 214.96,678.75 215.21,674.47 215.46,676.21 215.71,680.43 215.96,677.16 216.22,679.07 216.47,675.69 216.72,676.08 216.97,675.01 217.22,678.90 217.48,676.21 217.73,679.60 217.98,675.73 218.23,676.46 218.48,675.10 218.74,675.20 218.99,672.69 219.24,675.06 219.49,674.32 219.74,670.70 220.00,673.28 220.25,673.81 220.50,674.15 220.75,671.88 221.00,671.57 221.26,669.79 221.51,671.03 221.76,668.88 222.01,670.40 222.26,666.62 222.52,670.28 222.77,669.13 223.02,670.05 223.27,673.84 223.52,669.39 223.78,672.67 224.03,670.27 224.28,676.53 224.53,676.56 224.78,677.18 225.04,677.10 225.29,674.58 225.54,673.97 225.79,676.00 226.04,674.80 226.30,675.59 226.55,672.80 226.80,672.95 227.05,673.89 227.30,673.28 227.56,671.21 227.81,673.47 228.06,677.97 228.31,675.41 228.56,675.68 228.82,673.52 229.07,674.30 229.32,673.62 229.57,678.60 229.82,672.73 230.07,675.97 230.33,674.23 230.58,675.73 230.83,679.03 231.08,679.44 231.33,677.09 231.59,676.52 231.84,681.22 232.09,682.23 232.34,684.62 232.59,682.59 232.85,682.15 233.10,681.18 233.35,679.30 233.60,681.46 233.85,682.68 234.11,681.13 234.36,680.46 234.61,679.94 234.86,679.91 235.11,680.48 235.37,678.95 235.62,680.60 235.87,682.06 236.12,680.24 236.37,676.06 236.63,681.42 236.88,674.73 237.13,680.66 237.38,678.13 237.63,682.78 237.89,679.66 238.14,676.49 238.39,681.76 238.64,680.83 238.89,678.70 239.15,678.61 239.40,682.30 239.65,681.83 239.90,678.68 240.15,678.64 240.41,677.73 240.66,679.53 240.91,677.91 241.16,676.71 241.41,681.60 241.67,677.06 241.92,677.56 242.17,676.48 242.42,679.83 242.67,679.09 242.93,678.84 243.18,679.95 243.43,676.93 243.68,678.48 243.93,680.93 244.19,678.37 244.44,681.02 244.69,682.01 244.94,680.93 245.19,678.78 245.45,678.56 245.70,678.99 245.95,677.67 246.20,674.87 246.45,680.98 246.71,677.83 246.96,678.12 247.21,681.04 247.46,679.64 247.71,678.20 247.97,678.53 248.22,680.24 248.47,677.01 248.72,678.05 248.97,677.22 249.23,675.31 249.48,681.07 249.73,676.58 249.98,677.63 250.23,680.36 250.49,678.76 250.74,679.50 250.99,681.04 251.24,677.12 251.49,680.30 251.75,682.86 252.00,677.17 252.25,679.82 252.50,678.14 252.75,678.50 253.01,679.55 253.26,679.73 253.51,684.05 253.76,679.84 254.01,681.33 254.26,678.07 254.52,680.67 254.77,680.45 255.02,678.97 255.27,681.50 255.52,680.65 255.78,680.23 256.03,678.48 256.28,682.22 256.53,677.82 256.78,679.66 257.04,680.41 257.29,678.77 257.54,677.49 257.79,677.27 258.04,681.71 258.30,677.00 258.55,679.67 258.80,677.19 259.05,681.97 259.30,680.26 259.56,680.19 259.81,682.57 260.06,681.00 260.31,678.35 260.56,677.98 260.82,678.95 261.07,679.76 261.32,681.27 261.57,676.33 261.82,683.18 262.08,682.96 262.33,682.16 262.58,680.32 262.83,681.65 263.08,679.25 263.34,683.99 263.59,679.26 263.84,677.46 264.09,679.29 264.34,681.68 264.60,682.35 264.85,679.03 265.10,684.66" fill="none" stroke="#999c9e" stroke-width="1.2" stroke-linejoin="round" />
<line x1="169.60" y1="678.50" x2="265.10" y2="678.50" stroke="#333" stroke-width="1.2" stroke-dasharray="3.6 2.3"/>
<line x1="217.35" y1="641.70" x2="217.35" y2="687.00" stroke="#555" stroke-width="1.3" stroke-dasharray="3.4 3.8"/>
<path d="M215.45,636.70 L219.25,636.70 L217.35,641.60 Z" fill="#111" stroke="none" stroke-width="1" />
<line x1="169.60" y1="642.80" x2="169.60" y2="687.00" stroke="#5a5b5d" stroke-width="0.9" />
<line x1="169.60" y1="644.30" x2="171.80" y2="644.30" stroke="#5a5b5d" stroke-width="0.8" />
<line x1="169.60" y1="655.70" x2="171.80" y2="655.70" stroke="#5a5b5d" stroke-width="0.8" />
<line x1="169.60" y1="667.10" x2="171.80" y2="667.10" stroke="#5a5b5d" stroke-width="0.8" />
<line x1="169.60" y1="678.50" x2="171.80" y2="678.50" stroke="#5a5b5d" stroke-width="0.8" />
<line x1="169.60" y1="687.00" x2="265.10" y2="687.00" stroke="#5a5b5d" stroke-width="0.9" />
<line x1="265.10" y1="687.00" x2="265.10" y2="684.80" stroke="#5a5b5d" stroke-width="0.8" />
<line x1="217.35" y1="687.00" x2="217.35" y2="684.80" stroke="#5a5b5d" stroke-width="0.8" />
<text x="165.30" y="648.40" font-size="10.5" fill="#231f20" stroke="#231f20" stroke-width="0.22" text-anchor="end" textLength="12.3" lengthAdjust="spacingAndGlyphs">15</text>
<text x="165.30" y="682.10" font-size="10.5" fill="#231f20" stroke="#231f20" stroke-width="0.22" text-anchor="end" textLength="6.2" lengthAdjust="spacingAndGlyphs">0</text>
<text x="157.70" y="706.40" font-size="10.7" fill="#231f20" stroke="#231f20" stroke-width="0.22" textLength="100.90000000000003" lengthAdjust="spacingAndGlyphs">4th deep interaction</text>
<polyline points="169.60,752.82 169.85,754.71 170.10,751.67 170.36,747.71 170.61,752.42 170.86,749.44 171.11,753.91 171.36,752.91 171.62,753.04 171.87,749.82 172.12,753.83 172.37,753.50 172.62,752.20 172.88,749.15 173.13,752.26 173.38,748.85 173.63,751.74 173.88,753.15 174.14,750.38 174.39,753.98 174.64,754.74 174.89,752.75 175.14,756.19 175.40,755.55 175.65,754.86 175.90,753.23 176.15,751.27 176.40,751.14 176.66,753.89 176.91,752.85 177.16,753.77 177.41,755.85 177.66,751.97 177.92,754.10 178.17,750.91 178.42,753.37 178.67,754.14 178.92,751.24 179.18,752.85 179.43,754.23 179.68,749.28 179.93,750.56 180.18,750.39 180.44,750.70 180.69,751.82 180.94,756.21 181.19,751.47 181.44,751.05 181.69,749.12 181.95,752.46 182.20,748.66 182.45,749.38 182.70,746.28 182.95,750.57 183.21,748.89 183.46,748.24 183.71,747.36 183.96,745.79 184.21,747.48 184.47,751.35 184.72,745.17 184.97,752.62 185.22,747.30 185.47,745.97 185.73,750.08 185.98,748.82 186.23,748.92 186.48,751.08 186.73,748.09 186.99,750.84 187.24,748.26 187.49,747.73 187.74,746.78 187.99,746.28 188.25,748.22 188.50,748.12 188.75,749.61 189.00,749.33 189.25,747.44 189.51,747.69 189.76,748.47 190.01,749.76 190.26,747.95 190.51,752.66 190.77,751.75 191.02,750.53 191.27,748.99 191.52,754.12 191.77,754.09 192.03,754.69 192.28,751.05 192.53,751.21 192.78,749.93 193.03,748.51 193.29,755.67 193.54,753.68 193.79,754.51 194.04,755.69 194.29,753.47 194.55,754.75 194.80,753.42 195.05,754.52 195.30,756.83 195.55,752.76 195.81,752.90 196.06,755.02 196.31,758.62 196.56,759.02 196.81,757.19 197.07,753.70 197.32,753.19 197.57,754.48 197.82,754.57 198.07,759.97 198.33,754.14 198.58,756.37 198.83,755.61 199.08,757.10 199.33,759.29 199.59,753.75 199.84,754.62 200.09,757.27 200.34,757.97 200.59,755.81 200.85,752.47 201.10,752.85 201.35,753.56 201.60,751.52 201.85,752.40 202.11,754.74 202.36,751.20 202.61,752.36 202.86,753.63 203.11,749.34 203.37,750.50 203.62,754.01 203.87,749.23 204.12,750.10 204.37,750.95 204.63,750.86 204.88,751.73 205.13,752.33 205.38,748.50 205.63,747.81 205.88,749.17 206.14,747.68 206.39,748.68 206.64,748.34 206.89,746.30 207.14,746.05 207.40,744.28 207.65,748.27 207.90,746.77 208.15,747.98 208.40,747.35 208.66,745.41 208.91,747.30 209.16,749.85 209.41,749.36 209.66,749.78 209.92,749.27 210.17,750.25 210.42,750.06 210.67,749.56 210.92,748.72 211.18,751.25 211.43,749.56 211.68,749.75 211.93,748.24 212.18,749.54 212.44,749.11 212.69,749.71 212.94,748.07 213.19,750.73 213.44,753.58 213.70,749.98 213.95,752.77 214.20,755.37 214.45,750.06 214.70,751.20 214.96,750.85 215.21,750.43 215.46,751.81 215.71,749.40 215.96,751.54 216.22,752.10 216.47,751.01 216.72,754.73 216.97,749.21 217.22,752.75 217.48,748.60 217.73,749.24 217.98,748.40 218.23,749.75 218.48,744.73 218.74,752.22 218.99,748.50 219.24,750.10 219.49,751.57 219.74,745.61 220.00,748.18 220.25,743.79 220.50,747.16 220.75,747.80 221.00,747.74 221.26,751.51 221.51,751.64 221.76,746.26 222.01,747.56 222.26,750.73 222.52,749.12 222.77,749.09 223.02,747.06 223.27,748.88 223.52,751.02 223.78,748.10 224.03,750.85 224.28,748.73 224.53,751.10 224.78,756.27 225.04,746.78 225.29,751.80 225.54,747.91 225.79,748.59 226.04,750.85 226.30,752.06 226.55,745.87 226.80,749.18 227.05,747.03 227.30,748.86 227.56,747.60 227.81,748.97 228.06,751.94 228.31,750.88 228.56,748.53 228.82,751.61 229.07,749.87 229.32,749.35 229.57,746.89 229.82,745.82 230.07,753.10 230.33,748.12 230.58,745.31 230.83,751.57 231.08,750.96 231.33,746.42 231.59,748.37 231.84,749.77 232.09,748.21 232.34,747.12 232.59,748.33 232.85,747.69 233.10,747.98 233.35,747.54 233.60,747.86 233.85,747.43 234.11,748.57 234.36,746.03 234.61,748.84 234.86,749.23 235.11,751.08 235.37,749.70 235.62,747.91 235.87,748.57 236.12,747.02 236.37,750.53 236.63,749.48 236.88,752.15 237.13,748.76 237.38,746.32 237.63,747.30 237.89,749.03 238.14,747.28 238.39,747.69 238.64,750.02 238.89,750.26 239.15,750.09 239.40,747.37 239.65,747.11 239.90,747.47 240.15,748.78 240.41,744.50 240.66,748.66 240.91,747.29 241.16,748.08 241.41,746.56 241.67,752.15 241.92,747.97 242.17,749.56 242.42,749.54 242.67,751.63 242.93,751.18 243.18,747.51 243.43,748.38 243.68,753.13 243.93,749.98 244.19,751.62 244.44,748.71 244.69,750.13 244.94,749.69 245.19,751.51 245.45,751.49 245.70,753.05 245.95,754.93 246.20,753.26 246.45,749.88 246.71,749.78 246.96,754.15 247.21,754.07 247.46,753.83 247.71,753.86 247.97,754.61 248.22,753.61 248.47,750.92 248.72,750.73 248.97,748.78 249.23,752.43 249.48,756.34 249.73,753.16 249.98,754.13 250.23,752.66 250.49,753.40 250.74,749.98 250.99,753.53 251.24,751.82 251.49,748.23 251.75,751.78 252.00,755.00 252.25,749.90 252.50,750.71 252.75,750.52 253.01,750.19 253.26,753.40 253.51,753.45 253.76,751.14 254.01,754.76 254.26,753.02 254.52,749.04 254.77,753.80 255.02,750.55 255.27,749.11 255.52,751.39 255.78,752.32 256.03,749.00 256.28,754.46 256.53,748.62 256.78,753.84 257.04,752.17 257.29,754.56 257.54,754.68 257.79,750.75 258.04,752.72 258.30,752.00 258.55,755.76 258.80,754.05 259.05,755.96 259.30,753.72 259.56,752.91 259.81,752.99 260.06,753.12 260.31,755.60 260.56,753.33 260.82,755.49 261.07,752.10 261.32,755.28 261.57,752.76 261.82,756.02 262.08,754.18 262.33,755.22 262.58,758.77 262.83,754.72 263.08,758.05 263.34,759.96 263.59,756.32 263.84,754.54 264.09,755.51 264.34,758.83 264.60,760.73 264.85,761.90 265.10,758.99" fill="none" stroke="#999c9e" stroke-width="1.2" stroke-linejoin="round" />
<line x1="169.60" y1="753.50" x2="265.10" y2="753.50" stroke="#333" stroke-width="1.2" stroke-dasharray="3.6 2.3"/>
<line x1="217.35" y1="716.00" x2="217.35" y2="762.60" stroke="#555" stroke-width="1.3" stroke-dasharray="3.4 3.8"/>
<path d="M215.45,711.00 L219.25,711.00 L217.35,715.90 Z" fill="#111" stroke="none" stroke-width="1" />
<line x1="169.60" y1="717.10" x2="169.60" y2="762.60" stroke="#5a5b5d" stroke-width="0.9" />
<line x1="169.60" y1="718.60" x2="171.80" y2="718.60" stroke="#5a5b5d" stroke-width="0.8" />
<line x1="169.60" y1="730.23" x2="171.80" y2="730.23" stroke="#5a5b5d" stroke-width="0.8" />
<line x1="169.60" y1="741.87" x2="171.80" y2="741.87" stroke="#5a5b5d" stroke-width="0.8" />
<line x1="169.60" y1="753.50" x2="171.80" y2="753.50" stroke="#5a5b5d" stroke-width="0.8" />
<line x1="169.60" y1="762.60" x2="265.10" y2="762.60" stroke="#5a5b5d" stroke-width="0.9" />
<line x1="265.10" y1="762.60" x2="265.10" y2="760.40" stroke="#5a5b5d" stroke-width="0.8" />
<line x1="217.35" y1="762.60" x2="217.35" y2="760.40" stroke="#5a5b5d" stroke-width="0.8" />
<text x="165.30" y="722.70" font-size="10.5" fill="#231f20" stroke="#231f20" stroke-width="0.22" text-anchor="end" textLength="12.3" lengthAdjust="spacingAndGlyphs">15</text>
<text x="165.30" y="757.10" font-size="10.5" fill="#231f20" stroke="#231f20" stroke-width="0.22" text-anchor="end" textLength="6.2" lengthAdjust="spacingAndGlyphs">0</text>
<text x="169.60" y="776.20" font-size="10.5" fill="#231f20" stroke="#231f20" stroke-width="0.22" text-anchor="middle" textLength="12.3" lengthAdjust="spacingAndGlyphs">−3</text>
<text x="217.35" y="776.20" font-size="10.5" fill="#231f20" stroke="#231f20" stroke-width="0.22" text-anchor="middle" textLength="6.1" lengthAdjust="spacingAndGlyphs">0</text>
<text x="265.10" y="776.20" font-size="10.5" fill="#231f20" stroke="#231f20" stroke-width="0.22" text-anchor="middle" textLength="6.1" lengthAdjust="spacingAndGlyphs">3</text>
<text x="217.35" y="792.60" font-size="10.5" fill="#231f20" stroke="#231f20" stroke-width="0.22" text-anchor="middle" textLength="38.4" lengthAdjust="spacingAndGlyphs">Time (s)</text>
<text x="14.20" y="784.20" font-size="10.5" fill="#231f20" stroke="#231f20" stroke-width="0.22" textLength="160.6" lengthAdjust="spacingAndGlyphs" transform="rotate(-90 14.20 784.20)">Calcium activity (<tspan font-style="italic">z</tspan>-scored Δ<tspan font-style="italic">F</tspan>/<tspan font-style="italic">F</tspan>)</text>
<text x="294.70" y="486.40" font-size="12.5" fill="#000" stroke="#000" stroke-width="0.22" font-weight="bold">k</text>
<polygon points="328.80,570.08 329.28,570.18 329.76,570.32 330.24,569.76 330.73,569.62 331.21,570.17 331.69,570.28 332.17,570.45 332.65,570.31 333.13,570.29 333.61,570.48 334.09,570.49 334.58,569.84 335.06,569.44 335.54,568.81 336.02,569.74 336.50,570.04 336.98,570.94 337.46,571.23 337.95,571.54 338.43,570.93 338.91,570.81 339.39,570.68 339.87,571.08 340.35,570.51 340.83,570.36 341.31,569.94 341.80,570.58 342.28,570.24 342.76,570.48 343.24,569.90 343.72,570.54 344.20,570.60 344.68,570.84 345.17,570.69 345.65,570.44 346.13,570.43 346.61,569.99 347.09,570.43 347.57,570.39 348.05,571.12 348.53,570.66 349.02,571.25 349.50,570.99 349.98,571.23 350.46,570.54 350.94,570.25 351.42,571.06 351.90,571.76 352.39,572.15 352.87,571.44 353.35,571.50 353.83,571.53 354.31,571.28 354.79,570.65 355.27,570.05 355.75,569.98 356.24,570.51 356.72,571.04 357.20,571.09 357.68,570.32 358.16,570.07 358.64,569.65 359.12,569.99 359.61,569.90 360.09,570.20 360.57,569.75 361.05,569.70 361.53,569.66 362.01,570.08 362.49,570.06 362.97,569.32 363.46,569.32 363.94,568.32 364.42,569.10 364.90,568.04 365.38,568.78 365.86,568.90 366.34,569.37 366.83,569.11 367.31,568.49 367.79,568.79 368.27,569.33 368.75,569.46 369.23,569.16 369.71,568.77 370.19,568.63 370.68,567.76 371.16,566.81 371.64,566.53 372.12,566.43 372.60,566.02 373.08,565.41 373.56,566.64 374.05,567.71 374.53,568.13 375.01,566.86 375.49,566.99 375.97,566.06 376.45,566.68 376.93,566.47 377.42,568.29 377.90,567.50 378.38,566.52 378.86,565.08 379.34,565.29 379.82,565.50 380.30,565.85 380.78,565.12 381.27,564.95 381.75,564.50 382.23,566.07 382.71,567.15 383.19,567.11 383.67,566.06 384.15,565.05 384.64,565.62 385.12,565.76 385.60,566.20 386.08,565.86 386.56,566.76 387.04,566.43 387.52,567.02 388.00,566.56 388.49,566.68 388.97,566.39 389.45,565.92 389.93,564.74 390.41,565.12 390.89,565.30 391.37,566.02 391.86,564.94 392.34,563.73 392.82,562.78 393.30,562.18 393.78,562.72 394.26,561.36 394.74,561.11 395.22,560.06 395.71,561.43 396.19,561.91 396.67,562.24 397.15,561.98 397.63,560.74 398.11,559.29 398.59,559.81 399.08,559.04 399.56,560.11 400.04,557.82 400.52,555.68 401.00,555.39 401.48,555.40 401.96,556.31 402.44,555.02 402.93,553.59 403.41,555.46 403.89,555.08 404.37,555.37 404.85,551.95 405.33,551.30 405.81,552.59 406.30,552.61 406.78,549.62 407.26,546.79 407.74,547.07 408.22,549.05 408.70,545.97 409.18,544.10 409.66,543.42 410.15,546.86 410.63,544.92 411.11,541.29 411.59,539.11 412.07,540.22 412.55,540.21 413.03,538.76 413.52,537.55 414.00,538.97 414.48,538.96 414.96,536.30 415.44,535.77 415.92,536.68 416.40,538.99 416.88,537.62 417.37,534.26 417.85,531.65 418.33,530.73 418.81,532.23 419.29,531.91 419.77,530.49 420.25,527.90 420.74,526.49 421.22,526.03 421.70,523.12 422.18,522.71 422.66,518.41 423.14,518.70 423.62,516.82 424.10,518.93 424.59,518.39 425.07,515.67 425.55,511.44 426.03,510.97 426.51,515.08 426.99,516.13 427.47,517.01 427.96,515.15 428.44,516.93 428.92,514.91 429.40,515.74 429.88,515.03 430.36,516.92 430.84,517.46 431.32,517.33 431.81,517.16 432.29,516.38 432.77,517.67 433.25,517.74 433.73,519.31 434.21,518.85 434.69,519.76 435.18,521.81 435.66,523.62 436.14,523.97 436.62,519.17 437.10,516.78 437.58,517.16 438.06,518.30 438.54,520.68 439.03,519.16 439.51,520.83 439.99,520.97 440.47,523.85 440.95,523.87 441.43,522.26 441.91,520.96 442.40,517.73 442.88,519.50 443.36,518.48 443.84,521.02 444.32,520.39 444.80,521.23 445.28,522.28 445.76,521.18 446.25,519.66 446.73,518.67 447.21,520.18 447.69,522.60 448.17,522.88 448.65,524.25 449.13,524.12 449.62,522.51 450.10,522.12 450.58,522.24 451.06,523.67 451.54,522.71 452.02,522.89 452.50,523.69 452.98,524.65 453.47,524.73 453.95,526.37 454.43,526.10 454.91,526.17 455.39,525.33 455.87,525.54 456.35,525.72 456.84,526.24 457.32,526.61 457.80,527.30 458.28,529.25 458.76,530.19 459.24,530.09 459.72,527.86 460.21,526.80 460.69,525.22 461.17,523.89 461.65,522.78 462.13,524.33 462.61,524.89 463.09,528.76 463.57,529.92 464.06,529.64 464.54,527.98 465.02,527.28 465.50,528.75 465.98,528.39 466.46,528.81 466.94,529.51 467.43,531.63 467.91,531.32 468.39,530.72 468.87,528.78 469.35,529.21 469.83,530.86 470.31,532.28 470.79,533.28 471.28,534.15 471.76,533.44 472.24,533.38 472.72,530.00 473.20,530.29 473.68,528.47 474.16,532.14 474.65,532.68 475.13,533.30 475.61,531.22 476.09,530.84 476.57,531.28 477.05,532.91 477.53,534.22 478.01,535.31 478.50,535.76 478.98,533.83 479.46,534.23 479.94,533.67 480.42,534.64 480.90,531.87 481.38,530.48 481.87,529.61 482.35,530.88 482.83,529.45 483.31,529.19 483.79,530.47 484.27,532.93 484.75,533.16 485.23,531.37 485.72,530.56 486.20,530.43 486.68,529.48 487.16,529.47 487.64,528.49 488.12,528.43 488.60,530.80 489.09,532.74 489.57,533.37 490.05,530.68 490.53,530.08 491.01,529.97 491.49,529.15 491.97,529.89 492.45,533.17 492.94,533.43 493.42,531.83 493.90,529.07 494.38,529.35 494.86,529.72 495.34,529.82 495.82,530.91 496.31,531.48 496.79,531.49 497.27,531.56 497.75,531.80 498.23,531.42 498.71,529.45 499.19,529.60 499.67,529.44 500.16,532.08 500.64,533.65 501.12,535.06 501.60,535.73 501.60,559.36 501.12,558.38 500.64,556.23 500.16,557.14 499.67,557.00 499.19,556.69 498.71,553.99 498.23,551.38 497.75,550.65 497.27,552.19 496.79,553.90 496.31,554.53 495.82,554.67 495.34,553.87 494.86,553.46 494.38,552.86 493.90,553.95 493.42,553.94 492.94,553.67 492.45,551.81 491.97,552.69 491.49,552.08 491.01,553.52 490.53,552.65 490.05,553.53 489.57,553.52 489.09,553.45 488.60,552.17 488.12,552.16 487.64,551.84 487.16,551.96 486.68,549.71 486.20,550.21 485.72,550.87 485.23,550.71 484.75,552.62 484.27,552.46 483.79,554.73 483.31,553.51 482.83,554.40 482.35,553.02 481.87,555.04 481.38,554.81 480.90,556.69 480.42,553.52 479.94,553.72 479.46,553.57 478.98,554.20 478.50,557.15 478.01,557.19 477.53,557.19 477.05,554.45 476.57,554.72 476.09,554.80 475.61,554.95 475.13,555.07 474.65,555.51 474.16,556.79 473.68,556.92 473.20,558.46 472.72,558.19 472.24,557.83 471.76,555.69 471.28,556.18 470.79,556.74 470.31,557.64 469.83,556.14 469.35,555.72 468.87,554.47 468.39,554.18 467.91,552.69 467.43,552.72 466.94,552.34 466.46,550.62 465.98,549.68 465.50,550.60 465.02,552.16 464.54,553.37 464.06,550.87 463.57,550.85 463.09,550.08 462.61,551.53 462.13,551.18 461.65,552.35 461.17,551.36 460.69,551.26 460.21,550.23 459.72,549.88 459.24,549.36 458.76,549.38 458.28,548.80 457.80,547.58 457.32,545.62 456.84,546.77 456.35,547.53 455.87,547.65 455.39,547.69 454.91,547.64 454.43,548.83 453.95,547.02 453.47,547.69 452.98,547.11 452.50,549.49 452.02,548.57 451.54,546.30 451.06,542.62 450.58,540.97 450.10,540.20 449.62,541.50 449.13,541.84 448.65,541.51 448.17,539.83 447.69,538.71 447.21,541.23 446.73,540.93 446.25,544.46 445.76,543.75 445.28,545.64 444.80,543.45 444.32,543.70 443.84,542.46 443.36,544.07 442.88,545.20 442.40,546.21 441.91,545.80 441.43,545.41 440.95,544.12 440.47,544.41 439.99,543.91 439.51,545.18 439.03,543.67 438.54,543.54 438.06,542.16 437.58,542.32 437.10,541.39 436.62,541.60 436.14,540.84 435.66,540.86 435.18,540.35 434.69,540.58 434.21,541.90 433.73,543.06 433.25,543.23 432.77,541.00 432.29,538.93 431.81,540.34 431.32,542.09 430.84,542.05 430.36,540.62 429.88,540.17 429.40,540.37 428.92,541.24 428.44,538.38 427.96,538.67 427.47,537.02 426.99,537.92 426.51,535.89 426.03,534.85 425.55,534.76 425.07,536.87 424.59,539.81 424.10,540.78 423.62,543.53 423.14,543.03 422.66,546.34 422.18,548.44 421.70,550.78 421.22,550.19 420.74,549.28 420.25,551.13 419.77,553.95 419.29,556.24 418.81,554.91 418.33,556.73 417.85,556.38 417.37,559.58 416.88,561.79 416.40,564.70 415.92,565.84 415.44,563.16 414.96,562.40 414.48,561.31 414.00,561.18 413.52,560.69 413.03,559.68 412.55,558.66 412.07,560.05 411.59,560.96 411.11,562.99 410.63,562.33 410.15,561.61 409.66,560.50 409.18,561.13 408.70,561.54 408.22,562.84 407.74,561.86 407.26,563.39 406.78,564.66 406.30,566.53 405.81,567.57 405.33,565.81 404.85,565.00 404.37,566.09 403.89,567.69 403.41,569.38 402.93,567.06 402.44,564.68 401.96,561.90 401.48,563.00 401.00,567.21 400.52,568.69 400.04,566.40 399.56,564.42 399.08,562.61 398.59,563.28 398.11,564.23 397.63,564.35 397.15,566.22 396.67,568.07 396.19,569.52 395.71,569.39 395.22,568.20 394.74,569.45 394.26,568.51 393.78,567.81 393.30,567.66 392.82,568.65 392.34,568.67 391.86,569.23 391.37,569.99 390.89,571.43 390.41,572.25 389.93,572.63 389.45,573.08 388.97,571.83 388.49,571.48 388.00,571.00 387.52,570.69 387.04,570.39 386.56,570.26 386.08,570.78 385.60,571.63 385.12,571.32 384.64,571.24 384.15,570.13 383.67,570.17 383.19,570.37 382.71,570.70 382.23,571.45 381.75,570.87 381.27,570.11 380.78,569.14 380.30,569.84 379.82,570.77 379.34,570.53 378.86,570.20 378.38,570.05 377.90,570.83 377.42,571.26 376.93,571.74 376.45,571.25 375.97,571.30 375.49,570.98 375.01,571.58 374.53,571.88 374.05,572.08 373.56,572.44 373.08,571.98 372.60,571.97 372.12,571.33 371.64,570.79 371.16,571.26 370.68,570.63 370.19,570.93 369.71,570.15 369.23,571.85 368.75,572.51 368.27,573.18 367.79,572.03 367.31,571.24 366.83,570.60 366.34,570.49 365.86,571.34 365.38,572.19 364.90,572.67 364.42,572.16 363.94,572.18 363.46,572.97 362.97,573.56 362.49,573.42 362.01,573.03 361.53,572.73 361.05,572.80 360.57,572.89 360.09,573.65 359.61,574.58 359.12,574.36 358.64,574.28 358.16,573.40 357.68,573.40 357.20,573.59 356.72,574.38 356.24,574.87 355.75,574.48 355.27,573.88 354.79,574.15 354.31,574.73 353.83,575.09 353.35,575.24 352.87,574.89 352.39,574.03 351.90,573.89 351.42,573.99 350.94,575.03 350.46,575.28 349.98,574.41 349.50,574.76 349.02,573.80 348.53,574.12 348.05,573.25 347.57,573.54 347.09,573.35 346.61,573.51 346.13,573.44 345.65,574.26 345.17,574.22 344.68,574.17 344.20,573.75 343.72,572.93 343.24,573.39 342.76,573.26 342.28,574.48 341.80,574.62 341.31,574.70 340.83,574.03 340.35,573.58 339.87,574.32 339.39,574.47 338.91,574.31 338.43,573.88 337.95,573.57 337.46,573.89 336.98,572.92 336.50,573.11 336.02,572.16 335.54,572.65 335.06,572.74 334.58,573.40 334.09,573.67 333.61,573.41 333.13,573.20 332.65,573.05 332.17,573.03 331.69,572.47 331.21,572.23 330.73,572.86 330.24,573.37 329.76,573.75 329.28,573.42 328.80,573.53" fill="#a9bfe4" stroke="none" />
<polyline points="328.80,571.49 329.34,571.73 329.88,572.27 330.43,572.03 330.97,571.52 331.51,572.26 332.05,572.84 332.59,571.84 333.13,570.57 333.68,571.06 334.22,571.95 334.76,571.78 335.30,573.82 335.84,574.01 336.38,570.84 336.93,569.90 337.47,570.89 338.01,571.56 338.55,572.21 339.09,572.80 339.63,571.75 340.18,571.66 340.72,570.71 341.26,569.42 341.80,570.08 342.34,570.51 342.88,571.12 343.43,571.25 343.97,571.99 344.51,571.62 345.05,570.06 345.59,569.96 346.13,570.44 346.68,569.97 347.22,569.81 347.76,570.61 348.30,570.94 348.84,571.32 349.38,571.92 349.93,571.95 350.47,571.20 351.01,570.99 351.55,571.41 352.09,572.11 352.63,571.98 353.18,571.34 353.72,570.22 354.26,570.57 354.80,570.94 355.34,570.54 355.88,570.94 356.43,571.28 356.97,569.82 357.51,569.13 358.05,570.42 358.59,570.13 359.13,570.68 359.68,571.61 360.22,570.87 360.76,571.04 361.30,571.21 361.84,569.69 362.38,570.33 362.93,571.16 363.47,570.03 364.01,570.88 364.55,571.16 365.09,570.29 365.64,571.34 366.18,571.38 366.72,570.09 367.26,569.50 367.80,570.02 368.34,569.80 368.89,569.55 369.43,570.33 369.97,570.93 370.51,571.21 371.05,570.43 371.59,570.16 372.14,569.73 372.68,569.59 373.22,570.31 373.76,569.13 374.30,569.39 374.84,570.47 375.39,569.37 375.93,569.46 376.47,569.82 377.01,569.52 377.55,570.97 378.09,570.50 378.64,569.78 379.18,570.68 379.72,569.51 380.26,569.62 380.80,570.56 381.34,570.15 381.89,570.52 382.43,570.45 382.97,570.02 383.51,570.62 384.05,571.13 384.59,570.61 385.14,571.34 385.68,572.01 386.22,571.26 386.76,570.57 387.30,568.71 387.84,568.68 388.39,569.29 388.93,570.28 389.47,570.26 390.01,570.14 390.55,571.21 391.09,570.72 391.64,571.08 392.18,570.52 392.72,569.13 393.26,569.05 393.80,570.45 394.34,571.94 394.89,571.31 395.43,569.16 395.97,570.01 396.51,571.61 397.05,569.57 397.59,568.45 398.14,568.76 398.68,569.10 399.22,569.41 399.76,569.34 400.30,569.64 400.85,570.97 401.39,570.86 401.93,568.81 402.47,569.08 403.01,569.20 403.55,568.63 404.10,569.32 404.64,568.52 405.18,568.15 405.72,569.46 406.26,570.04 406.80,568.47 407.35,567.35 407.89,568.43 408.43,568.17 408.97,567.59 409.51,566.87 410.05,567.14 410.60,568.75 411.14,569.00 411.68,568.71 412.22,568.22 412.76,568.03 413.30,567.88 413.85,567.98 414.39,567.08 414.93,565.69 415.47,566.68 416.01,566.34 416.55,564.92 417.10,564.84 417.64,565.62 418.18,566.80 418.72,565.54 419.26,566.06 419.80,566.84 420.35,565.68 420.89,565.64 421.43,565.66 421.97,565.27 422.51,564.76 423.05,564.33 423.60,564.59 424.14,564.77 424.68,564.02 425.22,564.02 425.76,565.03 426.30,565.55 426.85,564.78 427.39,564.67 427.93,565.22 428.47,565.28 429.01,564.80 429.55,564.58 430.10,563.17 430.64,562.67 431.18,564.36 431.72,564.85 432.26,565.66 432.81,566.22 433.35,565.54 433.89,564.88 434.43,565.48 434.97,566.70 435.51,566.63 436.06,566.64 436.60,567.10 437.14,566.73 437.68,565.87 438.22,566.60 438.76,566.45 439.31,566.23 439.85,568.23 440.39,568.03 440.93,567.14 441.47,567.22 442.01,568.38 442.56,568.43 443.10,567.08 443.64,568.19 444.18,569.41 444.72,568.28 445.26,566.45 445.81,566.09 446.35,568.22 446.89,568.24 447.43,568.16 447.97,569.27 448.51,568.82 449.06,568.04 449.60,567.22 450.14,568.06 450.68,568.56 451.22,569.10 451.76,569.32 452.31,568.00 452.85,568.04 453.39,569.24 453.93,568.64 454.47,568.59 455.01,569.28 455.56,568.92 456.10,568.95 456.64,569.50 457.18,569.73 457.72,569.67 458.26,569.79 458.81,570.93 459.35,571.10 459.89,570.06 460.43,569.10 460.97,568.26 461.51,569.99 462.06,571.41 462.60,570.15 463.14,569.42 463.68,570.21 464.22,570.84 464.76,570.77 465.31,570.57 465.85,571.05 466.39,570.51 466.93,568.96 467.47,569.34 468.02,570.08 468.56,571.21 469.10,572.00 469.64,571.84 470.18,570.92 470.72,569.40 471.27,570.42 471.81,571.34 472.35,571.32 472.89,571.28 473.43,571.45 473.97,570.65 474.52,570.20 475.06,571.23 475.60,571.29 476.14,570.76 476.68,569.36 477.22,568.91 477.77,569.46 478.31,569.90 478.85,570.41 479.39,569.78 479.93,568.67 480.47,568.08 481.02,568.50 481.56,569.77 482.10,570.05 482.64,569.29 483.18,568.65 483.72,568.48 484.27,567.98 484.81,567.62 485.35,567.72 485.89,567.29 486.43,567.43 486.97,567.31 487.52,567.63 488.06,568.62 488.60,567.50 489.14,567.27 489.68,566.98 490.22,568.12 490.77,569.22 491.31,567.77 491.85,566.62 492.39,566.34 492.93,567.94 493.47,568.40 494.02,568.61 494.56,569.17 495.10,568.42 495.64,567.90 496.18,567.17 496.72,568.92 497.27,570.10 497.81,568.10 498.35,567.25 498.89,567.59 499.43,568.35 499.97,568.15 500.52,566.50 501.06,566.38 501.60,568.68" fill="none" stroke="#b9bbbd" stroke-width="1.0" stroke-linejoin="round" />
<polyline points="328.80,572.64 329.34,572.87 329.88,573.42 330.43,573.18 330.97,572.66 331.51,573.40 332.05,573.99 332.59,572.99 333.13,571.72 333.68,572.21 334.22,573.09 334.76,572.93 335.30,574.96 335.84,575.16 336.38,571.98 336.93,571.04 337.47,572.03 338.01,572.70 338.55,573.36 339.09,573.95 339.63,572.90 340.18,572.80 340.72,571.85 341.26,570.56 341.80,571.23 342.34,571.65 342.88,572.27 343.43,572.39 343.97,573.14 344.51,572.76 345.05,571.21 345.59,571.10 346.13,571.59 346.68,571.11 347.22,570.95 347.76,571.75 348.30,572.09 348.84,572.46 349.38,573.07 349.93,573.09 350.47,572.34 351.01,572.13 351.55,572.55 352.09,573.25 352.63,573.12 353.18,572.49 353.72,571.37 354.26,571.71 354.80,572.08 355.34,571.69 355.88,572.08 356.43,572.43 356.97,570.97 357.51,570.27 358.05,571.57 358.59,571.27 359.13,571.82 359.68,572.75 360.22,572.02 360.76,572.19 361.30,572.36 361.84,570.83 362.38,571.48 362.93,572.31 363.47,571.17 364.01,572.02 364.55,572.30 365.09,571.43 365.64,572.49 366.18,572.53 366.72,571.23 367.26,570.64 367.80,571.17 368.34,570.94 368.89,570.69 369.43,571.47 369.97,572.08 370.51,572.36 371.05,571.58 371.59,571.30 372.14,570.88 372.68,570.74 373.22,571.45 373.76,570.28 374.30,570.54 374.84,571.62 375.39,570.52 375.93,570.61 376.47,570.96 377.01,570.67 377.55,572.12 378.09,571.64 378.64,570.92 379.18,571.83 379.72,570.65 380.26,570.76 380.80,571.70 381.34,571.29 381.89,571.67 382.43,571.60 382.97,571.17 383.51,571.76 384.05,572.27 384.59,571.75 385.14,572.49 385.68,573.16 386.22,572.41 386.76,571.71 387.30,569.86 387.84,569.82 388.39,570.43 388.93,571.43 389.47,571.40 390.01,571.29 390.55,572.36 391.09,571.86 391.64,572.23 392.18,571.66 392.72,570.27 393.26,570.20 393.80,571.60 394.34,573.09 394.89,572.45 395.43,570.30 395.97,571.16 396.51,572.76 397.05,570.71 397.59,569.59 398.14,569.91 398.68,570.25 399.22,570.56 399.76,570.49 400.30,570.78 400.85,572.11 401.39,572.00 401.93,569.95 402.47,570.23 403.01,570.34 403.55,569.77 404.10,570.47 404.64,569.66 405.18,569.30 405.72,570.60 406.26,571.19 406.80,569.62 407.35,568.49 407.89,569.57 408.43,569.32 408.97,568.73 409.51,568.01 410.05,568.29 410.60,569.89 411.14,570.14 411.68,569.85 412.22,569.37 412.76,569.17 413.30,569.03 413.85,569.12 414.39,568.22 414.93,566.84 415.47,567.83 416.01,567.49 416.55,566.06 417.10,565.99 417.64,566.77 418.18,567.94 418.72,566.68 419.26,567.20 419.80,567.99 420.35,566.82 420.89,566.79 421.43,566.80 421.97,566.42 422.51,565.90 423.05,565.48 423.60,565.74 424.14,565.91 424.68,565.16 425.22,565.17 425.76,566.17 426.30,566.70 426.85,565.92 427.39,565.81 427.93,566.37 428.47,566.43 429.01,565.95 429.55,565.72 430.10,564.31 430.64,563.81 431.18,565.51 431.72,565.99 432.26,566.81 432.81,567.36 433.35,566.69 433.89,566.02 434.43,566.62 434.97,567.84 435.51,567.78 436.06,567.78 436.60,568.25 437.14,567.88 437.68,567.01 438.22,567.75 438.76,567.59 439.31,567.37 439.85,569.37 440.39,569.18 440.93,568.28 441.47,568.37 442.01,569.52 442.56,569.57 443.10,568.23 443.64,569.34 444.18,570.55 444.72,569.42 445.26,567.60 445.81,567.23 446.35,569.37 446.89,569.39 447.43,569.30 447.97,570.41 448.51,569.96 449.06,569.18 449.60,568.37 450.14,569.21 450.68,569.71 451.22,570.25 451.76,570.46 452.31,569.14 452.85,569.18 453.39,570.39 453.93,569.78 454.47,569.74 455.01,570.42 455.56,570.07 456.10,570.09 456.64,570.64 457.18,570.87 457.72,570.81 458.26,570.93 458.81,572.07 459.35,572.25 459.89,571.21 460.43,570.24 460.97,569.41 461.51,571.14 462.06,572.55 462.60,571.29 463.14,570.56 463.68,571.35 464.22,571.98 464.76,571.91 465.31,571.72 465.85,572.20 466.39,571.65 466.93,570.11 467.47,570.49 468.02,571.23 468.56,572.35 469.10,573.14 469.64,572.98 470.18,572.06 470.72,570.55 471.27,571.57 471.81,572.49 472.35,572.47 472.89,572.42 473.43,572.59 473.97,571.79 474.52,571.35 475.06,572.38 475.60,572.43 476.14,571.90 476.68,570.50 477.22,570.06 477.77,570.60 478.31,571.05 478.85,571.55 479.39,570.92 479.93,569.81 480.47,569.23 481.02,569.65 481.56,570.92 482.10,571.20 482.64,570.43 483.18,569.80 483.72,569.62 484.27,569.12 484.81,568.76 485.35,568.87 485.89,568.43 486.43,568.58 486.97,568.46 487.52,568.78 488.06,569.77 488.60,568.64 489.14,568.41 489.68,568.12 490.22,569.27 490.77,570.36 491.31,568.92 491.85,567.77 492.39,567.49 492.93,569.09 493.47,569.55 494.02,569.76 494.56,570.31 495.10,569.57 495.64,569.04 496.18,568.31 496.72,570.07 497.27,571.25 497.81,569.25 498.35,568.39 498.89,568.74 499.43,569.50 499.97,569.30 500.52,567.65 501.06,567.52 501.60,569.83" fill="none" stroke="#6f7173" stroke-width="0.7" stroke-linejoin="round" />
<line x1="328.80" y1="571.60" x2="501.60" y2="571.60" stroke="#222" stroke-width="0.9" stroke-dasharray="3 2.2"/>
<polyline points="328.80,572.30 329.28,571.85 329.76,570.04 330.24,571.93 330.73,573.10 331.21,573.16 331.69,572.97 332.17,572.62 332.65,571.34 333.13,572.19 333.61,571.89 334.09,571.68 334.58,571.56 335.06,571.00 335.54,570.33 336.02,573.18 336.50,572.28 336.98,572.06 337.46,572.13 337.95,570.88 338.43,571.02 338.91,572.80 339.39,569.82 339.87,571.33 340.35,571.12 340.83,572.83 341.31,571.03 341.80,572.49 342.28,573.33 342.76,571.95 343.24,573.46 343.72,573.56 344.20,571.57 344.68,571.14 345.17,573.09 345.65,570.96 346.13,570.70 346.61,570.75 347.09,571.82 347.57,572.68 348.05,570.29 348.53,572.81 349.02,571.71 349.50,570.88 349.98,570.12 350.46,571.97 350.94,572.03 351.42,571.70 351.90,572.11 352.39,570.96 352.87,571.04 353.35,570.19 353.83,572.52 354.31,571.42 354.79,573.24 355.27,572.77 355.75,570.30 356.24,572.44 356.72,574.48 357.20,572.65 357.68,572.56 358.16,574.18 358.64,571.47 359.12,570.56 359.61,572.26 360.09,570.25 360.57,574.13 361.05,570.40 361.53,571.32 362.01,568.29 362.49,571.13 362.97,571.12 363.46,571.04 363.94,571.39 364.42,571.36 364.90,569.89 365.38,570.37 365.86,570.26 366.34,570.21 366.83,571.39 367.31,567.97 367.79,571.65 368.27,569.07 368.75,570.43 369.23,568.78 369.71,570.34 370.19,568.55 370.68,569.24 371.16,568.27 371.64,567.13 372.12,569.34 372.60,569.33 373.08,572.55 373.56,569.34 374.05,568.13 374.53,569.52 375.01,569.03 375.49,569.24 375.97,571.44 376.45,567.75 376.93,569.71 377.42,570.45 377.90,567.35 378.38,568.02 378.86,567.72 379.34,568.20 379.82,569.14 380.30,567.14 380.78,569.40 381.27,567.96 381.75,569.57 382.23,569.70 382.71,567.23 383.19,569.28 383.67,566.22 384.15,569.95 384.64,566.91 385.12,568.66 385.60,567.28 386.08,567.38 386.56,570.61 387.04,567.49 387.52,568.68 388.00,569.48 388.49,566.93 388.97,567.80 389.45,567.74 389.93,566.47 390.41,566.83 390.89,567.75 391.37,568.66 391.86,565.48 392.34,567.94 392.82,568.91 393.30,564.13 393.78,563.66 394.26,568.18 394.74,565.34 395.22,567.39 395.71,564.49 396.19,565.64 396.67,566.59 397.15,563.32 397.63,565.41 398.11,563.50 398.59,564.56 399.08,561.19 399.56,561.69 400.04,563.34 400.52,565.21 401.00,561.67 401.48,563.04 401.96,560.00 402.44,559.19 402.93,560.88 403.41,559.42 403.89,561.96 404.37,559.22 404.85,557.54 405.33,561.12 405.81,557.99 406.30,557.91 406.78,556.38 407.26,556.70 407.74,556.16 408.22,553.81 408.70,554.58 409.18,553.29 409.66,554.94 410.15,551.96 410.63,550.86 411.11,551.49 411.59,551.24 412.07,553.61 412.55,552.27 413.03,551.14 413.52,551.08 414.00,547.75 414.48,549.42 414.96,551.82 415.44,547.24 415.92,551.84 416.40,550.69 416.88,549.22 417.37,547.03 417.85,542.50 418.33,545.04 418.81,542.87 419.29,544.34 419.77,541.90 420.25,536.88 420.74,537.38 421.22,536.61 421.70,534.43 422.18,534.26 422.66,532.91 423.14,533.60 423.62,532.76 424.10,530.28 424.59,528.45 425.07,527.67 425.55,524.30 426.03,522.11 426.51,524.93 426.99,527.37 427.47,527.36 427.96,524.81 428.44,525.56 428.92,526.71 429.40,526.59 429.88,526.37 430.36,528.21 430.84,528.29 431.32,529.56 431.81,532.01 432.29,529.42 432.77,529.75 433.25,529.32 433.73,530.70 434.21,529.58 434.69,529.75 435.18,530.94 435.66,531.84 436.14,531.57 436.62,530.36 437.10,529.84 437.58,528.76 438.06,531.44 438.54,530.83 439.03,530.07 439.51,533.15 439.99,531.17 440.47,532.77 440.95,532.84 441.43,531.50 441.91,532.99 442.40,532.41 442.88,534.48 443.36,533.27 443.84,534.51 444.32,533.89 444.80,529.20 445.28,532.43 445.76,532.24 446.25,531.97 446.73,531.95 447.21,528.64 447.69,532.35 448.17,528.65 448.65,532.52 449.13,530.98 449.62,532.86 450.10,534.27 450.58,534.06 451.06,532.44 451.54,534.83 452.02,537.59 452.50,532.89 452.98,536.74 453.47,536.64 453.95,534.63 454.43,539.24 454.91,537.90 455.39,536.46 455.87,536.55 456.35,536.71 456.84,538.85 457.32,536.39 457.80,538.34 458.28,537.57 458.76,539.15 459.24,535.65 459.72,538.57 460.21,538.25 460.69,538.98 461.17,537.79 461.65,540.22 462.13,538.62 462.61,538.96 463.09,536.77 463.57,539.73 464.06,539.84 464.54,539.70 465.02,538.81 465.50,537.76 465.98,540.22 466.46,540.43 466.94,539.23 467.43,541.65 467.91,541.47 468.39,543.17 468.87,542.87 469.35,544.04 469.83,540.31 470.31,542.48 470.79,542.69 471.28,545.10 471.76,543.66 472.24,544.84 472.72,544.93 473.20,545.93 473.68,545.05 474.16,540.64 474.65,545.16 475.13,543.48 475.61,543.19 476.09,543.94 476.57,543.62 477.05,546.11 477.53,542.71 478.01,542.01 478.50,544.62 478.98,545.41 479.46,545.36 479.94,545.82 480.42,542.93 480.90,542.39 481.38,540.98 481.87,544.88 482.35,541.70 482.83,541.69 483.31,542.77 483.79,543.39 484.27,541.56 484.75,538.70 485.23,543.27 485.72,542.11 486.20,542.05 486.68,541.58 487.16,539.94 487.64,542.16 488.12,544.68 488.60,543.35 489.09,543.44 489.57,541.38 490.05,541.58 490.53,543.43 491.01,540.92 491.49,544.49 491.97,542.29 492.45,540.30 492.94,544.31 493.42,541.38 493.90,540.90 494.38,543.09 494.86,542.38 495.34,544.78 495.82,542.41 496.31,544.66 496.79,543.91 497.27,542.70 497.75,543.94 498.23,545.07 498.71,544.12 499.19,545.21 499.67,546.71 500.16,549.09 500.64,547.42 501.12,546.70 501.60,549.52" fill="none" stroke="#1a6fb5" stroke-width="1.2" stroke-linejoin="round" />
<line x1="415.20" y1="516.00" x2="415.20" y2="595.30" stroke="#222" stroke-width="1.0" stroke-dasharray="3.6 1.3 0.7 1.3"/>
<path d="M413.15,508.20 L417.25,508.20 L415.20,513.70 Z" fill="#111" stroke="none" stroke-width="1" />
<line x1="328.80" y1="517.00" x2="328.80" y2="595.30" stroke="#5a5b5d" stroke-width="0.9" />
<line x1="328.80" y1="526.00" x2="331.00" y2="526.00" stroke="#5a5b5d" stroke-width="0.8" />
<line x1="328.80" y1="548.80" x2="331.00" y2="548.80" stroke="#5a5b5d" stroke-width="0.8" />
<line x1="328.80" y1="571.60" x2="331.00" y2="571.60" stroke="#5a5b5d" stroke-width="0.8" />
<line x1="328.80" y1="594.40" x2="331.00" y2="594.40" stroke="#5a5b5d" stroke-width="0.8" />
<line x1="328.80" y1="595.30" x2="501.60" y2="595.30" stroke="#5a5b5d" stroke-width="0.9" />
<line x1="501.60" y1="595.30" x2="501.60" y2="593.10" stroke="#5a5b5d" stroke-width="0.8" />
<line x1="415.20" y1="595.30" x2="415.20" y2="593.10" stroke="#5a5b5d" stroke-width="0.8" />
<text x="324.30" y="529.80" font-size="10.5" fill="#231f20" stroke="#231f20" stroke-width="0.22" text-anchor="end" textLength="12.3" lengthAdjust="spacingAndGlyphs">10</text>
<text x="324.30" y="552.60" font-size="10.5" fill="#231f20" stroke="#231f20" stroke-width="0.22" text-anchor="end" textLength="6.2" lengthAdjust="spacingAndGlyphs">5</text>
<text x="324.30" y="575.40" font-size="10.5" fill="#231f20" stroke="#231f20" stroke-width="0.22" text-anchor="end" textLength="6.2" lengthAdjust="spacingAndGlyphs">0</text>
<text x="324.30" y="598.20" font-size="10.5" fill="#231f20" stroke="#231f20" stroke-width="0.22" text-anchor="end" textLength="12.0" lengthAdjust="spacingAndGlyphs">−5</text>
<text x="328.80" y="608.20" font-size="10.5" fill="#231f20" stroke="#231f20" stroke-width="0.22" text-anchor="middle" textLength="12.0" lengthAdjust="spacingAndGlyphs">−3</text>
<text x="415.20" y="608.20" font-size="10.5" fill="#231f20" stroke="#231f20" stroke-width="0.22" text-anchor="middle" textLength="6.1" lengthAdjust="spacingAndGlyphs">0</text>
<text x="501.60" y="608.20" font-size="10.5" fill="#231f20" stroke="#231f20" stroke-width="0.22" text-anchor="middle" textLength="6.1" lengthAdjust="spacingAndGlyphs">3</text>
<text x="415.20" y="624.30" font-size="10.5" fill="#231f20" stroke="#231f20" stroke-width="0.22" text-anchor="middle" textLength="38.6" lengthAdjust="spacingAndGlyphs">Time (s)</text>
<text x="370.90" y="502.00" font-size="10.7" fill="#231f20" stroke="#231f20" stroke-width="0.22" textLength="87.8" lengthAdjust="spacingAndGlyphs">Deep interactions</text>
<line x1="333.20" y1="518.20" x2="343.30" y2="518.20" stroke="#1a6fb5" stroke-width="2.0" />
<text x="347.40" y="522.10" font-size="10.5" fill="#231f20" stroke="#231f20" stroke-width="0.22" textLength="14.6" lengthAdjust="spacingAndGlyphs">1st</text>
<line x1="333.20" y1="533.90" x2="343.30" y2="533.90" stroke="#8e9092" stroke-width="2.0" />
<text x="347.40" y="538.00" font-size="10.5" fill="#231f20" stroke="#231f20" stroke-width="0.22" textLength="34.6" lengthAdjust="spacingAndGlyphs">Further</text>
<polygon points="332.90,715.49 333.44,715.33 333.98,715.35 334.52,715.20 335.06,714.84 335.60,715.21 336.14,715.19 336.68,715.69 337.22,716.09 337.76,715.68 338.30,715.41 338.84,715.28 339.38,715.25 339.92,714.48 340.46,715.17 341.00,715.50 341.54,714.68 342.08,715.48 342.62,715.64 343.16,715.60 343.70,715.76 344.24,715.42 344.78,715.13 345.32,715.19 345.86,715.01 346.40,715.62 346.94,715.53 347.48,714.95 348.02,715.84 348.56,715.47 349.10,715.02 349.64,715.60 350.18,715.75 350.72,715.85 351.26,716.40 351.80,716.21 352.34,715.50 352.88,715.75 353.42,715.97 353.96,716.75 354.51,716.28 355.05,715.59 355.59,716.47 356.13,715.94 356.67,715.08 357.21,715.21 357.75,715.32 358.29,715.46 358.83,715.98 359.37,715.42 359.91,716.19 360.45,717.26 360.99,716.42 361.53,715.62 362.07,715.39 362.61,715.77 363.15,715.94 363.69,715.59 364.23,715.62 364.77,715.80 365.31,715.55 365.85,716.04 366.39,716.45 366.93,716.14 367.47,715.69 368.01,715.09 368.55,715.48 369.09,716.60 369.63,715.86 370.17,715.65 370.71,715.66 371.25,715.40 371.79,716.05 372.33,715.78 372.87,715.85 373.41,715.45 373.95,714.81 374.49,716.10 375.03,716.36 375.57,715.94 376.11,715.84 376.65,715.05 377.19,715.38 377.73,715.54 378.27,715.23 378.81,715.07 379.35,715.04 379.89,715.52 380.43,715.26 380.97,714.75 381.51,715.68 382.05,715.94 382.59,715.58 383.13,715.48 383.67,716.07 384.21,716.21 384.75,714.47 385.29,714.77 385.83,715.48 386.37,714.20 386.91,714.02 387.45,714.32 387.99,714.52 388.53,715.43 389.07,715.72 389.61,714.98 390.15,714.91 390.69,715.17 391.23,715.13 391.77,715.74 392.31,716.53 392.85,715.53 393.39,715.00 393.93,715.77 394.47,715.21 395.01,714.83 395.55,715.00 396.09,714.77 396.63,714.41 397.17,714.70 397.72,715.24 398.26,714.74 398.80,714.43 399.34,714.99 399.88,715.07 400.42,714.41 400.96,713.47 401.50,713.99 402.04,714.97 402.58,714.65 403.12,714.29 403.66,714.13 404.20,714.34 404.74,715.06 405.28,714.60 405.82,714.58 406.36,715.27 406.90,715.28 407.44,714.97 407.98,715.22 408.52,715.62 409.06,714.37 409.60,713.69 410.14,714.03 410.68,713.99 411.22,713.52 411.76,714.11 412.30,714.79 412.84,714.11 413.38,714.20 413.92,714.35 414.46,714.36 415.00,714.33 415.54,713.88 416.08,713.61 416.62,713.45 417.16,713.52 417.70,714.61 418.24,714.66 418.78,713.79 419.32,713.80 419.86,713.96 420.40,713.52 420.94,712.98 421.48,713.26 422.02,713.15 422.56,712.64 423.10,712.91 423.64,712.80 424.18,712.53 424.72,712.80 425.26,713.26 425.80,713.89 426.34,714.28 426.88,714.57 427.42,714.27 427.96,714.20 428.50,714.40 429.04,715.16 429.58,715.41 430.12,714.47 430.66,714.63 431.20,715.04 431.74,715.25 432.28,715.15 432.82,715.07 433.36,715.39 433.90,715.40 434.44,714.79 434.98,715.11 435.52,715.38 436.06,715.84 436.60,716.53 437.14,715.79 437.68,716.12 438.22,716.13 438.76,715.50 439.30,716.00 439.84,716.62 440.38,716.78 440.93,717.40 441.47,717.47 442.01,716.79 442.55,716.37 443.09,716.59 443.63,717.11 444.17,717.19 444.71,717.15 445.25,716.73 445.79,716.49 446.33,717.75 446.87,717.94 447.41,716.85 447.95,717.76 448.49,717.89 449.03,717.08 449.57,716.87 450.11,717.07 450.65,717.64 451.19,717.62 451.73,717.47 452.27,716.94 452.81,716.90 453.35,716.93 453.89,717.11 454.43,717.45 454.97,717.17 455.51,716.84 456.05,716.66 456.59,716.24 457.13,716.70 457.67,717.36 458.21,716.86 458.75,716.17 459.29,716.12 459.83,716.88 460.37,716.58 460.91,716.42 461.45,716.82 461.99,716.06 462.53,715.49 463.07,716.42 463.61,716.12 464.15,715.42 464.69,715.82 465.23,717.12 465.77,717.55 466.31,716.35 466.85,716.32 467.39,716.47 467.93,716.15 468.47,715.76 469.01,715.56 469.55,716.13 470.09,716.24 470.63,715.89 471.17,714.85 471.71,714.51 472.25,715.71 472.79,715.84 473.33,716.19 473.87,716.09 474.41,714.99 474.95,714.51 475.49,714.06 476.03,714.62 476.57,715.82 477.11,715.61 477.65,715.03 478.19,715.00 478.73,714.59 479.27,714.66 479.81,715.00 480.35,714.43 480.89,714.36 481.43,714.17 481.97,713.49 482.51,713.81 483.05,714.93 483.59,714.55 484.14,714.51 484.68,715.18 485.22,715.40 485.76,715.63 486.30,715.55 486.84,715.28 487.38,715.42 487.92,715.79 488.46,715.36 489.00,714.46 489.54,714.50 490.08,715.60 490.62,715.81 491.16,714.36 491.70,714.50 492.24,715.99 492.78,715.43 493.32,714.79 493.86,714.63 494.40,715.32 494.94,715.64 495.48,715.22 496.02,714.61 496.56,714.01 497.10,715.33 497.64,715.42 498.18,714.86 498.72,715.31 499.26,715.32 499.80,715.96 500.34,715.91 500.88,715.68 501.42,715.51 501.96,715.28 502.50,715.30 503.04,715.52 503.58,716.14 504.12,715.46 504.66,715.58 505.20,715.50 505.20,718.69 504.66,718.77 504.12,718.65 503.58,719.33 503.04,718.71 502.50,718.49 501.96,718.48 501.42,718.71 500.88,718.88 500.34,719.10 499.80,719.16 499.26,718.52 498.72,718.50 498.18,718.05 497.64,718.61 497.10,718.52 496.56,717.20 496.02,717.80 495.48,718.41 494.94,718.83 494.40,718.51 493.86,717.82 493.32,717.99 492.78,718.62 492.24,719.18 491.70,717.69 491.16,717.55 490.62,719.01 490.08,718.79 489.54,717.69 489.00,717.65 488.46,718.55 487.92,718.98 487.38,718.61 486.84,718.47 486.30,718.75 485.76,718.82 485.22,718.59 484.68,718.38 484.14,717.71 483.59,717.74 483.05,718.12 482.51,717.00 481.97,716.68 481.43,717.37 480.89,717.55 480.35,717.62 479.81,718.20 479.27,717.85 478.73,717.78 478.19,718.20 477.65,718.22 477.11,718.80 476.57,719.01 476.03,717.81 475.49,717.25 474.95,717.70 474.41,718.18 473.87,719.28 473.33,719.39 472.79,719.04 472.25,718.91 471.71,717.70 471.17,718.04 470.63,719.08 470.09,719.43 469.55,719.32 469.01,718.75 468.47,718.95 467.93,719.34 467.39,719.66 466.85,719.51 466.31,719.55 465.77,720.74 465.23,720.31 464.69,719.01 464.15,718.61 463.61,719.31 463.07,719.61 462.53,718.68 461.99,719.26 461.45,720.02 460.91,719.61 460.37,719.77 459.83,720.08 459.29,719.31 458.75,719.36 458.21,720.05 457.67,720.55 457.13,719.89 456.59,719.43 456.05,719.85 455.51,720.03 454.97,720.36 454.43,720.64 453.89,720.30 453.35,720.12 452.81,720.09 452.27,720.13 451.73,720.66 451.19,720.81 450.65,720.84 450.11,720.26 449.57,720.06 449.03,720.27 448.49,721.08 447.95,720.95 447.41,720.05 446.87,721.13 446.33,720.94 445.79,719.68 445.25,719.92 444.71,720.34 444.17,720.38 443.63,720.30 443.09,719.78 442.55,719.56 442.01,719.98 441.47,720.66 440.93,720.59 440.38,719.97 439.84,719.81 439.30,719.19 438.76,718.69 438.22,719.32 437.68,719.31 437.14,718.98 436.60,719.73 436.06,719.03 435.52,718.57 434.98,718.30 434.44,717.98 433.90,718.59 433.36,718.58 432.82,718.26 432.28,718.35 431.74,718.44 431.20,718.24 430.66,717.82 430.12,717.67 429.58,718.61 429.04,718.35 428.50,717.60 427.96,717.39 427.42,717.46 426.88,717.77 426.34,717.47 425.80,717.08 425.26,716.46 424.72,715.99 424.18,715.72 423.64,715.99 423.10,716.10 422.56,715.83 422.02,716.34 421.48,716.45 420.94,716.17 420.40,716.71 419.86,717.15 419.32,716.99 418.78,716.98 418.24,717.85 417.70,717.80 417.16,716.71 416.62,716.64 416.08,716.81 415.54,717.07 415.00,717.52 414.46,717.55 413.92,717.54 413.38,717.40 412.84,717.30 412.30,717.98 411.76,717.30 411.22,716.71 410.68,717.19 410.14,717.22 409.60,716.88 409.06,717.56 408.52,718.81 407.98,718.41 407.44,718.16 406.90,718.47 406.36,718.47 405.82,717.77 405.28,717.79 404.74,718.25 404.20,717.53 403.66,717.32 403.12,717.48 402.58,717.84 402.04,718.16 401.50,717.19 400.96,716.66 400.42,717.61 399.88,718.27 399.34,718.18 398.80,717.62 398.26,717.94 397.72,718.43 397.17,717.89 396.63,717.60 396.09,717.96 395.55,718.19 395.01,718.02 394.47,718.40 393.93,718.96 393.39,718.19 392.85,718.72 392.31,719.73 391.77,718.94 391.23,718.32 390.69,718.36 390.15,718.10 389.61,718.17 389.07,718.92 388.53,718.62 387.99,717.72 387.45,717.52 386.91,717.21 386.37,717.39 385.83,718.67 385.29,717.96 384.75,717.66 384.21,719.40 383.67,719.26 383.13,718.67 382.59,718.77 382.05,719.14 381.51,718.88 380.97,717.95 380.43,718.45 379.89,718.72 379.35,718.23 378.81,718.27 378.27,718.43 377.73,718.73 377.19,718.57 376.65,718.24 376.11,719.04 375.57,719.14 375.03,719.56 374.49,719.29 373.95,718.01 373.41,718.64 372.87,719.04 372.33,718.97 371.79,719.24 371.25,718.59 370.71,718.85 370.17,718.85 369.63,719.05 369.09,719.79 368.55,718.67 368.01,718.28 367.47,718.88 366.93,719.34 366.39,719.64 365.85,719.23 365.31,718.75 364.77,718.99 364.23,718.81 363.69,718.78 363.15,719.13 362.61,718.96 362.07,718.58 361.53,718.81 360.99,719.61 360.45,720.46 359.91,719.39 359.37,718.62 358.83,719.17 358.29,718.65 357.75,718.51 357.21,718.40 356.67,718.27 356.13,719.13 355.59,719.66 355.05,718.78 354.51,719.47 353.96,719.94 353.42,719.16 352.88,718.94 352.34,718.69 351.80,719.40 351.26,719.59 350.72,719.04 350.18,718.94 349.64,718.79 349.10,718.21 348.56,718.66 348.02,719.03 347.48,718.14 346.94,718.72 346.40,718.82 345.86,718.20 345.32,718.38 344.78,718.32 344.24,718.62 343.70,718.96 343.16,718.79 342.62,718.83 342.08,718.67 341.54,717.87 341.00,718.70 340.46,718.36 339.92,717.68 339.38,718.44 338.84,718.47 338.30,718.60 337.76,718.87 337.22,719.28 336.68,718.88 336.14,718.39 335.60,718.40 335.06,718.03 334.52,718.39 333.98,718.54 333.44,718.52 332.90,718.68" fill="#7fcfb4" stroke="none" />
<line x1="332.90" y1="716.80" x2="505.20" y2="716.80" stroke="#222" stroke-width="0.9" stroke-dasharray="3 2.2"/>
<polyline points="332.90,717.08 333.44,716.92 333.98,716.94 334.52,716.80 335.06,716.43 335.60,716.81 336.14,716.79 336.68,717.28 337.22,717.68 337.76,717.27 338.30,717.00 338.84,716.87 339.38,716.85 339.92,716.08 340.46,716.77 341.00,717.10 341.54,716.28 342.08,717.07 342.62,717.24 343.16,717.19 343.70,717.36 344.24,717.02 344.78,716.73 345.32,716.78 345.86,716.61 346.40,717.22 346.94,717.13 347.48,716.54 348.02,717.43 348.56,717.06 349.10,716.62 349.64,717.20 350.18,717.34 350.72,717.45 351.26,718.00 351.80,717.80 352.34,717.09 352.88,717.34 353.42,717.56 353.96,718.34 354.51,717.87 355.05,717.18 355.59,718.06 356.13,717.54 356.67,716.67 357.21,716.80 357.75,716.91 358.29,717.05 358.83,717.58 359.37,717.02 359.91,717.79 360.45,718.86 360.99,718.02 361.53,717.22 362.07,716.99 362.61,717.36 363.15,717.54 363.69,717.18 364.23,717.22 364.77,717.39 365.31,717.15 365.85,717.64 366.39,718.04 366.93,717.74 367.47,717.29 368.01,716.69 368.55,717.07 369.09,718.20 369.63,717.45 370.17,717.25 370.71,717.25 371.25,716.99 371.79,717.64 372.33,717.37 372.87,717.44 373.41,717.04 373.95,716.41 374.49,717.69 375.03,717.96 375.57,717.54 376.11,717.44 376.65,716.65 377.19,716.98 377.73,717.13 378.27,716.83 378.81,716.67 379.35,716.63 379.89,717.12 380.43,716.85 380.97,716.35 381.51,717.28 382.05,717.54 382.59,717.17 383.13,717.07 383.67,717.67 384.21,717.81 384.75,716.07 385.29,716.37 385.83,717.08 386.37,715.79 386.91,715.62 387.45,715.92 387.99,716.12 388.53,717.02 389.07,717.32 389.61,716.58 390.15,716.50 390.69,716.77 391.23,716.73 391.77,717.34 392.31,718.13 392.85,717.12 393.39,716.60 393.93,717.36 394.47,716.80 395.01,716.42 395.55,716.59 396.09,716.36 396.63,716.01 397.17,716.30 397.72,716.84 398.26,716.34 398.80,716.02 399.34,716.59 399.88,716.67 400.42,716.01 400.96,715.06 401.50,715.59 402.04,716.56 402.58,716.25 403.12,715.89 403.66,715.73 404.20,715.94 404.74,716.66 405.28,716.20 405.82,716.18 406.36,716.87 406.90,716.87 407.44,716.56 407.98,716.82 408.52,717.21 409.06,715.97 409.60,715.28 410.14,715.63 410.68,715.59 411.22,715.12 411.76,715.71 412.30,716.39 412.84,715.70 413.38,715.80 413.92,715.95 414.46,715.96 415.00,715.92 415.54,715.47 416.08,715.21 416.62,715.05 417.16,715.11 417.70,716.20 418.24,716.26 418.78,715.38 419.32,715.40 419.86,715.56 420.40,715.12 420.94,714.57 421.48,714.86 422.02,714.74 422.56,714.23 423.10,714.50 423.64,714.39 424.18,714.12 424.72,714.39 425.26,714.86 425.80,715.48 426.34,715.88 426.88,716.17 427.42,715.86 427.96,715.79 428.50,716.00 429.04,716.76 429.58,717.01 430.12,716.07 430.66,716.22 431.20,716.64 431.74,716.85 432.28,716.75 432.82,716.67 433.36,716.98 433.90,717.00 434.44,716.38 434.98,716.71 435.52,716.97 436.06,717.43 436.60,718.13 437.14,717.39 437.68,717.71 438.22,717.73 438.76,717.09 439.30,717.60 439.84,718.21 440.38,718.38 440.93,719.00 441.47,719.07 442.01,718.39 442.55,717.97 443.09,718.19 443.63,718.71 444.17,718.78 444.71,718.75 445.25,718.32 445.79,718.09 446.33,719.35 446.87,719.54 447.41,718.45 447.95,719.35 448.49,719.49 449.03,718.67 449.57,718.47 450.11,718.66 450.65,719.24 451.19,719.21 451.73,719.07 452.27,718.53 452.81,718.50 453.35,718.53 453.89,718.70 454.43,719.04 454.97,718.76 455.51,718.43 456.05,718.25 456.59,717.83 457.13,718.30 457.67,718.96 458.21,718.45 458.75,717.77 459.29,717.72 459.83,718.48 460.37,718.18 460.91,718.02 461.45,718.42 461.99,717.66 462.53,717.08 463.07,718.02 463.61,717.72 464.15,717.02 464.69,717.41 465.23,718.71 465.77,719.15 466.31,717.95 466.85,717.92 467.39,718.06 467.93,717.75 468.47,717.35 469.01,717.16 469.55,717.72 470.09,717.84 470.63,717.48 471.17,716.44 471.71,716.11 472.25,717.31 472.79,717.44 473.33,717.79 473.87,717.69 474.41,716.58 474.95,716.10 475.49,715.65 476.03,716.21 476.57,717.42 477.11,717.21 477.65,716.62 478.19,716.60 478.73,716.19 479.27,716.25 479.81,716.60 480.35,716.02 480.89,715.95 481.43,715.77 481.97,715.08 482.51,715.41 483.05,716.52 483.59,716.14 484.14,716.11 484.68,716.78 485.22,716.99 485.76,717.22 486.30,717.15 486.84,716.87 487.38,717.01 487.92,717.38 488.46,716.95 489.00,716.06 489.54,716.10 490.08,717.19 490.62,717.41 491.16,715.96 491.70,716.10 492.24,717.58 492.78,717.03 493.32,716.39 493.86,716.23 494.40,716.92 494.94,717.23 495.48,716.81 496.02,716.20 496.56,715.60 497.10,716.93 497.64,717.01 498.18,716.45 498.72,716.91 499.26,716.92 499.80,717.56 500.34,717.51 500.88,717.28 501.42,717.11 501.96,716.88 502.50,716.90 503.04,717.11 503.58,717.73 504.12,717.05 504.66,717.17 505.20,717.09" fill="none" stroke="#119c75" stroke-width="0.9" stroke-linejoin="round" />
<line x1="419.05" y1="659.00" x2="419.05" y2="739.60" stroke="#222" stroke-width="1.0" stroke-dasharray="3.4 2.2"/>
<path d="M417.00,651.50 L421.10,651.50 L419.05,657.00 Z" fill="#111" stroke="none" stroke-width="1" />
<line x1="332.90" y1="662.20" x2="332.90" y2="739.60" stroke="#5a5b5d" stroke-width="0.9" />
<line x1="332.90" y1="671.00" x2="335.10" y2="671.00" stroke="#5a5b5d" stroke-width="0.8" />
<line x1="332.90" y1="693.90" x2="335.10" y2="693.90" stroke="#5a5b5d" stroke-width="0.8" />
<line x1="332.90" y1="716.80" x2="335.10" y2="716.80" stroke="#5a5b5d" stroke-width="0.8" />
<line x1="332.90" y1="739.70" x2="335.10" y2="739.70" stroke="#5a5b5d" stroke-width="0.8" />
<line x1="332.90" y1="739.60" x2="505.20" y2="739.60" stroke="#5a5b5d" stroke-width="0.9" />
<line x1="505.20" y1="739.60" x2="505.20" y2="737.40" stroke="#5a5b5d" stroke-width="0.8" />
<line x1="419.05" y1="739.60" x2="419.05" y2="737.40" stroke="#5a5b5d" stroke-width="0.8" />
<text x="328.40" y="674.80" font-size="10.5" fill="#231f20" stroke="#231f20" stroke-width="0.22" text-anchor="end" textLength="12.3" lengthAdjust="spacingAndGlyphs">10</text>
<text x="328.40" y="697.70" font-size="10.5" fill="#231f20" stroke="#231f20" stroke-width="0.22" text-anchor="end" textLength="6.2" lengthAdjust="spacingAndGlyphs">5</text>
<text x="328.40" y="720.60" font-size="10.5" fill="#231f20" stroke="#231f20" stroke-width="0.22" text-anchor="end" textLength="6.2" lengthAdjust="spacingAndGlyphs">0</text>
<text x="328.40" y="743.50" font-size="10.5" fill="#231f20" stroke="#231f20" stroke-width="0.22" text-anchor="end" textLength="12.0" lengthAdjust="spacingAndGlyphs">−5</text>
<text x="332.90" y="752.50" font-size="10.5" fill="#231f20" stroke="#231f20" stroke-width="0.22" text-anchor="middle" textLength="12.0" lengthAdjust="spacingAndGlyphs">−3</text>
<text x="419.05" y="752.50" font-size="10.5" fill="#231f20" stroke="#231f20" stroke-width="0.22" text-anchor="middle" textLength="6.1" lengthAdjust="spacingAndGlyphs">0</text>
<text x="505.20" y="752.50" font-size="10.5" fill="#231f20" stroke="#231f20" stroke-width="0.22" text-anchor="middle" textLength="6.1" lengthAdjust="spacingAndGlyphs">3</text>
<text x="419.05" y="768.60" font-size="10.5" fill="#231f20" stroke="#231f20" stroke-width="0.22" text-anchor="middle" textLength="38.6" lengthAdjust="spacingAndGlyphs">Time (s)</text>
<text x="376.40" y="649.80" font-size="10.7" fill="#231f20" stroke="#231f20" stroke-width="0.22" textLength="85.1" lengthAdjust="spacingAndGlyphs">Brief interactions</text>
<text x="305.00" y="709.80" font-size="10.5" fill="#231f20" stroke="#231f20" stroke-width="0.22" textLength="161.9" lengthAdjust="spacingAndGlyphs" transform="rotate(-90 305.00 709.80)">Calcium activity (<tspan font-style="italic">z</tspan>-scored Δ<tspan font-style="italic">F</tspan>/<tspan font-style="italic">F</tspan>)</text>
<text x="528.60" y="486.90" font-size="12.5" fill="#000" stroke="#000" stroke-width="0.22" font-weight="bold">l</text>
<line x1="564.60" y1="650.70" x2="677.80" y2="650.70" stroke="#dcdcdc" stroke-width="1.6" />
<rect x="568.20" y="622.00" width="30.60" height="28.70" fill="#0a67ae" stroke="#0a5a98" stroke-width="0.5"/>
<rect x="606.00" y="646.00" width="29.80" height="4.70" fill="#4f5152" stroke="#353738" stroke-width="0.5"/>
<rect x="644.00" y="649.90" width="30.10" height="0.80" fill="#3a7a6a" />
<line x1="583.50" y1="622.00" x2="583.50" y2="611.20" stroke="#231f20" stroke-width="0.85" />
<line x1="582.10" y1="611.20" x2="584.90" y2="611.20" stroke="#231f20" stroke-width="0.85" />
<line x1="620.90" y1="646.00" x2="620.90" y2="644.40" stroke="#231f20" stroke-width="0.85" />
<line x1="619.50" y1="644.40" x2="622.30" y2="644.40" stroke="#231f20" stroke-width="0.85" />
<line x1="564.60" y1="518.20" x2="564.60" y2="677.20" stroke="#5a5b5d" stroke-width="0.9" />
<line x1="564.60" y1="518.20" x2="566.90" y2="518.20" stroke="#5a5b5d" stroke-width="0.8" />
<line x1="564.60" y1="544.70" x2="566.90" y2="544.70" stroke="#5a5b5d" stroke-width="0.8" />
<line x1="564.60" y1="571.20" x2="566.90" y2="571.20" stroke="#5a5b5d" stroke-width="0.8" />
<line x1="564.60" y1="597.70" x2="566.90" y2="597.70" stroke="#5a5b5d" stroke-width="0.8" />
<line x1="564.60" y1="624.20" x2="566.90" y2="624.20" stroke="#5a5b5d" stroke-width="0.8" />
<line x1="564.60" y1="650.70" x2="566.90" y2="650.70" stroke="#5a5b5d" stroke-width="0.8" />
<line x1="564.60" y1="677.20" x2="677.80" y2="677.20" stroke="#5a5b5d" stroke-width="0.9" />
<circle cx="594.70" cy="557.90" r="2.05" fill="#c4c4c4" stroke="#6b6b6b" stroke-width="0.7" />
<circle cx="572.30" cy="584.40" r="2.05" fill="#c4c4c4" stroke="#6b6b6b" stroke-width="0.7" />
<circle cx="585.00" cy="607.60" r="2.05" fill="#c4c4c4" stroke="#6b6b6b" stroke-width="0.7" />
<circle cx="591.50" cy="611.70" r="2.05" fill="#c4c4c4" stroke="#6b6b6b" stroke-width="0.7" />
<circle cx="588.20" cy="632.90" r="2.05" fill="#c4c4c4" stroke="#6b6b6b" stroke-width="0.7" />
<circle cx="581.40" cy="639.40" r="2.05" fill="#c4c4c4" stroke="#6b6b6b" stroke-width="0.7" />
<circle cx="578.30" cy="639.90" r="2.05" fill="#c4c4c4" stroke="#6b6b6b" stroke-width="0.7" />
<circle cx="575.40" cy="643.20" r="2.05" fill="#c4c4c4" stroke="#6b6b6b" stroke-width="0.7" />
<circle cx="611.09" cy="643.10" r="2.05" fill="#c4c4c4" stroke="#6b6b6b" stroke-width="0.7" />
<circle cx="616.35" cy="640.77" r="2.05" fill="#c4c4c4" stroke="#6b6b6b" stroke-width="0.7" />
<circle cx="614.01" cy="645.44" r="2.05" fill="#c4c4c4" stroke="#6b6b6b" stroke-width="0.7" />
<circle cx="619.27" cy="643.69" r="2.05" fill="#c4c4c4" stroke="#6b6b6b" stroke-width="0.7" />
<circle cx="624.53" cy="640.77" r="2.05" fill="#c4c4c4" stroke="#6b6b6b" stroke-width="0.7" />
<circle cx="629.20" cy="641.35" r="2.05" fill="#c4c4c4" stroke="#6b6b6b" stroke-width="0.7" />
<circle cx="627.45" cy="644.27" r="2.05" fill="#c4c4c4" stroke="#6b6b6b" stroke-width="0.7" />
<circle cx="609.93" cy="650.11" r="2.05" fill="#c4c4c4" stroke="#6b6b6b" stroke-width="0.7" />
<circle cx="615.18" cy="651.28" r="2.05" fill="#c4c4c4" stroke="#6b6b6b" stroke-width="0.7" />
<circle cx="618.10" cy="648.94" r="2.05" fill="#c4c4c4" stroke="#6b6b6b" stroke-width="0.7" />
<circle cx="621.02" cy="646.61" r="2.05" fill="#c4c4c4" stroke="#6b6b6b" stroke-width="0.7" />
<circle cx="625.11" cy="648.94" r="2.05" fill="#c4c4c4" stroke="#6b6b6b" stroke-width="0.7" />
<circle cx="628.03" cy="648.94" r="2.05" fill="#c4c4c4" stroke="#6b6b6b" stroke-width="0.7" />
<circle cx="630.95" cy="647.19" r="2.05" fill="#c4c4c4" stroke="#6b6b6b" stroke-width="0.7" />
<circle cx="632.12" cy="650.11" r="2.05" fill="#c4c4c4" stroke="#6b6b6b" stroke-width="0.7" />
<circle cx="621.61" cy="653.61" r="2.05" fill="#c4c4c4" stroke="#6b6b6b" stroke-width="0.7" />
<circle cx="610.51" cy="655.60" r="2.05" fill="#c4c4c4" stroke="#6b6b6b" stroke-width="0.7" />
<circle cx="623.36" cy="650.11" r="2.05" fill="#c4c4c4" stroke="#6b6b6b" stroke-width="0.7" />
<circle cx="613.43" cy="646.02" r="2.05" fill="#c4c4c4" stroke="#6b6b6b" stroke-width="0.7" />
<circle cx="630.36" cy="648.36" r="2.05" fill="#c4c4c4" stroke="#6b6b6b" stroke-width="0.7" />
<circle cx="617.52" cy="644.27" r="2.05" fill="#c4c4c4" stroke="#6b6b6b" stroke-width="0.7" />
<circle cx="648.50" cy="636.30" r="2.05" fill="#c4c4c4" stroke="#6b6b6b" stroke-width="0.7" />
<circle cx="662.38" cy="651.75" r="2.05" fill="#c4c4c4" stroke="#6b6b6b" stroke-width="0.7" />
<circle cx="666.44" cy="646.76" r="2.05" fill="#c4c4c4" stroke="#6b6b6b" stroke-width="0.7" />
<circle cx="653.60" cy="646.34" r="2.05" fill="#c4c4c4" stroke="#6b6b6b" stroke-width="0.7" />
<circle cx="645.64" cy="656.13" r="2.05" fill="#c4c4c4" stroke="#6b6b6b" stroke-width="0.7" />
<circle cx="667.02" cy="647.89" r="2.05" fill="#c4c4c4" stroke="#6b6b6b" stroke-width="0.7" />
<circle cx="653.68" cy="652.00" r="2.05" fill="#c4c4c4" stroke="#6b6b6b" stroke-width="0.7" />
<circle cx="652.38" cy="646.59" r="2.05" fill="#c4c4c4" stroke="#6b6b6b" stroke-width="0.7" />
<circle cx="659.12" cy="653.42" r="2.05" fill="#c4c4c4" stroke="#6b6b6b" stroke-width="0.7" />
<circle cx="672.38" cy="648.58" r="2.05" fill="#c4c4c4" stroke="#6b6b6b" stroke-width="0.7" />
<circle cx="662.30" cy="645.08" r="2.05" fill="#c4c4c4" stroke="#6b6b6b" stroke-width="0.7" />
<circle cx="651.31" cy="649.51" r="2.05" fill="#c4c4c4" stroke="#6b6b6b" stroke-width="0.7" />
<circle cx="662.04" cy="651.64" r="2.05" fill="#c4c4c4" stroke="#6b6b6b" stroke-width="0.7" />
<circle cx="646.46" cy="649.71" r="2.05" fill="#c4c4c4" stroke="#6b6b6b" stroke-width="0.7" />
<circle cx="658.09" cy="648.24" r="2.05" fill="#c4c4c4" stroke="#6b6b6b" stroke-width="0.7" />
<circle cx="662.49" cy="650.98" r="2.05" fill="#c4c4c4" stroke="#6b6b6b" stroke-width="0.7" />
<circle cx="658.92" cy="648.49" r="2.05" fill="#c4c4c4" stroke="#6b6b6b" stroke-width="0.7" />
<circle cx="650.69" cy="647.10" r="2.05" fill="#c4c4c4" stroke="#6b6b6b" stroke-width="0.7" />
<circle cx="650.92" cy="647.11" r="2.05" fill="#c4c4c4" stroke="#6b6b6b" stroke-width="0.7" />
<circle cx="645.60" cy="654.21" r="2.05" fill="#c4c4c4" stroke="#6b6b6b" stroke-width="0.7" />
<circle cx="649.67" cy="650.03" r="2.05" fill="#c4c4c4" stroke="#6b6b6b" stroke-width="0.7" />
<circle cx="669.27" cy="650.77" r="2.05" fill="#c4c4c4" stroke="#6b6b6b" stroke-width="0.7" />
<circle cx="668.37" cy="650.82" r="2.05" fill="#c4c4c4" stroke="#6b6b6b" stroke-width="0.7" />
<circle cx="665.53" cy="644.00" r="2.05" fill="#c4c4c4" stroke="#6b6b6b" stroke-width="0.7" />
<circle cx="660.11" cy="651.00" r="2.05" fill="#c4c4c4" stroke="#6b6b6b" stroke-width="0.7" />
<circle cx="669.03" cy="658.90" r="2.05" fill="#c4c4c4" stroke="#6b6b6b" stroke-width="0.7" />
<circle cx="661.65" cy="645.46" r="2.05" fill="#c4c4c4" stroke="#6b6b6b" stroke-width="0.7" />
<circle cx="655.97" cy="652.92" r="2.05" fill="#c4c4c4" stroke="#6b6b6b" stroke-width="0.7" />
<circle cx="649.56" cy="653.37" r="2.05" fill="#c4c4c4" stroke="#6b6b6b" stroke-width="0.7" />
<circle cx="655.75" cy="653.30" r="2.05" fill="#c4c4c4" stroke="#6b6b6b" stroke-width="0.7" />
<circle cx="661.43" cy="647.66" r="2.05" fill="#c4c4c4" stroke="#6b6b6b" stroke-width="0.7" />
<circle cx="662.73" cy="648.55" r="2.05" fill="#c4c4c4" stroke="#6b6b6b" stroke-width="0.7" />
<circle cx="649.57" cy="645.51" r="2.05" fill="#c4c4c4" stroke="#6b6b6b" stroke-width="0.7" />
<circle cx="651.97" cy="649.68" r="2.05" fill="#c4c4c4" stroke="#6b6b6b" stroke-width="0.7" />
<circle cx="648.11" cy="655.31" r="2.05" fill="#c4c4c4" stroke="#6b6b6b" stroke-width="0.7" />
<circle cx="651.31" cy="647.16" r="2.05" fill="#c4c4c4" stroke="#6b6b6b" stroke-width="0.7" />
<circle cx="653.61" cy="642.13" r="2.05" fill="#c4c4c4" stroke="#6b6b6b" stroke-width="0.7" />
<circle cx="663.38" cy="650.09" r="2.05" fill="#c4c4c4" stroke="#6b6b6b" stroke-width="0.7" />
<circle cx="668.32" cy="653.40" r="2.05" fill="#c4c4c4" stroke="#6b6b6b" stroke-width="0.7" />
<circle cx="669.91" cy="648.95" r="2.05" fill="#c4c4c4" stroke="#6b6b6b" stroke-width="0.7" />
<circle cx="649.43" cy="656.90" r="2.05" fill="#c4c4c4" stroke="#6b6b6b" stroke-width="0.7" />
<circle cx="670.55" cy="649.22" r="2.05" fill="#c4c4c4" stroke="#6b6b6b" stroke-width="0.7" />
<circle cx="650.37" cy="649.99" r="2.05" fill="#c4c4c4" stroke="#6b6b6b" stroke-width="0.7" />
<circle cx="662.82" cy="645.82" r="2.05" fill="#c4c4c4" stroke="#6b6b6b" stroke-width="0.7" />
<circle cx="655.66" cy="648.64" r="2.05" fill="#c4c4c4" stroke="#6b6b6b" stroke-width="0.7" />
<circle cx="651.97" cy="653.24" r="2.05" fill="#c4c4c4" stroke="#6b6b6b" stroke-width="0.7" />
<circle cx="669.16" cy="653.31" r="2.05" fill="#c4c4c4" stroke="#6b6b6b" stroke-width="0.7" />
<circle cx="660.29" cy="654.92" r="2.05" fill="#c4c4c4" stroke="#6b6b6b" stroke-width="0.7" />
<circle cx="665.79" cy="652.95" r="2.05" fill="#c4c4c4" stroke="#6b6b6b" stroke-width="0.7" />
<circle cx="655.55" cy="651.96" r="2.05" fill="#c4c4c4" stroke="#6b6b6b" stroke-width="0.7" />
<circle cx="648.82" cy="641.95" r="2.05" fill="#c4c4c4" stroke="#6b6b6b" stroke-width="0.7" />
<circle cx="663.26" cy="646.72" r="2.05" fill="#c4c4c4" stroke="#6b6b6b" stroke-width="0.7" />
<circle cx="659.64" cy="659.93" r="2.05" fill="#c4c4c4" stroke="#6b6b6b" stroke-width="0.7" />
<circle cx="654.79" cy="647.88" r="2.05" fill="#c4c4c4" stroke="#6b6b6b" stroke-width="0.7" />
<circle cx="663.96" cy="652.57" r="2.05" fill="#c4c4c4" stroke="#6b6b6b" stroke-width="0.7" />
<circle cx="659.52" cy="649.64" r="2.05" fill="#c4c4c4" stroke="#6b6b6b" stroke-width="0.7" />
<path d="M587.00,538.50 L587.00,535.50 L654.40,535.50 L654.40,538.50" fill="none" stroke="#777" stroke-width="0.9" />
<polygon points="614.20,528.80 614.74,530.25 616.29,530.32 615.08,531.29 615.49,532.78 614.20,531.92 612.91,532.78 613.32,531.29 612.11,530.32 613.66,530.25" fill="#1a1a1a"/>
<polygon points="619.60,528.80 620.14,530.25 621.69,530.32 620.48,531.29 620.89,532.78 619.60,531.92 618.31,532.78 618.72,531.29 617.51,530.32 619.06,530.25" fill="#1a1a1a"/>
<polygon points="625.00,528.80 625.54,530.25 627.09,530.32 625.88,531.29 626.29,532.78 625.00,531.92 623.71,532.78 624.12,531.29 622.91,530.32 624.46,530.25" fill="#1a1a1a"/>
<path d="M592.70,554.20 L592.70,551.60 L617.50,551.60 L617.50,554.20" fill="none" stroke="#777" stroke-width="0.9" />
<polygon points="600.00,544.70 600.54,546.15 602.09,546.22 600.88,547.19 601.29,548.68 600.00,547.82 598.71,548.68 599.12,547.19 597.91,546.22 599.46,546.15" fill="#1a1a1a"/>
<polygon points="605.00,544.70 605.54,546.15 607.09,546.22 605.88,547.19 606.29,548.68 605.00,547.82 603.71,548.68 604.12,547.19 602.91,546.22 604.46,546.15" fill="#1a1a1a"/>
<polygon points="610.00,544.70 610.54,546.15 612.09,546.22 610.88,547.19 611.29,548.68 610.00,547.82 608.71,548.68 609.12,547.19 607.91,546.22 609.46,546.15" fill="#1a1a1a"/>
<text x="559.60" y="548.30" font-size="10.5" fill="#231f20" stroke="#231f20" stroke-width="0.22" text-anchor="end" textLength="12.2" lengthAdjust="spacingAndGlyphs">20</text>
<text x="559.60" y="601.30" font-size="10.5" fill="#231f20" stroke="#231f20" stroke-width="0.22" text-anchor="end" textLength="12.2" lengthAdjust="spacingAndGlyphs">10</text>
<text x="559.60" y="655.00" font-size="10.5" fill="#231f20" stroke="#231f20" stroke-width="0.22" text-anchor="end" textLength="6.1" lengthAdjust="spacingAndGlyphs">0</text>
<text x="587.00" y="684.60" font-size="10.5" fill="#231f20" stroke="#231f20" stroke-width="0.22" text-anchor="end" textLength="43.5" lengthAdjust="spacingAndGlyphs" transform="rotate(-45 587.00 684.60)">1st deep</text>
<text x="628.20" y="684.60" font-size="10.5" fill="#231f20" stroke="#231f20" stroke-width="0.22" text-anchor="end" textLength="65.0" lengthAdjust="spacingAndGlyphs" transform="rotate(-45 628.20 684.60)">Further deep</text>
<text x="665.00" y="684.60" font-size="10.5" fill="#231f20" stroke="#231f20" stroke-width="0.22" text-anchor="end" textLength="25.5" lengthAdjust="spacingAndGlyphs" transform="rotate(-45 665.00 684.60)">Brief</text>
<text x="539.00" y="678.00" font-size="10.5" fill="#231f20" stroke="#231f20" stroke-width="0.22" textLength="161.0" lengthAdjust="spacingAndGlyphs" transform="rotate(-90 539.00 678.00)">Calcium activity (<tspan font-style="italic">z</tspan>-scored Δ<tspan font-style="italic">F</tspan>/<tspan font-style="italic">F</tspan>)</text>
</svg>
</body></html>
